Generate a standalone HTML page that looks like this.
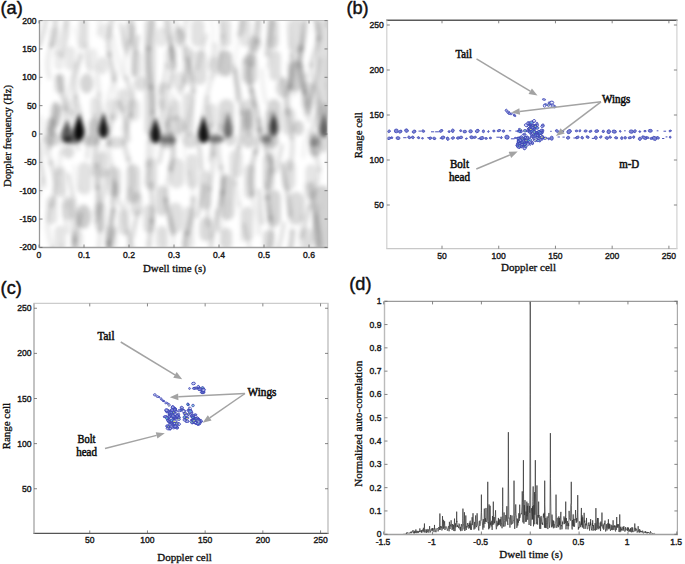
<!DOCTYPE html>
<html><head><meta charset="utf-8"><style>html,body{margin:0;padding:0;background:#fff;overflow:hidden}svg{display:block}</style></head>
<body>
<svg width="685" height="564" viewBox="0 0 685 564">
<defs><filter id="blurA" x="-20%" y="-20%" width="140%" height="140%"><feGaussianBlur stdDeviation="2.3"/></filter><filter id="soft" x="-5%" y="-5%" width="110%" height="110%"><feGaussianBlur stdDeviation="0.45"/></filter><filter id="blurB" x="-30%" y="-30%" width="160%" height="160%"><feGaussianBlur stdDeviation="2.2"/></filter><filter id="blurL" x="-10%" y="-10%" width="120%" height="120%"><feGaussianBlur stdDeviation="2.0"/></filter><clipPath id="clipA"><rect x="39.5" y="20.5" width="288" height="227"/></clipPath></defs>
<rect width="685" height="564" fill="#fff"/>
<rect x="39.5" y="20.5" width="288.0" height="227.0" fill="#ffffff"/>
<g clip-path="url(#clipA)"><g filter="url(#blurA)">
<rect x="78.8" y="18.5" width="9.35" height="30.52" rx="4.68" fill="#000" fill-opacity="0.127"/>
<ellipse cx="86.6" cy="83.5" rx="6.79" ry="9.97" fill="#000" fill-opacity="0.166"/>
<rect x="54.4" y="73.5" width="10.41" height="19.93" rx="5.20" fill="#000" fill-opacity="0.127"/>
<rect x="49.1" y="27.0" width="9.35" height="19.93" rx="4.68" fill="#000" fill-opacity="0.076"/>
<rect x="54.4" y="50.3" width="9.35" height="19.93" rx="4.68" fill="#000" fill-opacity="0.076"/>
<rect x="65.0" y="46.0" width="10.41" height="24.17" rx="5.20" fill="#000" fill-opacity="0.089"/>
<rect x="86.2" y="48.1" width="11.47" height="22.05" rx="5.73" fill="#000" fill-opacity="0.076"/>
<ellipse cx="102.5" cy="65.5" rx="5.73" ry="8.91" fill="#000" fill-opacity="0.102"/>
<ellipse cx="105.7" cy="31.6" rx="6.79" ry="8.91" fill="#000" fill-opacity="0.076"/>
<rect x="122.2" y="22.7" width="13.58" height="28.40" rx="6.79" fill="#000" fill-opacity="0.089"/>
<rect x="130.6" y="50.3" width="11.47" height="26.29" rx="5.73" fill="#000" fill-opacity="0.102"/>
<ellipse cx="140.6" cy="83.5" rx="5.73" ry="7.85" fill="#000" fill-opacity="0.127"/>
<rect x="144.4" y="18.5" width="11.47" height="117.10" rx="5.73" fill="#000" fill-opacity="0.127"/>
<rect x="156.0" y="27.0" width="11.47" height="19.93" rx="5.73" fill="#000" fill-opacity="0.089"/>
<rect x="164.5" y="48.1" width="11.47" height="22.05" rx="5.73" fill="#000" fill-opacity="0.089"/>
<ellipse cx="179.2" cy="35.9" rx="6.26" ry="8.91" fill="#000" fill-opacity="0.102"/>
<ellipse cx="179.2" cy="81.4" rx="6.26" ry="9.97" fill="#000" fill-opacity="0.102"/>
<rect x="117.9" y="88.4" width="11.47" height="24.17" rx="5.73" fill="#000" fill-opacity="0.115"/>
<rect x="128.5" y="98.9" width="11.47" height="22.05" rx="5.73" fill="#000" fill-opacity="0.102"/>
<rect x="50.2" y="103.2" width="11.47" height="24.17" rx="5.73" fill="#000" fill-opacity="0.102"/>
<rect x="67.1" y="98.9" width="10.41" height="17.82" rx="5.20" fill="#000" fill-opacity="0.089"/>
<rect x="90.4" y="96.8" width="9.35" height="22.05" rx="4.68" fill="#000" fill-opacity="0.102"/>
<rect x="107.4" y="98.9" width="11.47" height="22.05" rx="5.73" fill="#000" fill-opacity="0.089"/>
<rect x="158.2" y="82.0" width="11.47" height="28.40" rx="5.73" fill="#000" fill-opacity="0.102"/>
<rect x="168.7" y="98.9" width="11.47" height="22.05" rx="5.73" fill="#000" fill-opacity="0.102"/>
<rect x="46.0" y="118.0" width="9.35" height="17.61" rx="4.68" fill="#000" fill-opacity="0.140"/>
<rect x="88.3" y="118.0" width="10.41" height="17.61" rx="5.20" fill="#000" fill-opacity="0.166"/>
<ellipse cx="175.0" cy="125.7" rx="10.50" ry="9.86" fill="#000" fill-opacity="0.140"/>
<rect x="191.0" y="18.5" width="13.58" height="28.40" rx="6.79" fill="#000" fill-opacity="0.115"/>
<rect x="193.1" y="50.3" width="13.58" height="34.75" rx="6.79" fill="#000" fill-opacity="0.127"/>
<rect x="218.5" y="50.3" width="13.58" height="26.29" rx="6.79" fill="#000" fill-opacity="0.204"/>
<rect x="220.6" y="18.5" width="10.41" height="28.40" rx="5.20" fill="#000" fill-opacity="0.115"/>
<ellipse cx="213.6" cy="65.5" rx="5.73" ry="8.91" fill="#000" fill-opacity="0.089"/>
<rect x="239.7" y="18.5" width="11.47" height="28.40" rx="5.73" fill="#000" fill-opacity="0.102"/>
<rect x="241.8" y="54.5" width="15.70" height="30.52" rx="7.85" fill="#000" fill-opacity="0.140"/>
<rect x="267.2" y="18.5" width="11.47" height="30.52" rx="5.73" fill="#000" fill-opacity="0.140"/>
<rect x="269.3" y="50.3" width="11.47" height="30.52" rx="5.73" fill="#000" fill-opacity="0.127"/>
<rect x="288.3" y="18.5" width="15.70" height="34.75" rx="7.85" fill="#000" fill-opacity="0.127"/>
<rect x="288.3" y="60.8" width="15.70" height="30.52" rx="7.85" fill="#000" fill-opacity="0.166"/>
<ellipse cx="283.5" cy="87.7" rx="7.85" ry="9.97" fill="#000" fill-opacity="0.140"/>
<rect x="315.9" y="18.5" width="14.64" height="117.10" rx="7.32" fill="#000" fill-opacity="0.127"/>
<rect x="301.0" y="82.0" width="13.58" height="28.40" rx="6.79" fill="#000" fill-opacity="0.102"/>
<rect x="182.5" y="46.0" width="9.35" height="38.99" rx="4.68" fill="#000" fill-opacity="0.102"/>
<rect x="182.5" y="92.6" width="11.47" height="43.01" rx="5.73" fill="#000" fill-opacity="0.115"/>
<rect x="205.8" y="103.2" width="11.47" height="24.17" rx="5.73" fill="#000" fill-opacity="0.102"/>
<rect x="218.5" y="98.9" width="15.70" height="36.66" rx="7.85" fill="#000" fill-opacity="0.140"/>
<rect x="241.8" y="98.9" width="13.58" height="36.66" rx="6.79" fill="#000" fill-opacity="0.127"/>
<rect x="267.2" y="98.9" width="13.58" height="36.66" rx="6.79" fill="#000" fill-opacity="0.166"/>
<rect x="282.0" y="107.4" width="13.58" height="28.19" rx="6.79" fill="#000" fill-opacity="0.115"/>
<ellipse cx="298.3" cy="127.9" rx="5.73" ry="7.74" fill="#000" fill-opacity="0.166"/>
<rect x="318.0" y="103.2" width="12.53" height="32.42" rx="6.26" fill="#000" fill-opacity="0.166"/>
<ellipse cx="254.9" cy="43.3" rx="6.79" ry="7.85" fill="#000" fill-opacity="0.102"/>
<ellipse cx="167.1" cy="140.4" rx="8.91" ry="7.85" fill="#000" fill-opacity="0.217"/>
<ellipse cx="90.9" cy="140.4" rx="8.91" ry="5.73" fill="#000" fill-opacity="0.191"/>
<ellipse cx="52.8" cy="139.3" rx="8.91" ry="6.79" fill="#000" fill-opacity="0.166"/>
<ellipse cx="116.3" cy="142.5" rx="8.91" ry="5.73" fill="#000" fill-opacity="0.140"/>
<ellipse cx="68.6" cy="152.0" rx="5.73" ry="6.79" fill="#000" fill-opacity="0.140"/>
<rect x="77.7" y="162.1" width="13.58" height="32.64" rx="6.79" fill="#000" fill-opacity="0.115"/>
<rect x="54.4" y="166.4" width="11.47" height="30.52" rx="5.73" fill="#000" fill-opacity="0.115"/>
<rect x="96.8" y="151.6" width="11.47" height="26.29" rx="5.73" fill="#000" fill-opacity="0.115"/>
<rect x="107.4" y="166.4" width="13.58" height="30.52" rx="6.79" fill="#000" fill-opacity="0.127"/>
<rect x="126.4" y="164.3" width="13.58" height="38.99" rx="6.79" fill="#000" fill-opacity="0.140"/>
<rect x="145.5" y="157.9" width="11.47" height="32.64" rx="5.73" fill="#000" fill-opacity="0.127"/>
<rect x="156.0" y="185.4" width="11.47" height="30.52" rx="5.73" fill="#000" fill-opacity="0.140"/>
<rect x="168.7" y="157.9" width="15.70" height="30.52" rx="7.85" fill="#000" fill-opacity="0.115"/>
<ellipse cx="83.5" cy="216.6" rx="7.85" ry="12.08" fill="#000" fill-opacity="0.191"/>
<rect x="62.9" y="196.0" width="11.47" height="24.17" rx="5.73" fill="#000" fill-opacity="0.115"/>
<rect x="94.7" y="202.4" width="11.47" height="28.40" rx="5.73" fill="#000" fill-opacity="0.115"/>
<rect x="117.9" y="208.7" width="11.47" height="26.29" rx="5.73" fill="#000" fill-opacity="0.115"/>
<rect x="130.6" y="191.8" width="11.47" height="24.17" rx="5.73" fill="#000" fill-opacity="0.127"/>
<rect x="143.3" y="204.5" width="11.47" height="28.40" rx="5.73" fill="#000" fill-opacity="0.127"/>
<rect x="168.7" y="202.4" width="13.58" height="30.52" rx="6.79" fill="#000" fill-opacity="0.127"/>
<rect x="46.0" y="196.0" width="11.47" height="28.40" rx="5.73" fill="#000" fill-opacity="0.102"/>
<rect x="54.4" y="225.6" width="11.47" height="23.96" rx="5.73" fill="#000" fill-opacity="0.102"/>
<rect x="71.4" y="229.9" width="11.47" height="19.72" rx="5.73" fill="#000" fill-opacity="0.102"/>
<rect x="105.2" y="225.6" width="11.47" height="23.96" rx="5.73" fill="#000" fill-opacity="0.115"/>
<rect x="156.0" y="225.6" width="11.47" height="23.96" rx="5.73" fill="#000" fill-opacity="0.115"/>
<ellipse cx="190.4" cy="140.4" rx="7.85" ry="7.85" fill="#000" fill-opacity="0.140"/>
<ellipse cx="230.6" cy="139.3" rx="5.73" ry="6.79" fill="#000" fill-opacity="0.140"/>
<ellipse cx="248.6" cy="140.4" rx="6.79" ry="7.85" fill="#000" fill-opacity="0.166"/>
<ellipse cx="270.8" cy="140.4" rx="7.85" ry="7.85" fill="#000" fill-opacity="0.217"/>
<rect x="309.5" y="132.5" width="11.47" height="24.17" rx="5.73" fill="#000" fill-opacity="0.217"/>
<ellipse cx="324.2" cy="142.5" rx="6.26" ry="9.97" fill="#000" fill-opacity="0.140"/>
<rect x="186.7" y="153.7" width="11.47" height="34.75" rx="5.73" fill="#000" fill-opacity="0.115"/>
<rect x="199.4" y="170.6" width="11.47" height="38.99" rx="5.73" fill="#000" fill-opacity="0.127"/>
<rect x="220.6" y="174.8" width="13.58" height="45.34" rx="6.79" fill="#000" fill-opacity="0.166"/>
<rect x="229.1" y="149.4" width="13.58" height="28.40" rx="6.79" fill="#000" fill-opacity="0.102"/>
<rect x="243.9" y="164.3" width="11.47" height="34.75" rx="5.73" fill="#000" fill-opacity="0.115"/>
<rect x="241.8" y="206.6" width="11.47" height="34.75" rx="5.73" fill="#000" fill-opacity="0.127"/>
<rect x="262.9" y="153.7" width="11.47" height="36.87" rx="5.73" fill="#000" fill-opacity="0.140"/>
<rect x="267.2" y="189.7" width="13.58" height="36.87" rx="6.79" fill="#000" fill-opacity="0.166"/>
<rect x="282.0" y="160.0" width="13.58" height="30.52" rx="6.79" fill="#000" fill-opacity="0.115"/>
<rect x="288.3" y="191.8" width="15.70" height="32.64" rx="7.85" fill="#000" fill-opacity="0.140"/>
<rect x="305.3" y="164.3" width="11.47" height="34.75" rx="5.73" fill="#000" fill-opacity="0.102"/>
<rect x="313.7" y="185.4" width="16.76" height="64.18" rx="8.38" fill="#000" fill-opacity="0.178"/>
<rect x="199.4" y="217.2" width="13.58" height="24.17" rx="6.79" fill="#000" fill-opacity="0.140"/>
<rect x="220.6" y="227.8" width="11.47" height="21.84" rx="5.73" fill="#000" fill-opacity="0.140"/>
<rect x="262.9" y="229.9" width="11.47" height="19.72" rx="5.73" fill="#000" fill-opacity="0.140"/>
<rect x="301.0" y="227.8" width="11.47" height="21.84" rx="5.73" fill="#000" fill-opacity="0.115"/>
<rect x="182.5" y="206.6" width="11.47" height="43.01" rx="5.73" fill="#000" fill-opacity="0.102"/>
</g>
<g filter="url(#blurL)">
<path d="M35.7,12.5 L34.4,19.1 L32.9,25.6 L31.6,32.2 L30.8,38.7" stroke="#000" stroke-opacity="0.15" stroke-width="5" fill="none" stroke-linecap="round"/>
<path d="M30.8,38.7 L31.0,45.3 L31.9,51.9 L33.3,58.4 L34.8,65.0" stroke="#000" stroke-opacity="0.07" stroke-width="5" fill="none" stroke-linecap="round"/>
<path d="M34.8,65.0 L36.1,74.3 L35.8,83.5 L34.0,92.8 L32.0,102.1" stroke="#000" stroke-opacity="0.10" stroke-width="5" fill="none" stroke-linecap="round"/>
<path d="M32.0,102.1 L30.8,113.0 L31.9,123.8 L34.3,134.7 L36.1,145.6" stroke="#000" stroke-opacity="0.09" stroke-width="5" fill="none" stroke-linecap="round"/>
<path d="M36.1,145.6 L36.0,153.2 L34.9,160.8 L33.2,168.5 L31.6,176.1" stroke="#000" stroke-opacity="0.12" stroke-width="5" fill="none" stroke-linecap="round"/>
<path d="M31.6,176.1 L30.9,182.5 L30.9,188.8 L31.8,195.2 L33.1,201.5" stroke="#000" stroke-opacity="0.17" stroke-width="5" fill="none" stroke-linecap="round"/>
<path d="M33.1,201.5 L34.8,208.9 L36.0,216.2 L36.2,223.5 L35.3,230.9" stroke="#000" stroke-opacity="0.07" stroke-width="5" fill="none" stroke-linecap="round"/>
<path d="M54.0,12.5 L55.4,20.8 L55.3,29.1 L53.7,37.4 L51.2,45.7" stroke="#000" stroke-opacity="0.15" stroke-width="5" fill="none" stroke-linecap="round"/>
<path d="M51.2,45.7 L48.9,53.6 L47.6,61.6 L47.8,69.5 L49.4,77.4" stroke="#000" stroke-opacity="0.08" stroke-width="5" fill="none" stroke-linecap="round"/>
<path d="M55.6,104.2 L55.2,110.5 L53.9,116.7 L52.1,123.0 L50.2,129.3" stroke="#000" stroke-opacity="0.19" stroke-width="5" fill="none" stroke-linecap="round"/>
<path d="M50.2,129.3 L48.1,137.6 L47.5,146.0 L48.6,154.3 L50.8,162.6" stroke="#000" stroke-opacity="0.09" stroke-width="5" fill="none" stroke-linecap="round"/>
<path d="M50.8,162.6 L54.0,173.3 L55.6,183.9 L54.5,194.5 L51.6,205.1" stroke="#000" stroke-opacity="0.12" stroke-width="5" fill="none" stroke-linecap="round"/>
<path d="M51.6,205.1 L48.5,216.2 L47.6,227.3 L49.5,238.5 L52.9,249.6" stroke="#000" stroke-opacity="0.07" stroke-width="5" fill="none" stroke-linecap="round"/>
<path d="M52.9,249.6 L54.5,255.9 L55.5,262.3 L55.5,268.6 L54.5,275.0" stroke="#000" stroke-opacity="0.18" stroke-width="5" fill="none" stroke-linecap="round"/>
<path d="M65.7,12.5 L67.0,23.4 L66.5,34.3 L64.3,45.2 L61.6,56.1" stroke="#000" stroke-opacity="0.13" stroke-width="5" fill="none" stroke-linecap="round"/>
<path d="M59.4,77.0 L60.4,85.0 L62.1,92.9 L64.1,100.9 L65.9,108.9" stroke="#000" stroke-opacity="0.16" stroke-width="5" fill="none" stroke-linecap="round"/>
<path d="M65.9,108.9 L66.7,114.4 L67.1,119.9 L67.0,125.4 L66.4,130.9" stroke="#000" stroke-opacity="0.08" stroke-width="5" fill="none" stroke-linecap="round"/>
<path d="M66.4,130.9 L65.3,136.4 L64.0,142.0 L62.6,147.5 L61.3,153.0" stroke="#000" stroke-opacity="0.06" stroke-width="5" fill="none" stroke-linecap="round"/>
<path d="M61.3,153.0 L60.3,158.1 L59.6,163.1 L59.3,168.2 L59.5,173.2" stroke="#000" stroke-opacity="0.06" stroke-width="5" fill="none" stroke-linecap="round"/>
<path d="M59.5,173.2 L60.5,181.5 L62.4,189.7 L64.4,198.0 L66.2,206.3" stroke="#000" stroke-opacity="0.04" stroke-width="5" fill="none" stroke-linecap="round"/>
<path d="M62.0,246.0 L60.6,252.3 L59.7,258.6 L59.3,264.9 L59.7,271.2" stroke="#000" stroke-opacity="0.05" stroke-width="5" fill="none" stroke-linecap="round"/>
<path d="M80.6,55.6 L77.8,66.0 L75.1,76.4 L74.2,86.8 L75.6,97.2" stroke="#000" stroke-opacity="0.12" stroke-width="5" fill="none" stroke-linecap="round"/>
<path d="M75.6,97.2 L78.2,106.8 L80.7,116.5 L81.8,126.2 L80.8,135.8" stroke="#000" stroke-opacity="0.12" stroke-width="5" fill="none" stroke-linecap="round"/>
<path d="M74.2,166.0 L74.5,171.9 L75.5,177.8 L77.0,183.7 L78.7,189.6" stroke="#000" stroke-opacity="0.03" stroke-width="5" fill="none" stroke-linecap="round"/>
<path d="M81.3,214.1 L80.1,220.4 L78.3,226.7 L76.5,233.0 L75.1,239.3" stroke="#000" stroke-opacity="0.11" stroke-width="5" fill="none" stroke-linecap="round"/>
<path d="M75.1,239.3 L74.2,249.1 L75.4,258.9 L78.1,268.7 L80.6,278.5" stroke="#000" stroke-opacity="0.15" stroke-width="5" fill="none" stroke-linecap="round"/>
<path d="M100.2,12.5 L99.9,18.0 L99.5,23.4 L99.0,28.9 L98.4,34.3" stroke="#000" stroke-opacity="0.06" stroke-width="5" fill="none" stroke-linecap="round"/>
<path d="M96.7,69.0 L97.1,75.3 L97.7,81.7 L98.3,88.0 L99.0,94.4" stroke="#000" stroke-opacity="0.08" stroke-width="5" fill="none" stroke-linecap="round"/>
<path d="M99.0,94.4 L99.9,104.5 L100.3,114.6 L100.1,124.8 L99.3,134.9" stroke="#000" stroke-opacity="0.08" stroke-width="5" fill="none" stroke-linecap="round"/>
<path d="M99.3,134.9 L98.5,142.5 L97.7,150.1 L97.1,157.7 L96.7,165.3" stroke="#000" stroke-opacity="0.07" stroke-width="5" fill="none" stroke-linecap="round"/>
<path d="M96.7,165.3 L96.6,170.9 L96.7,176.4 L96.9,182.0 L97.3,187.6" stroke="#000" stroke-opacity="0.17" stroke-width="5" fill="none" stroke-linecap="round"/>
<path d="M97.3,187.6 L98.4,198.4 L99.5,209.1 L100.2,219.9 L100.2,230.7" stroke="#000" stroke-opacity="0.14" stroke-width="5" fill="none" stroke-linecap="round"/>
<path d="M100.2,230.7 L99.8,238.2 L99.2,245.6 L98.4,253.1 L97.6,260.6" stroke="#000" stroke-opacity="0.09" stroke-width="5" fill="none" stroke-linecap="round"/>
<path d="M113.3,12.5 L111.1,23.0 L109.2,33.4 L108.5,43.9 L109.3,54.4" stroke="#000" stroke-opacity="0.14" stroke-width="5" fill="none" stroke-linecap="round"/>
<path d="M109.3,54.4 L110.4,60.7 L111.7,67.1 L113.1,73.5 L114.3,79.8" stroke="#000" stroke-opacity="0.16" stroke-width="5" fill="none" stroke-linecap="round"/>
<path d="M114.3,79.8 L115.3,89.0 L115.3,98.2 L114.1,107.5 L112.3,116.7" stroke="#000" stroke-opacity="0.05" stroke-width="5" fill="none" stroke-linecap="round"/>
<path d="M112.3,116.7 L110.8,123.5 L109.6,130.4 L108.8,137.2 L108.6,144.1" stroke="#000" stroke-opacity="0.14" stroke-width="5" fill="none" stroke-linecap="round"/>
<path d="M108.6,144.1 L108.9,149.6 L109.5,155.1 L110.5,160.6 L111.7,166.1" stroke="#000" stroke-opacity="0.08" stroke-width="5" fill="none" stroke-linecap="round"/>
<path d="M111.7,166.1 L114.0,177.1 L115.3,188.1 L115.2,199.2 L113.5,210.2" stroke="#000" stroke-opacity="0.05" stroke-width="5" fill="none" stroke-linecap="round"/>
<path d="M113.5,210.2 L111.8,218.3 L110.1,226.5 L108.9,234.6 L108.5,242.8" stroke="#000" stroke-opacity="0.17" stroke-width="5" fill="none" stroke-linecap="round"/>
<path d="M108.5,242.8 L109.4,253.2 L111.3,263.7 L113.6,274.2 L115.1,284.6" stroke="#000" stroke-opacity="0.15" stroke-width="5" fill="none" stroke-linecap="round"/>
<path d="M129.7,12.5 L131.9,20.1 L132.7,27.6 L131.9,35.2 L129.8,42.7" stroke="#000" stroke-opacity="0.13" stroke-width="5" fill="none" stroke-linecap="round"/>
<path d="M129.8,42.7 L126.7,51.6 L124.5,60.4 L124.3,69.2 L126.3,78.0" stroke="#000" stroke-opacity="0.05" stroke-width="5" fill="none" stroke-linecap="round"/>
<path d="M126.3,78.0 L129.4,87.2 L132.1,96.5 L132.6,105.7 L130.8,115.0" stroke="#000" stroke-opacity="0.12" stroke-width="5" fill="none" stroke-linecap="round"/>
<path d="M130.8,115.0 L127.0,126.1 L124.3,137.3 L125.0,148.5 L128.4,159.6" stroke="#000" stroke-opacity="0.13" stroke-width="5" fill="none" stroke-linecap="round"/>
<path d="M128.4,159.6 L131.0,167.4 L132.5,175.1 L132.4,182.9 L130.7,190.6" stroke="#000" stroke-opacity="0.07" stroke-width="5" fill="none" stroke-linecap="round"/>
<path d="M130.7,190.6 L127.1,201.2 L124.4,211.7 L124.7,222.3 L127.6,232.8" stroke="#000" stroke-opacity="0.07" stroke-width="5" fill="none" stroke-linecap="round"/>
<path d="M127.6,232.8 L130.7,242.0 L132.6,251.2 L132.1,260.3 L129.6,269.5" stroke="#000" stroke-opacity="0.13" stroke-width="5" fill="none" stroke-linecap="round"/>
<path d="M152.4,12.5 L151.7,21.5 L150.7,30.5 L149.5,39.5 L148.6,48.5" stroke="#000" stroke-opacity="0.13" stroke-width="5" fill="none" stroke-linecap="round"/>
<path d="M148.6,48.5 L148.3,58.1 L148.7,67.8 L149.7,77.4 L150.9,87.1" stroke="#000" stroke-opacity="0.17" stroke-width="5" fill="none" stroke-linecap="round"/>
<path d="M150.9,87.1 L151.7,93.5 L152.2,100.0 L152.4,106.4 L152.3,112.9" stroke="#000" stroke-opacity="0.17" stroke-width="5" fill="none" stroke-linecap="round"/>
<path d="M152.3,112.9 L151.9,120.0 L151.1,127.2 L150.2,134.3 L149.3,141.5" stroke="#000" stroke-opacity="0.08" stroke-width="5" fill="none" stroke-linecap="round"/>
<path d="M149.3,141.5 L148.7,147.2 L148.4,152.9 L148.3,158.6 L148.5,164.3" stroke="#000" stroke-opacity="0.10" stroke-width="5" fill="none" stroke-linecap="round"/>
<path d="M148.5,164.3 L148.8,169.3 L149.3,174.3 L149.9,179.3 L150.6,184.3" stroke="#000" stroke-opacity="0.06" stroke-width="5" fill="none" stroke-linecap="round"/>
<path d="M150.6,184.3 L151.7,193.5 L152.4,202.7 L152.4,211.9 L151.7,221.1" stroke="#000" stroke-opacity="0.14" stroke-width="5" fill="none" stroke-linecap="round"/>
<path d="M151.7,221.1 L151.1,227.2 L150.3,233.2 L149.5,239.3 L148.9,245.3" stroke="#000" stroke-opacity="0.15" stroke-width="5" fill="none" stroke-linecap="round"/>
<path d="M148.9,245.3 L148.4,253.1 L148.3,260.9 L148.8,268.7 L149.6,276.4" stroke="#000" stroke-opacity="0.04" stroke-width="5" fill="none" stroke-linecap="round"/>
<path d="M166.3,12.5 L165.9,21.4 L166.9,30.2 L169.0,39.1 L171.3,48.0" stroke="#000" stroke-opacity="0.12" stroke-width="5" fill="none" stroke-linecap="round"/>
<path d="M171.3,48.0 L173.0,57.8 L173.1,67.6 L171.6,77.3 L169.1,87.1" stroke="#000" stroke-opacity="0.15" stroke-width="5" fill="none" stroke-linecap="round"/>
<path d="M166.1,112.1 L166.8,117.8 L168.0,123.4 L169.5,129.1 L170.9,134.8" stroke="#000" stroke-opacity="0.06" stroke-width="5" fill="none" stroke-linecap="round"/>
<path d="M170.9,134.8 L172.7,143.4 L173.3,152.0 L172.5,160.6 L170.6,169.3" stroke="#000" stroke-opacity="0.18" stroke-width="5" fill="none" stroke-linecap="round"/>
<path d="M170.6,169.3 L168.7,176.9 L166.9,184.5 L165.9,192.1 L166.0,199.7" stroke="#000" stroke-opacity="0.07" stroke-width="5" fill="none" stroke-linecap="round"/>
<path d="M166.0,199.7 L167.3,208.2 L169.3,216.7 L171.5,225.1 L173.0,233.6" stroke="#000" stroke-opacity="0.18" stroke-width="5" fill="none" stroke-linecap="round"/>
<path d="M173.0,233.6 L173.2,242.3 L172.1,251.0 L170.1,259.6 L167.8,268.3" stroke="#000" stroke-opacity="0.06" stroke-width="5" fill="none" stroke-linecap="round"/>
<path d="M188.4,12.5 L186.9,18.6 L185.6,24.7 L184.7,30.7 L184.4,36.8" stroke="#000" stroke-opacity="0.09" stroke-width="5" fill="none" stroke-linecap="round"/>
<path d="M187.6,60.0 L189.6,67.8 L191.5,75.6 L192.8,83.4 L193.3,91.2" stroke="#000" stroke-opacity="0.16" stroke-width="5" fill="none" stroke-linecap="round"/>
<path d="M193.3,91.2 L192.7,100.6 L191.0,110.0 L188.6,119.3 L186.3,128.7" stroke="#000" stroke-opacity="0.08" stroke-width="5" fill="none" stroke-linecap="round"/>
<path d="M186.3,128.7 L184.6,139.7 L184.6,150.7 L186.2,161.6 L188.9,172.6" stroke="#000" stroke-opacity="0.03" stroke-width="5" fill="none" stroke-linecap="round"/>
<path d="M188.9,172.6 L190.6,179.1 L192.0,185.7 L192.9,192.3 L193.3,198.8" stroke="#000" stroke-opacity="0.05" stroke-width="5" fill="none" stroke-linecap="round"/>
<path d="M193.3,198.8 L192.8,207.4 L191.3,216.0 L189.3,224.6 L187.1,233.2" stroke="#000" stroke-opacity="0.17" stroke-width="5" fill="none" stroke-linecap="round"/>
<path d="M187.1,233.2 L185.5,240.5 L184.6,247.9 L184.4,255.3 L185.1,262.7" stroke="#000" stroke-opacity="0.16" stroke-width="5" fill="none" stroke-linecap="round"/>
<path d="M210.4,12.5 L211.7,20.5 L212.7,28.5 L213.3,36.4 L213.3,44.4" stroke="#000" stroke-opacity="0.03" stroke-width="5" fill="none" stroke-linecap="round"/>
<path d="M213.3,44.4 L213.0,49.9 L212.5,55.3 L211.8,60.8 L210.9,66.3" stroke="#000" stroke-opacity="0.05" stroke-width="5" fill="none" stroke-linecap="round"/>
<path d="M207.5,97.8 L207.7,104.8 L208.3,111.9 L209.3,119.0 L210.4,126.0" stroke="#000" stroke-opacity="0.09" stroke-width="5" fill="none" stroke-linecap="round"/>
<path d="M210.4,126.0 L211.5,133.1 L212.5,140.2 L213.1,147.3 L213.4,154.4" stroke="#000" stroke-opacity="0.14" stroke-width="5" fill="none" stroke-linecap="round"/>
<path d="M213.4,154.4 L213.1,163.0 L212.2,171.5 L210.9,180.1 L209.5,188.7" stroke="#000" stroke-opacity="0.10" stroke-width="5" fill="none" stroke-linecap="round"/>
<path d="M209.5,188.7 L208.3,197.6 L207.6,206.6 L207.6,215.5 L208.2,224.5" stroke="#000" stroke-opacity="0.11" stroke-width="5" fill="none" stroke-linecap="round"/>
<path d="M208.2,224.5 L209.2,232.1 L210.4,239.7 L211.6,247.3 L212.6,254.8" stroke="#000" stroke-opacity="0.03" stroke-width="5" fill="none" stroke-linecap="round"/>
<path d="M219.3,12.5 L220.6,18.5 L221.8,24.5 L222.7,30.5 L223.0,36.5" stroke="#000" stroke-opacity="0.08" stroke-width="5" fill="none" stroke-linecap="round"/>
<path d="M223.0,36.5 L222.3,45.8 L220.5,55.2 L218.7,64.5 L218.0,73.9" stroke="#000" stroke-opacity="0.08" stroke-width="5" fill="none" stroke-linecap="round"/>
<path d="M222.9,114.0 L222.2,120.1 L221.1,126.1 L219.8,132.2 L218.7,138.3" stroke="#000" stroke-opacity="0.05" stroke-width="5" fill="none" stroke-linecap="round"/>
<path d="M218.7,138.3 L218.0,145.6 L218.3,152.8 L219.4,160.1 L220.9,167.4" stroke="#000" stroke-opacity="0.11" stroke-width="5" fill="none" stroke-linecap="round"/>
<path d="M220.9,167.4 L222.1,173.6 L222.9,179.9 L223.0,186.1 L222.4,192.4" stroke="#000" stroke-opacity="0.11" stroke-width="5" fill="none" stroke-linecap="round"/>
<path d="M222.4,192.4 L220.7,201.8 L218.8,211.1 L218.0,220.5 L218.7,229.9" stroke="#000" stroke-opacity="0.13" stroke-width="5" fill="none" stroke-linecap="round"/>
<path d="M242.4,12.5 L242.1,18.0 L241.5,23.6 L240.6,29.1 L239.5,34.7" stroke="#000" stroke-opacity="0.15" stroke-width="5" fill="none" stroke-linecap="round"/>
<path d="M239.5,34.7 L237.7,43.7 L236.1,52.7 L235.2,61.8 L235.3,70.8" stroke="#000" stroke-opacity="0.03" stroke-width="5" fill="none" stroke-linecap="round"/>
<path d="M235.3,70.8 L236.5,81.3 L238.5,91.7 L240.6,102.2 L242.1,112.6" stroke="#000" stroke-opacity="0.14" stroke-width="5" fill="none" stroke-linecap="round"/>
<path d="M242.1,112.6 L242.4,121.4 L241.9,130.3 L240.5,139.1 L238.7,148.0" stroke="#000" stroke-opacity="0.15" stroke-width="5" fill="none" stroke-linecap="round"/>
<path d="M238.7,148.0 L237.0,156.8 L235.6,165.6 L235.1,174.4 L235.5,183.3" stroke="#000" stroke-opacity="0.07" stroke-width="5" fill="none" stroke-linecap="round"/>
<path d="M235.5,183.3 L236.1,188.6 L237.0,193.9 L238.1,199.2 L239.2,204.6" stroke="#000" stroke-opacity="0.07" stroke-width="5" fill="none" stroke-linecap="round"/>
<path d="M239.2,204.6 L240.9,213.5 L242.1,222.4 L242.4,231.3 L241.8,240.2" stroke="#000" stroke-opacity="0.04" stroke-width="5" fill="none" stroke-linecap="round"/>
<path d="M258.0,12.5 L258.9,19.9 L259.1,27.2 L258.4,34.6 L256.9,41.9" stroke="#000" stroke-opacity="0.13" stroke-width="5" fill="none" stroke-linecap="round"/>
<path d="M256.9,41.9 L255.5,47.5 L254.1,53.1 L252.7,58.7 L251.5,64.3" stroke="#000" stroke-opacity="0.15" stroke-width="5" fill="none" stroke-linecap="round"/>
<path d="M251.5,64.3 L250.6,70.8 L250.3,77.3 L250.7,83.8 L251.7,90.2" stroke="#000" stroke-opacity="0.09" stroke-width="5" fill="none" stroke-linecap="round"/>
<path d="M251.7,90.2 L254.1,100.2 L256.7,110.1 L258.6,120.1 L259.1,130.1" stroke="#000" stroke-opacity="0.17" stroke-width="5" fill="none" stroke-linecap="round"/>
<path d="M259.1,130.1 L258.7,135.6 L257.9,141.1 L256.8,146.6 L255.4,152.1" stroke="#000" stroke-opacity="0.16" stroke-width="5" fill="none" stroke-linecap="round"/>
<path d="M255.4,152.1 L252.7,162.5 L250.8,173.0 L250.4,183.5 L251.7,193.9" stroke="#000" stroke-opacity="0.16" stroke-width="5" fill="none" stroke-linecap="round"/>
<path d="M251.7,193.9 L254.0,203.8 L256.6,213.6 L258.5,223.5 L259.1,233.3" stroke="#000" stroke-opacity="0.07" stroke-width="5" fill="none" stroke-linecap="round"/>
<path d="M271.1,12.5 L271.8,23.0 L270.5,33.5 L268.3,44.0 L267.0,54.5" stroke="#000" stroke-opacity="0.16" stroke-width="5" fill="none" stroke-linecap="round"/>
<path d="M268.5,112.6 L267.3,119.8 L267.0,127.0 L267.7,134.2 L269.1,141.4" stroke="#000" stroke-opacity="0.12" stroke-width="5" fill="none" stroke-linecap="round"/>
<path d="M269.1,141.4 L270.5,148.4 L271.6,155.4 L271.8,162.4 L271.1,169.4" stroke="#000" stroke-opacity="0.06" stroke-width="5" fill="none" stroke-linecap="round"/>
<path d="M271.1,169.4 L269.7,176.4 L268.2,183.5 L267.2,190.5 L267.1,197.6" stroke="#000" stroke-opacity="0.16" stroke-width="5" fill="none" stroke-linecap="round"/>
<path d="M267.1,197.6 L267.6,202.8 L268.4,208.0 L269.5,213.2 L270.6,218.4" stroke="#000" stroke-opacity="0.16" stroke-width="5" fill="none" stroke-linecap="round"/>
<path d="M270.6,218.4 L271.7,227.2 L271.4,236.0 L269.9,244.9 L268.1,253.7" stroke="#000" stroke-opacity="0.11" stroke-width="5" fill="none" stroke-linecap="round"/>
<path d="M288.0,12.5 L287.8,23.1 L288.8,33.8 L290.7,44.4 L292.1,55.0" stroke="#000" stroke-opacity="0.04" stroke-width="5" fill="none" stroke-linecap="round"/>
<path d="M292.1,55.0 L292.4,63.3 L291.8,71.6 L290.6,79.9 L289.2,88.1" stroke="#000" stroke-opacity="0.19" stroke-width="5" fill="none" stroke-linecap="round"/>
<path d="M289.2,88.1 L288.3,94.5 L287.8,100.8 L287.8,107.1 L288.3,113.4" stroke="#000" stroke-opacity="0.12" stroke-width="5" fill="none" stroke-linecap="round"/>
<path d="M288.3,113.4 L289.1,119.5 L290.1,125.5 L291.2,131.5 L292.0,137.5" stroke="#000" stroke-opacity="0.11" stroke-width="5" fill="none" stroke-linecap="round"/>
<path d="M292.0,137.5 L292.4,145.3 L292.1,153.0 L291.1,160.7 L289.8,168.4" stroke="#000" stroke-opacity="0.11" stroke-width="5" fill="none" stroke-linecap="round"/>
<path d="M289.8,168.4 L288.9,173.6 L288.2,178.8 L287.8,183.9 L287.7,189.1" stroke="#000" stroke-opacity="0.04" stroke-width="5" fill="none" stroke-linecap="round"/>
<path d="M287.7,189.1 L288.6,199.7 L290.3,210.4 L291.9,221.0 L292.4,231.6" stroke="#000" stroke-opacity="0.03" stroke-width="5" fill="none" stroke-linecap="round"/>
<path d="M292.4,231.6 L291.9,238.5 L291.0,245.4 L289.8,252.3 L288.7,259.1" stroke="#000" stroke-opacity="0.19" stroke-width="5" fill="none" stroke-linecap="round"/>
<path d="M305.5,12.5 L306.2,21.5 L305.4,30.5 L303.6,39.6 L301.5,48.6" stroke="#000" stroke-opacity="0.10" stroke-width="5" fill="none" stroke-linecap="round"/>
<path d="M301.5,48.6 L299.9,59.4 L300.0,70.3 L301.9,81.2 L304.4,92.0" stroke="#000" stroke-opacity="0.19" stroke-width="5" fill="none" stroke-linecap="round"/>
<path d="M304.4,92.0 L305.4,97.5 L306.0,102.9 L306.1,108.4 L305.8,113.9" stroke="#000" stroke-opacity="0.11" stroke-width="5" fill="none" stroke-linecap="round"/>
<path d="M305.7,185.3 L306.1,193.5 L305.5,201.6 L304.0,209.7 L302.1,217.9" stroke="#000" stroke-opacity="0.04" stroke-width="5" fill="none" stroke-linecap="round"/>
<path d="M302.1,217.9 L300.4,226.4 L299.7,235.0 L300.2,243.6 L301.7,252.2" stroke="#000" stroke-opacity="0.04" stroke-width="5" fill="none" stroke-linecap="round"/>
<path d="M301.7,252.2 L304.1,262.5 L305.9,272.9 L306.0,283.2 L304.4,293.6" stroke="#000" stroke-opacity="0.08" stroke-width="5" fill="none" stroke-linecap="round"/>
<path d="M313.2,12.5 L315.5,19.1 L317.7,25.6 L318.9,32.2 L318.8,38.7" stroke="#000" stroke-opacity="0.16" stroke-width="5" fill="none" stroke-linecap="round"/>
<path d="M318.8,38.7 L317.3,45.3 L315.1,51.9 L312.9,58.5 L311.4,65.1" stroke="#000" stroke-opacity="0.13" stroke-width="5" fill="none" stroke-linecap="round"/>
<path d="M311.4,65.1 L311.7,74.3 L314.2,83.5 L317.4,92.7 L319.0,101.9" stroke="#000" stroke-opacity="0.10" stroke-width="5" fill="none" stroke-linecap="round"/>
<path d="M319.0,101.9 L317.6,112.4 L314.1,122.8 L311.4,133.3 L311.9,143.7" stroke="#000" stroke-opacity="0.10" stroke-width="5" fill="none" stroke-linecap="round"/>
<path d="M311.9,143.7 L313.7,150.2 L316.0,156.6 L318.0,163.1 L319.0,169.6" stroke="#000" stroke-opacity="0.10" stroke-width="5" fill="none" stroke-linecap="round"/>
<path d="M319.0,169.6 L318.0,178.9 L315.1,188.2 L312.1,197.4 L311.2,206.7" stroke="#000" stroke-opacity="0.08" stroke-width="5" fill="none" stroke-linecap="round"/>
<path d="M319.0,239.9 L318.1,246.4 L316.2,253.0 L313.9,259.5 L312.0,266.1" stroke="#000" stroke-opacity="0.15" stroke-width="5" fill="none" stroke-linecap="round"/>
<path d="M328.1,58.2 L327.4,65.0 L327.0,71.9 L326.9,78.7 L327.1,85.5" stroke="#000" stroke-opacity="0.05" stroke-width="5" fill="none" stroke-linecap="round"/>
<path d="M327.1,85.5 L328.0,96.3 L329.3,107.1 L330.4,117.8 L331.0,128.6" stroke="#000" stroke-opacity="0.05" stroke-width="5" fill="none" stroke-linecap="round"/>
<path d="M331.0,128.6 L330.9,137.2 L330.3,145.8 L329.4,154.4 L328.4,163.0" stroke="#000" stroke-opacity="0.06" stroke-width="5" fill="none" stroke-linecap="round"/>
<path d="M330.8,229.8 L331.0,236.7 L331.0,243.6 L330.6,250.5 L329.9,257.4" stroke="#000" stroke-opacity="0.05" stroke-width="5" fill="none" stroke-linecap="round"/>
<path d="M317.0,3.6 Q317.8,17.2 314.3,30.8" stroke="#000" stroke-opacity="0.03" stroke-width="4.2" fill="none" stroke-linecap="round"/>
<path d="M319.4,206.5 Q312.2,230.3 310.6,254.1" stroke="#000" stroke-opacity="0.05" stroke-width="4.2" fill="none" stroke-linecap="round"/>
<path d="M104.6,145.2 Q101.6,163.8 96.8,182.4" stroke="#000" stroke-opacity="0.04" stroke-width="4.2" fill="none" stroke-linecap="round"/>
<path d="M282.0,164.7 Q287.6,190.1 290.1,215.4" stroke="#000" stroke-opacity="0.14" stroke-width="4.2" fill="none" stroke-linecap="round"/>
<path d="M114.9,170.4 Q115.4,186.4 110.8,202.4" stroke="#000" stroke-opacity="0.06" stroke-width="4.2" fill="none" stroke-linecap="round"/>
<path d="M128.5,20.0 Q131.3,35.8 134.9,51.6" stroke="#000" stroke-opacity="0.08" stroke-width="4.2" fill="none" stroke-linecap="round"/>
<path d="M42.8,180.3 Q36.6,194.2 36.2,208.1" stroke="#000" stroke-opacity="0.09" stroke-width="4.2" fill="none" stroke-linecap="round"/>
<path d="M311.0,183.7 Q314.1,209.8 319.4,235.9" stroke="#000" stroke-opacity="0.15" stroke-width="4.2" fill="none" stroke-linecap="round"/>
<path d="M219.6,124.7 Q213.0,142.5 210.0,160.4" stroke="#000" stroke-opacity="0.10" stroke-width="4.2" fill="none" stroke-linecap="round"/>
<path d="M114.1,180.7 Q115.0,193.9 121.7,207.2" stroke="#000" stroke-opacity="0.10" stroke-width="4.2" fill="none" stroke-linecap="round"/>
<path d="M227.0,201.4 Q224.0,223.5 220.0,245.7" stroke="#000" stroke-opacity="0.03" stroke-width="4.2" fill="none" stroke-linecap="round"/>
<path d="M76.4,62.8 Q67.7,89.6 65.0,116.4" stroke="#000" stroke-opacity="0.08" stroke-width="4.2" fill="none" stroke-linecap="round"/>
<path d="M319.7,59.2 Q317.2,81.4 308.7,103.6" stroke="#000" stroke-opacity="0.11" stroke-width="4.2" fill="none" stroke-linecap="round"/>
<path d="M63.6,204.7 Q64.3,218.5 67.8,232.2" stroke="#000" stroke-opacity="0.09" stroke-width="4.2" fill="none" stroke-linecap="round"/>
<path d="M114.3,231.4 Q106.3,254.2 103.8,277.0" stroke="#000" stroke-opacity="0.10" stroke-width="4.2" fill="none" stroke-linecap="round"/>
<path d="M60.7,106.7 Q53.6,127.4 49.9,148.2" stroke="#000" stroke-opacity="0.15" stroke-width="4.2" fill="none" stroke-linecap="round"/>
<path d="M261.9,70.1 Q262.0,86.2 265.8,102.4" stroke="#000" stroke-opacity="0.06" stroke-width="4.2" fill="none" stroke-linecap="round"/>
<path d="M95.5,115.5 Q88.6,136.6 87.0,157.7" stroke="#000" stroke-opacity="0.10" stroke-width="4.2" fill="none" stroke-linecap="round"/>
<path d="M262.2,129.1 Q267.8,152.0 272.5,174.9" stroke="#000" stroke-opacity="0.04" stroke-width="4.2" fill="none" stroke-linecap="round"/>
<path d="M161.6,100.3 Q162.9,115.7 158.9,131.0" stroke="#000" stroke-opacity="0.12" stroke-width="4.2" fill="none" stroke-linecap="round"/>
<path d="M120.3,24.0 Q123.8,38.8 126.8,53.5" stroke="#000" stroke-opacity="0.11" stroke-width="4.2" fill="none" stroke-linecap="round"/>
<path d="M65.3,22.9 Q60.4,38.1 56.8,53.2" stroke="#000" stroke-opacity="0.09" stroke-width="4.2" fill="none" stroke-linecap="round"/>
<path d="M163.3,231.7 Q165.6,249.2 169.8,266.6" stroke="#000" stroke-opacity="0.04" stroke-width="4.2" fill="none" stroke-linecap="round"/>
<path d="M137.4,212.0 Q132.1,235.9 125.3,259.8" stroke="#000" stroke-opacity="0.10" stroke-width="4.2" fill="none" stroke-linecap="round"/>
<path d="M244.2,224.7 Q250.6,247.8 252.9,270.8" stroke="#000" stroke-opacity="0.09" stroke-width="4.2" fill="none" stroke-linecap="round"/>
<path d="M38.7,141.2 Q38.0,160.2 42.6,179.1" stroke="#000" stroke-opacity="0.07" stroke-width="4.2" fill="none" stroke-linecap="round"/>
<path d="M233.4,65.5 Q238.0,82.8 237.1,100.2" stroke="#000" stroke-opacity="0.11" stroke-width="4.2" fill="none" stroke-linecap="round"/>
<path d="M247.6,61.8 Q248.3,83.5 254.5,105.3" stroke="#000" stroke-opacity="0.11" stroke-width="4.2" fill="none" stroke-linecap="round"/>
<path d="M172.7,94.5 Q178.5,116.4 179.3,138.3" stroke="#000" stroke-opacity="0.06" stroke-width="4.2" fill="none" stroke-linecap="round"/>
<path d="M306.6,236.7 Q305.8,253.0 309.8,269.3" stroke="#000" stroke-opacity="0.03" stroke-width="4.2" fill="none" stroke-linecap="round"/>
<path d="M156.1,130.4 Q153.8,157.1 145.6,183.7" stroke="#000" stroke-opacity="0.06" stroke-width="4.2" fill="none" stroke-linecap="round"/>
<path d="M304.2,21.0 Q303.0,43.8 298.3,66.6" stroke="#000" stroke-opacity="0.13" stroke-width="4.2" fill="none" stroke-linecap="round"/>
<path d="M40.7,117.4 Q42.9,135.9 44.4,154.5" stroke="#000" stroke-opacity="0.06" stroke-width="4.2" fill="none" stroke-linecap="round"/>
<path d="M162.4,85.5 Q163.8,105.3 165.4,125.1" stroke="#000" stroke-opacity="0.04" stroke-width="4.2" fill="none" stroke-linecap="round"/>
<path d="M299.0,45.6 Q294.1,70.2 294.3,94.7" stroke="#000" stroke-opacity="0.07" stroke-width="4.2" fill="none" stroke-linecap="round"/>
<path d="M314.9,228.9 Q316.9,248.9 324.4,268.9" stroke="#000" stroke-opacity="0.03" stroke-width="4.2" fill="none" stroke-linecap="round"/>
<path d="M102.5,170.2 Q100.5,192.0 95.3,213.9" stroke="#000" stroke-opacity="0.09" stroke-width="4.2" fill="none" stroke-linecap="round"/>
<path d="M251.4,49.5 Q249.4,64.0 245.6,78.6" stroke="#000" stroke-opacity="0.05" stroke-width="4.2" fill="none" stroke-linecap="round"/>
<path d="M69.1,201.7 Q73.5,223.2 74.7,244.6" stroke="#000" stroke-opacity="0.12" stroke-width="4.2" fill="none" stroke-linecap="round"/>
<path d="M48.7,3.9 Q46.3,24.5 39.8,45.0" stroke="#000" stroke-opacity="0.14" stroke-width="4.2" fill="none" stroke-linecap="round"/>
<path d="M179.8,29.7 Q185.5,44.1 186.1,58.5" stroke="#000" stroke-opacity="0.12" stroke-width="4.2" fill="none" stroke-linecap="round"/>
<path d="M211.7,76.3 Q204.7,102.6 200.6,128.9" stroke="#000" stroke-opacity="0.09" stroke-width="4.2" fill="none" stroke-linecap="round"/>
<path d="M173.5,14.1 Q177.8,30.1 180.7,46.1" stroke="#000" stroke-opacity="0.09" stroke-width="4.2" fill="none" stroke-linecap="round"/>
<path d="M203.9,185.2 Q202.8,200.8 197.0,216.4" stroke="#000" stroke-opacity="0.14" stroke-width="4.2" fill="none" stroke-linecap="round"/>
<path d="M249.0,-2.3 Q245.9,14.9 244.4,32.1" stroke="#000" stroke-opacity="0.05" stroke-width="4.2" fill="none" stroke-linecap="round"/>
<path d="M115.5,184.4 Q112.2,203.8 111.5,223.2" stroke="#000" stroke-opacity="0.13" stroke-width="4.2" fill="none" stroke-linecap="round"/>
<path d="M224.2,176.7 Q222.9,191.2 220.2,205.7" stroke="#000" stroke-opacity="0.09" stroke-width="4.2" fill="none" stroke-linecap="round"/>
<path d="M198.2,141.4 Q200.9,155.6 201.4,169.8" stroke="#000" stroke-opacity="0.15" stroke-width="4.2" fill="none" stroke-linecap="round"/>
<path d="M258.6,119.7 Q262.4,141.9 271.1,164.1" stroke="#000" stroke-opacity="0.15" stroke-width="4.2" fill="none" stroke-linecap="round"/>
<path d="M259.0,190.7 Q260.1,206.8 262.3,222.9" stroke="#000" stroke-opacity="0.14" stroke-width="4.2" fill="none" stroke-linecap="round"/>
<path d="M137.9,36.6 Q134.4,56.1 134.4,75.6" stroke="#000" stroke-opacity="0.15" stroke-width="4.2" fill="none" stroke-linecap="round"/>
<path d="M170.6,108.6 Q164.5,135.4 159.3,162.2" stroke="#000" stroke-opacity="0.13" stroke-width="4.2" fill="none" stroke-linecap="round"/>
<path d="M166.9,64.6 Q164.4,78.9 161.1,93.3" stroke="#000" stroke-opacity="0.11" stroke-width="4.2" fill="none" stroke-linecap="round"/>
<path d="M71.8,110.9 Q75.1,129.9 78.2,149.0" stroke="#000" stroke-opacity="0.10" stroke-width="4.2" fill="none" stroke-linecap="round"/>
<path d="M119.3,101.6 Q126.7,120.8 128.4,140.1" stroke="#000" stroke-opacity="0.14" stroke-width="4.2" fill="none" stroke-linecap="round"/>
<path d="M168.6,21.5 Q172.6,40.5 171.3,59.5" stroke="#000" stroke-opacity="0.13" stroke-width="4.2" fill="none" stroke-linecap="round"/>
<path d="M257.2,21.7 Q254.5,41.7 246.3,61.7" stroke="#000" stroke-opacity="0.14" stroke-width="4.2" fill="none" stroke-linecap="round"/>
<path d="M332.8,-4.5 Q332.6,10.6 326.9,25.6" stroke="#000" stroke-opacity="0.12" stroke-width="4.2" fill="none" stroke-linecap="round"/>
<path d="M116.6,72.8 Q107.4,95.9 103.7,119.1" stroke="#000" stroke-opacity="0.06" stroke-width="4.2" fill="none" stroke-linecap="round"/>
<path d="M216.1,45.2 Q213.4,61.5 212.5,77.9" stroke="#000" stroke-opacity="0.07" stroke-width="4.2" fill="none" stroke-linecap="round"/>
<path d="M305.6,74.7 Q305.0,93.9 308.4,113.1" stroke="#000" stroke-opacity="0.14" stroke-width="4.2" fill="none" stroke-linecap="round"/>
<path d="M283.8,223.7 Q281.2,241.7 275.1,259.7" stroke="#000" stroke-opacity="0.12" stroke-width="4.2" fill="none" stroke-linecap="round"/>
<path d="M281.8,77.7 Q285.0,94.5 286.5,111.4" stroke="#000" stroke-opacity="0.11" stroke-width="4.2" fill="none" stroke-linecap="round"/>
<path d="M42.6,-9.4 Q36.0,17.6 35.1,44.5" stroke="#000" stroke-opacity="0.08" stroke-width="4.2" fill="none" stroke-linecap="round"/>
<path d="M312.3,84.9 Q311.0,102.7 308.5,120.4" stroke="#000" stroke-opacity="0.11" stroke-width="4.2" fill="none" stroke-linecap="round"/>
<path d="M317.2,215.9 Q318.8,237.2 323.7,258.5" stroke="#000" stroke-opacity="0.07" stroke-width="4.2" fill="none" stroke-linecap="round"/>
<path d="M309.0,130.2 Q303.6,143.5 303.3,156.8" stroke="#000" stroke-opacity="0.05" stroke-width="4.2" fill="none" stroke-linecap="round"/>
<path d="M140.3,210.5 Q134.8,223.4 133.7,236.3" stroke="#000" stroke-opacity="0.06" stroke-width="4.2" fill="none" stroke-linecap="round"/>
<path d="M206.3,35.3 Q201.3,52.0 197.7,68.6" stroke="#000" stroke-opacity="0.09" stroke-width="4.2" fill="none" stroke-linecap="round"/>
<path d="M274.0,37.8 Q269.7,52.4 267.9,66.9" stroke="#000" stroke-opacity="0.07" stroke-width="4.2" fill="none" stroke-linecap="round"/>
<path d="M74.6,28.4 Q80.3,44.3 80.8,60.2" stroke="#000" stroke-opacity="0.04" stroke-width="4.2" fill="none" stroke-linecap="round"/>
<path d="M113.6,226.2 Q110.8,240.9 106.4,255.6" stroke="#000" stroke-opacity="0.11" stroke-width="4.2" fill="none" stroke-linecap="round"/>
<path d="M135.8,81.4 Q131.1,105.5 122.0,129.6" stroke="#000" stroke-opacity="0.06" stroke-width="4.2" fill="none" stroke-linecap="round"/>
<path d="M308.1,185.1 Q313.8,211.8 315.0,238.6" stroke="#000" stroke-opacity="0.08" stroke-width="4.2" fill="none" stroke-linecap="round"/>
<path d="M107.6,171.4 Q104.9,196.4 96.5,221.4" stroke="#000" stroke-opacity="0.12" stroke-width="4.2" fill="none" stroke-linecap="round"/>
<path d="M98.6,120.1 Q94.3,147.3 92.8,174.4" stroke="#000" stroke-opacity="0.13" stroke-width="4.2" fill="none" stroke-linecap="round"/>
<path d="M40.6,17.8 Q36.3,32.0 37.2,46.3" stroke="#000" stroke-opacity="0.03" stroke-width="4.2" fill="none" stroke-linecap="round"/>
<path d="M287.4,62.3 Q290.2,77.0 294.4,91.7" stroke="#000" stroke-opacity="0.04" stroke-width="4.2" fill="none" stroke-linecap="round"/>
<path d="M86.2,45.4 Q86.1,58.9 89.9,72.4" stroke="#000" stroke-opacity="0.07" stroke-width="4.2" fill="none" stroke-linecap="round"/>
<path d="M281.8,145.5 Q279.4,158.4 276.3,171.3" stroke="#000" stroke-opacity="0.12" stroke-width="4.2" fill="none" stroke-linecap="round"/>
<path d="M100.0,107.7 Q102.9,125.9 109.3,144.1" stroke="#000" stroke-opacity="0.03" stroke-width="4.2" fill="none" stroke-linecap="round"/>
<path d="M179.4,25.0 Q177.2,39.9 176.0,54.9" stroke="#000" stroke-opacity="0.04" stroke-width="4.2" fill="none" stroke-linecap="round"/>
<path d="M309.2,206.7 Q305.7,221.9 302.0,237.1" stroke="#000" stroke-opacity="0.14" stroke-width="4.2" fill="none" stroke-linecap="round"/>
<path d="M35.2,139.7 Q42.7,162.9 44.6,186.1" stroke="#000" stroke-opacity="0.09" stroke-width="4.2" fill="none" stroke-linecap="round"/>
<path d="M68.4,174.8 Q74.7,200.8 78.0,226.9" stroke="#000" stroke-opacity="0.12" stroke-width="4.2" fill="none" stroke-linecap="round"/>
<path d="M274.2,147.6 Q273.2,160.6 267.4,173.7" stroke="#000" stroke-opacity="0.04" stroke-width="4.2" fill="none" stroke-linecap="round"/>
<path d="M217.3,210.3 Q214.9,228.8 210.6,247.2" stroke="#000" stroke-opacity="0.13" stroke-width="4.2" fill="none" stroke-linecap="round"/>
<path d="M113.2,35.6 Q116.0,56.4 123.9,77.2" stroke="#000" stroke-opacity="0.05" stroke-width="4.2" fill="none" stroke-linecap="round"/>
<path d="M192.0,51.6 Q186.1,72.8 180.4,93.9" stroke="#000" stroke-opacity="0.10" stroke-width="4.2" fill="none" stroke-linecap="round"/>
<path d="M169.2,36.8 Q171.2,52.1 175.8,67.4" stroke="#000" stroke-opacity="0.06" stroke-width="4.2" fill="none" stroke-linecap="round"/>
</g>
<g filter="url(#blurB)">
<path d="M79.0,113.0 C81.8,122.0 84.5,128.6 84.5,131.6 C84.5,143.0 73.5,143.0 73.5,131.6 C73.5,128.6 76.2,122.0 79.0,113.0Z" fill="#000" fill-opacity="0.961"/>
<path d="M67.0,119.0 C70.0,126.8 73.0,132.1 73.0,135.1 C73.0,145.0 61.0,145.0 61.0,135.1 C61.0,132.1 64.0,126.8 67.0,119.0Z" fill="#000" fill-opacity="0.627"/>
<path d="M103.5,112.0 C105.9,120.7 108.3,127.0 108.3,130.0 C108.3,141.0 98.7,141.0 98.7,130.0 C98.7,127.0 101.1,120.7 103.5,112.0Z" fill="#000" fill-opacity="0.902"/>
<path d="M155.5,117.0 C158.1,125.7 160.7,132.0 160.7,135.0 C160.7,146.0 150.3,146.0 150.3,135.0 C150.3,132.0 152.9,125.7 155.5,117.0Z" fill="#000" fill-opacity="0.902"/>
<path d="M203.5,115.0 C206.2,124.3 209.0,131.2 209.0,134.2 C209.0,146.0 198.0,146.0 198.0,134.2 C198.0,131.2 200.8,124.3 203.5,115.0Z" fill="#000" fill-opacity="0.922"/>
<path d="M228.0,111.0 C230.2,120.0 232.5,126.6 232.5,129.6 C232.5,141.0 223.5,141.0 223.5,129.6 C223.5,126.6 225.8,120.0 228.0,111.0Z" fill="#000" fill-opacity="0.490"/>
<path d="M273.5,110.0 C275.8,118.7 278.0,125.0 278.0,128.0 C278.0,139.0 269.0,139.0 269.0,128.0 C269.0,125.0 271.2,118.7 273.5,110.0Z" fill="#000" fill-opacity="0.529"/>
<path d="M324.0,112.0 C326.0,120.4 328.0,126.4 328.0,129.4 C328.0,140.0 320.0,140.0 320.0,129.4 C320.0,126.4 322.0,120.4 324.0,112.0Z" fill="#000" fill-opacity="0.490"/>
<ellipse cx="72" cy="140" rx="10" ry="4" fill="#000" fill-opacity="0.569"/>
<ellipse cx="168" cy="140" rx="8" ry="3.5" fill="#000" fill-opacity="0.412"/>
<ellipse cx="216" cy="139" rx="9" ry="4" fill="#000" fill-opacity="0.451"/>
<ellipse cx="266" cy="139" rx="6" ry="3.5" fill="#000" fill-opacity="0.314"/>
<ellipse cx="315" cy="142" rx="4" ry="5" fill="#000" fill-opacity="0.294"/>
<ellipse cx="248" cy="120" rx="4" ry="12" fill="#000" fill-opacity="0.216"/>
<ellipse cx="274" cy="125" rx="3" ry="8" fill="#000" fill-opacity="0.451"/>
</g></g>
<line x1="38.9" y1="20.5" x2="328.1" y2="20.5" stroke="#bbb" stroke-width="1.2"/>
<line x1="38.9" y1="247.5" x2="328.1" y2="247.5" stroke="#a0a0a0" stroke-width="1.3"/>
<line x1="39.5" y1="20.5" x2="39.5" y2="247.5" stroke="#999" stroke-width="1.3"/>
<line x1="327.5" y1="20.5" x2="327.5" y2="247.5" stroke="#c8c8c8" stroke-width="1.3"/>
<line x1="39.00" y1="247.5" x2="39.00" y2="244.5" stroke="#666" stroke-width="0.8"/>
<line x1="39.00" y1="20.5" x2="39.00" y2="23.5" stroke="#666" stroke-width="0.8"/>
<text x="39.00" y="258.00" font-family="Liberation Sans, sans-serif" font-size="9.3" fill="#1a1a1a" stroke="#1a1a1a" stroke-width="0.42" text-anchor="middle" textLength="4.76" lengthAdjust="spacingAndGlyphs">0</text>
<line x1="84.00" y1="247.5" x2="84.00" y2="244.5" stroke="#666" stroke-width="0.8"/>
<line x1="84.00" y1="20.5" x2="84.00" y2="23.5" stroke="#666" stroke-width="0.8"/>
<text x="84.00" y="258.00" font-family="Liberation Sans, sans-serif" font-size="9.3" fill="#1a1a1a" stroke="#1a1a1a" stroke-width="0.42" text-anchor="middle" textLength="11.89" lengthAdjust="spacingAndGlyphs">0.1</text>
<line x1="129.00" y1="247.5" x2="129.00" y2="244.5" stroke="#666" stroke-width="0.8"/>
<line x1="129.00" y1="20.5" x2="129.00" y2="23.5" stroke="#666" stroke-width="0.8"/>
<text x="129.00" y="258.00" font-family="Liberation Sans, sans-serif" font-size="9.3" fill="#1a1a1a" stroke="#1a1a1a" stroke-width="0.42" text-anchor="middle" textLength="11.89" lengthAdjust="spacingAndGlyphs">0.2</text>
<line x1="174.00" y1="247.5" x2="174.00" y2="244.5" stroke="#666" stroke-width="0.8"/>
<line x1="174.00" y1="20.5" x2="174.00" y2="23.5" stroke="#666" stroke-width="0.8"/>
<text x="174.00" y="258.00" font-family="Liberation Sans, sans-serif" font-size="9.3" fill="#1a1a1a" stroke="#1a1a1a" stroke-width="0.42" text-anchor="middle" textLength="11.89" lengthAdjust="spacingAndGlyphs">0.3</text>
<line x1="219.00" y1="247.5" x2="219.00" y2="244.5" stroke="#666" stroke-width="0.8"/>
<line x1="219.00" y1="20.5" x2="219.00" y2="23.5" stroke="#666" stroke-width="0.8"/>
<text x="219.00" y="258.00" font-family="Liberation Sans, sans-serif" font-size="9.3" fill="#1a1a1a" stroke="#1a1a1a" stroke-width="0.42" text-anchor="middle" textLength="11.89" lengthAdjust="spacingAndGlyphs">0.4</text>
<line x1="264.00" y1="247.5" x2="264.00" y2="244.5" stroke="#666" stroke-width="0.8"/>
<line x1="264.00" y1="20.5" x2="264.00" y2="23.5" stroke="#666" stroke-width="0.8"/>
<text x="264.00" y="258.00" font-family="Liberation Sans, sans-serif" font-size="9.3" fill="#1a1a1a" stroke="#1a1a1a" stroke-width="0.42" text-anchor="middle" textLength="11.89" lengthAdjust="spacingAndGlyphs">0.5</text>
<line x1="309.00" y1="247.5" x2="309.00" y2="244.5" stroke="#666" stroke-width="0.8"/>
<line x1="309.00" y1="20.5" x2="309.00" y2="23.5" stroke="#666" stroke-width="0.8"/>
<text x="309.00" y="258.00" font-family="Liberation Sans, sans-serif" font-size="9.3" fill="#1a1a1a" stroke="#1a1a1a" stroke-width="0.42" text-anchor="middle" textLength="11.89" lengthAdjust="spacingAndGlyphs">0.6</text>
<line x1="39.5" y1="20.60" x2="42.5" y2="20.60" stroke="#666" stroke-width="0.8"/>
<line x1="327.5" y1="20.60" x2="324.5" y2="20.60" stroke="#666" stroke-width="0.8"/>
<text x="36.60" y="23.60" font-family="Liberation Sans, sans-serif" font-size="9.3" fill="#1a1a1a" stroke="#1a1a1a" stroke-width="0.42" text-anchor="end" textLength="14.27" lengthAdjust="spacingAndGlyphs">200</text>
<line x1="39.5" y1="48.95" x2="42.5" y2="48.95" stroke="#666" stroke-width="0.8"/>
<line x1="327.5" y1="48.95" x2="324.5" y2="48.95" stroke="#666" stroke-width="0.8"/>
<text x="36.60" y="51.95" font-family="Liberation Sans, sans-serif" font-size="9.3" fill="#1a1a1a" stroke="#1a1a1a" stroke-width="0.42" text-anchor="end" textLength="14.27" lengthAdjust="spacingAndGlyphs">150</text>
<line x1="39.5" y1="77.30" x2="42.5" y2="77.30" stroke="#666" stroke-width="0.8"/>
<line x1="327.5" y1="77.30" x2="324.5" y2="77.30" stroke="#666" stroke-width="0.8"/>
<text x="36.60" y="80.30" font-family="Liberation Sans, sans-serif" font-size="9.3" fill="#1a1a1a" stroke="#1a1a1a" stroke-width="0.42" text-anchor="end" textLength="14.27" lengthAdjust="spacingAndGlyphs">100</text>
<line x1="39.5" y1="105.65" x2="42.5" y2="105.65" stroke="#666" stroke-width="0.8"/>
<line x1="327.5" y1="105.65" x2="324.5" y2="105.65" stroke="#666" stroke-width="0.8"/>
<text x="36.60" y="108.65" font-family="Liberation Sans, sans-serif" font-size="9.3" fill="#1a1a1a" stroke="#1a1a1a" stroke-width="0.42" text-anchor="end" textLength="9.51" lengthAdjust="spacingAndGlyphs">50</text>
<line x1="39.5" y1="134.00" x2="42.5" y2="134.00" stroke="#666" stroke-width="0.8"/>
<line x1="327.5" y1="134.00" x2="324.5" y2="134.00" stroke="#666" stroke-width="0.8"/>
<text x="36.60" y="137.00" font-family="Liberation Sans, sans-serif" font-size="9.3" fill="#1a1a1a" stroke="#1a1a1a" stroke-width="0.42" text-anchor="end" textLength="4.76" lengthAdjust="spacingAndGlyphs">0</text>
<line x1="39.5" y1="162.35" x2="42.5" y2="162.35" stroke="#666" stroke-width="0.8"/>
<line x1="327.5" y1="162.35" x2="324.5" y2="162.35" stroke="#666" stroke-width="0.8"/>
<text x="36.60" y="165.35" font-family="Liberation Sans, sans-serif" font-size="9.3" fill="#1a1a1a" stroke="#1a1a1a" stroke-width="0.42" text-anchor="end" textLength="12.36" lengthAdjust="spacingAndGlyphs">-50</text>
<line x1="39.5" y1="190.70" x2="42.5" y2="190.70" stroke="#666" stroke-width="0.8"/>
<line x1="327.5" y1="190.70" x2="324.5" y2="190.70" stroke="#666" stroke-width="0.8"/>
<text x="36.60" y="193.70" font-family="Liberation Sans, sans-serif" font-size="9.3" fill="#1a1a1a" stroke="#1a1a1a" stroke-width="0.42" text-anchor="end" textLength="17.12" lengthAdjust="spacingAndGlyphs">-100</text>
<line x1="39.5" y1="219.05" x2="42.5" y2="219.05" stroke="#666" stroke-width="0.8"/>
<line x1="327.5" y1="219.05" x2="324.5" y2="219.05" stroke="#666" stroke-width="0.8"/>
<text x="36.60" y="222.05" font-family="Liberation Sans, sans-serif" font-size="9.3" fill="#1a1a1a" stroke="#1a1a1a" stroke-width="0.42" text-anchor="end" textLength="17.12" lengthAdjust="spacingAndGlyphs">-150</text>
<line x1="39.5" y1="247.40" x2="42.5" y2="247.40" stroke="#666" stroke-width="0.8"/>
<line x1="327.5" y1="247.40" x2="324.5" y2="247.40" stroke="#666" stroke-width="0.8"/>
<text x="36.60" y="250.40" font-family="Liberation Sans, sans-serif" font-size="9.3" fill="#1a1a1a" stroke="#1a1a1a" stroke-width="0.42" text-anchor="end" textLength="17.12" lengthAdjust="spacingAndGlyphs">-200</text>
<text x="174.4" y="272" font-family="Liberation Serif, serif" font-size="10.8" font-weight="normal" fill="#111" text-anchor="middle" textLength="63" lengthAdjust="spacingAndGlyphs" stroke="#111" stroke-width="0.32">Dwell time (s)</text>
<text transform="translate(11.2,136) rotate(-90)" font-family="Liberation Serif, serif" font-size="10.8" font-weight="normal" fill="#111" text-anchor="middle" textLength="102" lengthAdjust="spacingAndGlyphs" stroke="#111" stroke-width="0.32">Doppler frequency (Hz)</text>
<text x="0.5" y="13.8" font-family="Liberation Sans, sans-serif" font-size="18.2" fill="#111" stroke="#111" stroke-width="0.45">(a)</text>
<g filter="url(#soft)">
<ellipse cx="389.0" cy="131.3" rx="1.51" ry="1.14" transform="rotate(-26 389.0 131.3)" fill="#5d66c8" fill-opacity="0.8" stroke="#3d46b5" stroke-width="0.8"/>
<ellipse cx="396.3" cy="130.9" rx="1.99" ry="1.90" transform="rotate(-1 396.3 130.9)" fill="#5d66c8" fill-opacity="0.8" stroke="#3d46b5" stroke-width="0.8"/>
<ellipse cx="400.3" cy="131.6" rx="1.84" ry="1.30" transform="rotate(-26 400.3 131.6)" fill="#5d66c8" fill-opacity="0.8" stroke="#3d46b5" stroke-width="0.8"/>
<ellipse cx="406.5" cy="130.6" rx="1.86" ry="1.65" transform="rotate(23 406.5 130.6)" fill="#5d66c8" fill-opacity="0.8" stroke="#3d46b5" stroke-width="0.8"/>
<ellipse cx="414.1" cy="131.6" rx="1.97" ry="1.41" transform="rotate(-24 414.1 131.6)" fill="#5d66c8" fill-opacity="0.8" stroke="#3d46b5" stroke-width="0.8"/>
<rect x="418.5" y="130.6" width="3.1" height="1" fill="#4a52b8"/>
<ellipse cx="423.3" cy="131.1" rx="1.47" ry="1.09" transform="rotate(24 423.3 131.1)" fill="#5d66c8" fill-opacity="0.8" stroke="#3d46b5" stroke-width="0.8"/>
<rect x="431.0" y="131.3" width="3.2" height="1" fill="#4a52b8"/>
<rect x="435.1" y="131.3" width="3.8" height="1" fill="#4a52b8"/>
<ellipse cx="441.1" cy="130.9" rx="1.97" ry="1.16" transform="rotate(-26 441.1 130.9)" fill="#5d66c8" fill-opacity="0.8" stroke="#3d46b5" stroke-width="0.8"/>
<ellipse cx="449.1" cy="131.6" rx="1.05" ry="0.90" transform="rotate(16 449.1 131.6)" fill="#5d66c8" fill-opacity="0.8" stroke="#3d46b5" stroke-width="0.8"/>
<ellipse cx="452.7" cy="130.7" rx="1.52" ry="1.68" transform="rotate(29 452.7 130.7)" fill="#5d66c8" fill-opacity="0.8" stroke="#3d46b5" stroke-width="0.8"/>
<ellipse cx="460.7" cy="130.7" rx="1.04" ry="0.93" transform="rotate(-6 460.7 130.7)" fill="#5d66c8" fill-opacity="0.8" stroke="#3d46b5" stroke-width="0.8"/>
<ellipse cx="464.8" cy="131.6" rx="1.81" ry="1.29" transform="rotate(-7 464.8 131.6)" fill="#5d66c8" fill-opacity="0.8" stroke="#3d46b5" stroke-width="0.8"/>
<ellipse cx="470.6" cy="131.3" rx="1.74" ry="1.58" transform="rotate(0 470.6 131.3)" fill="#5d66c8" fill-opacity="0.8" stroke="#3d46b5" stroke-width="0.8"/>
<ellipse cx="477.3" cy="131.0" rx="2.05" ry="1.55" transform="rotate(-29 477.3 131.0)" fill="#5d66c8" fill-opacity="0.8" stroke="#3d46b5" stroke-width="0.8"/>
<ellipse cx="483.4" cy="131.3" rx="1.10" ry="1.36" transform="rotate(-2 483.4 131.3)" fill="#5d66c8" fill-opacity="0.8" stroke="#3d46b5" stroke-width="0.8"/>
<ellipse cx="488.4" cy="131.5" rx="0.69" ry="0.88" transform="rotate(28 488.4 131.5)" fill="#5d66c8" fill-opacity="0.8" stroke="#3d46b5" stroke-width="0.8"/>
<ellipse cx="493.9" cy="131.0" rx="1.19" ry="0.93" transform="rotate(6 493.9 131.0)" fill="#5d66c8" fill-opacity="0.8" stroke="#3d46b5" stroke-width="0.8"/>
<ellipse cx="499.0" cy="130.6" rx="1.89" ry="1.02" transform="rotate(-17 499.0 130.6)" fill="#5d66c8" fill-opacity="0.8" stroke="#3d46b5" stroke-width="0.8"/>
<ellipse cx="503.5" cy="131.1" rx="1.20" ry="1.11" transform="rotate(-10 503.5 131.1)" fill="#5d66c8" fill-opacity="0.8" stroke="#3d46b5" stroke-width="0.8"/>
<rect x="508.9" y="130.3" width="2.3" height="1" fill="#4a52b8"/>
<rect x="515.3" y="130.6" width="2.1" height="1" fill="#4a52b8"/>
<ellipse cx="519.3" cy="130.8" rx="2.32" ry="1.04" transform="rotate(-13 519.3 130.8)" fill="#5d66c8" fill-opacity="0.8" stroke="#3d46b5" stroke-width="0.8"/>
<rect x="525.6" y="130.5" width="1.8" height="1" fill="#4a52b8"/>
<ellipse cx="530.4" cy="130.9" rx="1.28" ry="0.96" transform="rotate(-5 530.4 130.9)" fill="#5d66c8" fill-opacity="0.8" stroke="#3d46b5" stroke-width="0.8"/>
<ellipse cx="534.5" cy="131.7" rx="2.63" ry="1.35" transform="rotate(27 534.5 131.7)" fill="#5d66c8" fill-opacity="0.8" stroke="#3d46b5" stroke-width="0.8"/>
<ellipse cx="538.9" cy="131.6" rx="1.72" ry="1.06" transform="rotate(-10 538.9 131.6)" fill="#5d66c8" fill-opacity="0.8" stroke="#3d46b5" stroke-width="0.8"/>
<ellipse cx="542.6" cy="130.9" rx="1.20" ry="1.79" transform="rotate(12 542.6 130.9)" fill="#5d66c8" fill-opacity="0.8" stroke="#3d46b5" stroke-width="0.8"/>
<rect x="550.2" y="130.8" width="1.5" height="1" fill="#4a52b8"/>
<ellipse cx="557.0" cy="131.0" rx="1.73" ry="1.18" transform="rotate(26 557.0 131.0)" fill="#5d66c8" fill-opacity="0.8" stroke="#3d46b5" stroke-width="0.8"/>
<ellipse cx="562.0" cy="131.6" rx="1.83" ry="0.99" transform="rotate(-18 562.0 131.6)" fill="#5d66c8" fill-opacity="0.8" stroke="#3d46b5" stroke-width="0.8"/>
<ellipse cx="569.1" cy="131.6" rx="2.42" ry="1.81" transform="rotate(-30 569.1 131.6)" fill="#5d66c8" fill-opacity="0.8" stroke="#3d46b5" stroke-width="0.8"/>
<ellipse cx="576.5" cy="130.9" rx="1.32" ry="0.90" transform="rotate(-2 576.5 130.9)" fill="#5d66c8" fill-opacity="0.8" stroke="#3d46b5" stroke-width="0.8"/>
<ellipse cx="579.9" cy="130.8" rx="0.77" ry="1.16" transform="rotate(21 579.9 130.8)" fill="#5d66c8" fill-opacity="0.8" stroke="#3d46b5" stroke-width="0.8"/>
<ellipse cx="585.6" cy="131.0" rx="1.53" ry="1.09" transform="rotate(-8 585.6 131.0)" fill="#5d66c8" fill-opacity="0.8" stroke="#3d46b5" stroke-width="0.8"/>
<ellipse cx="590.5" cy="131.3" rx="1.59" ry="0.89" transform="rotate(-19 590.5 131.3)" fill="#5d66c8" fill-opacity="0.8" stroke="#3d46b5" stroke-width="0.8"/>
<ellipse cx="596.7" cy="131.1" rx="2.01" ry="1.29" transform="rotate(-8 596.7 131.1)" fill="#5d66c8" fill-opacity="0.8" stroke="#3d46b5" stroke-width="0.8"/>
<ellipse cx="603.3" cy="131.4" rx="1.20" ry="1.14" transform="rotate(12 603.3 131.4)" fill="#5d66c8" fill-opacity="0.8" stroke="#3d46b5" stroke-width="0.8"/>
<ellipse cx="608.7" cy="131.7" rx="1.78" ry="1.91" transform="rotate(17 608.7 131.7)" fill="#5d66c8" fill-opacity="0.8" stroke="#3d46b5" stroke-width="0.8"/>
<ellipse cx="614.2" cy="131.6" rx="2.20" ry="1.54" transform="rotate(10 614.2 131.6)" fill="#5d66c8" fill-opacity="0.8" stroke="#3d46b5" stroke-width="0.8"/>
<ellipse cx="620.2" cy="131.3" rx="0.74" ry="0.92" transform="rotate(-27 620.2 131.3)" fill="#5d66c8" fill-opacity="0.8" stroke="#3d46b5" stroke-width="0.8"/>
<rect x="624.1" y="130.3" width="1.6" height="1" fill="#4a52b8"/>
<ellipse cx="631.3" cy="131.6" rx="2.15" ry="1.70" transform="rotate(5 631.3 131.6)" fill="#5d66c8" fill-opacity="0.8" stroke="#3d46b5" stroke-width="0.8"/>
<ellipse cx="634.9" cy="131.2" rx="1.22" ry="1.54" transform="rotate(26 634.9 131.2)" fill="#5d66c8" fill-opacity="0.8" stroke="#3d46b5" stroke-width="0.8"/>
<ellipse cx="639.8" cy="131.6" rx="0.95" ry="0.76" transform="rotate(7 639.8 131.6)" fill="#5d66c8" fill-opacity="0.8" stroke="#3d46b5" stroke-width="0.8"/>
<ellipse cx="645.0" cy="131.1" rx="1.29" ry="0.70" transform="rotate(0 645.0 131.1)" fill="#5d66c8" fill-opacity="0.8" stroke="#3d46b5" stroke-width="0.8"/>
<ellipse cx="650.3" cy="130.8" rx="2.06" ry="1.45" transform="rotate(1 650.3 130.8)" fill="#5d66c8" fill-opacity="0.8" stroke="#3d46b5" stroke-width="0.8"/>
<rect x="656.7" y="130.3" width="1.7" height="1" fill="#4a52b8"/>
<rect x="663.5" y="130.7" width="2.6" height="1" fill="#4a52b8"/>
<ellipse cx="670.2" cy="130.9" rx="1.30" ry="0.78" transform="rotate(-16 670.2 130.9)" fill="#5d66c8" fill-opacity="0.8" stroke="#3d46b5" stroke-width="0.8"/>
<ellipse cx="389.0" cy="138.3" rx="1.93" ry="1.20" transform="rotate(-14 389.0 138.3)" fill="#5d66c8" fill-opacity="0.8" stroke="#3d46b5" stroke-width="0.8"/>
<ellipse cx="391.8" cy="137.7" rx="1.12" ry="0.81" transform="rotate(16 391.8 137.7)" fill="#5d66c8" fill-opacity="0.8" stroke="#3d46b5" stroke-width="0.8"/>
<ellipse cx="398.0" cy="138.1" rx="1.98" ry="1.46" transform="rotate(3 398.0 138.1)" fill="#5d66c8" fill-opacity="0.8" stroke="#3d46b5" stroke-width="0.8"/>
<rect x="403.2" y="137.2" width="3.3" height="1" fill="#4a52b8"/>
<ellipse cx="409.2" cy="137.4" rx="1.55" ry="1.12" transform="rotate(28 409.2 137.4)" fill="#5d66c8" fill-opacity="0.8" stroke="#3d46b5" stroke-width="0.8"/>
<ellipse cx="412.8" cy="137.4" rx="1.47" ry="1.20" transform="rotate(24 412.8 137.4)" fill="#5d66c8" fill-opacity="0.8" stroke="#3d46b5" stroke-width="0.8"/>
<ellipse cx="418.5" cy="137.7" rx="1.26" ry="0.95" transform="rotate(20 418.5 137.7)" fill="#5d66c8" fill-opacity="0.8" stroke="#3d46b5" stroke-width="0.8"/>
<ellipse cx="422.5" cy="138.3" rx="0.94" ry="0.76" transform="rotate(-1 422.5 138.3)" fill="#5d66c8" fill-opacity="0.8" stroke="#3d46b5" stroke-width="0.8"/>
<rect x="427.2" y="137.2" width="2.9" height="1" fill="#4a52b8"/>
<ellipse cx="430.3" cy="138.2" rx="1.55" ry="1.16" transform="rotate(-24 430.3 138.2)" fill="#5d66c8" fill-opacity="0.8" stroke="#3d46b5" stroke-width="0.8"/>
<ellipse cx="434.3" cy="138.4" rx="1.58" ry="1.15" transform="rotate(18 434.3 138.4)" fill="#5d66c8" fill-opacity="0.8" stroke="#3d46b5" stroke-width="0.8"/>
<rect x="439.7" y="137.7" width="2.8" height="1" fill="#4a52b8"/>
<ellipse cx="442.8" cy="137.6" rx="2.10" ry="1.44" transform="rotate(-19 442.8 137.6)" fill="#5d66c8" fill-opacity="0.8" stroke="#3d46b5" stroke-width="0.8"/>
<ellipse cx="447.7" cy="138.7" rx="1.26" ry="1.75" transform="rotate(-22 447.7 138.7)" fill="#5d66c8" fill-opacity="0.8" stroke="#3d46b5" stroke-width="0.8"/>
<ellipse cx="452.9" cy="138.0" rx="1.71" ry="1.13" transform="rotate(-19 452.9 138.0)" fill="#5d66c8" fill-opacity="0.8" stroke="#3d46b5" stroke-width="0.8"/>
<ellipse cx="458.1" cy="138.0" rx="1.66" ry="1.14" transform="rotate(-7 458.1 138.0)" fill="#5d66c8" fill-opacity="0.8" stroke="#3d46b5" stroke-width="0.8"/>
<ellipse cx="461.0" cy="137.4" rx="1.68" ry="1.23" transform="rotate(-6 461.0 137.4)" fill="#5d66c8" fill-opacity="0.8" stroke="#3d46b5" stroke-width="0.8"/>
<ellipse cx="466.4" cy="138.6" rx="0.98" ry="0.62" transform="rotate(-23 466.4 138.6)" fill="#5d66c8" fill-opacity="0.8" stroke="#3d46b5" stroke-width="0.8"/>
<ellipse cx="471.6" cy="137.3" rx="1.80" ry="1.40" transform="rotate(15 471.6 137.3)" fill="#5d66c8" fill-opacity="0.8" stroke="#3d46b5" stroke-width="0.8"/>
<ellipse cx="474.8" cy="137.3" rx="1.72" ry="0.94" transform="rotate(-15 474.8 137.3)" fill="#5d66c8" fill-opacity="0.8" stroke="#3d46b5" stroke-width="0.8"/>
<rect x="477.6" y="138.2" width="3.9" height="1" fill="#4a52b8"/>
<ellipse cx="481.7" cy="138.1" rx="2.39" ry="1.49" transform="rotate(-12 481.7 138.1)" fill="#5d66c8" fill-opacity="0.8" stroke="#3d46b5" stroke-width="0.8"/>
<ellipse cx="486.1" cy="138.4" rx="1.30" ry="0.90" transform="rotate(-0 486.1 138.4)" fill="#5d66c8" fill-opacity="0.8" stroke="#3d46b5" stroke-width="0.8"/>
<ellipse cx="490.4" cy="138.0" rx="1.11" ry="0.92" transform="rotate(-3 490.4 138.0)" fill="#5d66c8" fill-opacity="0.8" stroke="#3d46b5" stroke-width="0.8"/>
<rect x="496.4" y="136.7" width="3.5" height="1" fill="#4a52b8"/>
<ellipse cx="501.3" cy="137.6" rx="0.89" ry="1.01" transform="rotate(26 501.3 137.6)" fill="#5d66c8" fill-opacity="0.8" stroke="#3d46b5" stroke-width="0.8"/>
<ellipse cx="507.0" cy="137.2" rx="2.15" ry="1.96" transform="rotate(13 507.0 137.2)" fill="#5d66c8" fill-opacity="0.8" stroke="#3d46b5" stroke-width="0.8"/>
<rect x="510.9" y="138.3" width="3.7" height="1" fill="#4a52b8"/>
<ellipse cx="515.2" cy="137.9" rx="0.77" ry="0.60" transform="rotate(-18 515.2 137.9)" fill="#5d66c8" fill-opacity="0.8" stroke="#3d46b5" stroke-width="0.8"/>
<ellipse cx="519.6" cy="138.0" rx="1.70" ry="0.97" transform="rotate(-2 519.6 138.0)" fill="#5d66c8" fill-opacity="0.8" stroke="#3d46b5" stroke-width="0.8"/>
<ellipse cx="523.7" cy="138.7" rx="1.66" ry="1.24" transform="rotate(2 523.7 138.7)" fill="#5d66c8" fill-opacity="0.8" stroke="#3d46b5" stroke-width="0.8"/>
<ellipse cx="527.2" cy="137.3" rx="1.39" ry="1.38" transform="rotate(-18 527.2 137.3)" fill="#5d66c8" fill-opacity="0.8" stroke="#3d46b5" stroke-width="0.8"/>
<ellipse cx="530.5" cy="137.2" rx="0.77" ry="0.61" transform="rotate(-1 530.5 137.2)" fill="#5d66c8" fill-opacity="0.8" stroke="#3d46b5" stroke-width="0.8"/>
<ellipse cx="533.3" cy="137.7" rx="1.20" ry="1.26" transform="rotate(-6 533.3 137.7)" fill="#5d66c8" fill-opacity="0.8" stroke="#3d46b5" stroke-width="0.8"/>
<ellipse cx="539.4" cy="137.1" rx="1.17" ry="1.29" transform="rotate(-9 539.4 137.1)" fill="#5d66c8" fill-opacity="0.8" stroke="#3d46b5" stroke-width="0.8"/>
<ellipse cx="542.2" cy="137.5" rx="1.87" ry="1.89" transform="rotate(-12 542.2 137.5)" fill="#5d66c8" fill-opacity="0.8" stroke="#3d46b5" stroke-width="0.8"/>
<rect x="545.9" y="137.7" width="2.4" height="1" fill="#4a52b8"/>
<ellipse cx="548.9" cy="138.8" rx="1.06" ry="0.82" transform="rotate(-25 548.9 138.8)" fill="#5d66c8" fill-opacity="0.8" stroke="#3d46b5" stroke-width="0.8"/>
<ellipse cx="551.7" cy="138.2" rx="1.57" ry="2.06" transform="rotate(-1 551.7 138.2)" fill="#5d66c8" fill-opacity="0.8" stroke="#3d46b5" stroke-width="0.8"/>
<rect x="557.6" y="136.5" width="2.3" height="1" fill="#4a52b8"/>
<rect x="562.5" y="136.6" width="2.2" height="1" fill="#4a52b8"/>
<ellipse cx="568.1" cy="137.7" rx="1.63" ry="1.41" transform="rotate(-20 568.1 137.7)" fill="#5d66c8" fill-opacity="0.8" stroke="#3d46b5" stroke-width="0.8"/>
<rect x="573.4" y="137.5" width="3.8" height="1" fill="#4a52b8"/>
<ellipse cx="577.4" cy="137.4" rx="1.88" ry="1.17" transform="rotate(-20 577.4 137.4)" fill="#5d66c8" fill-opacity="0.8" stroke="#3d46b5" stroke-width="0.8"/>
<ellipse cx="582.2" cy="137.7" rx="1.17" ry="1.38" transform="rotate(-29 582.2 137.7)" fill="#5d66c8" fill-opacity="0.8" stroke="#3d46b5" stroke-width="0.8"/>
<ellipse cx="587.6" cy="137.1" rx="1.68" ry="1.09" transform="rotate(23 587.6 137.1)" fill="#5d66c8" fill-opacity="0.8" stroke="#3d46b5" stroke-width="0.8"/>
<rect x="591.8" y="137.9" width="2.3" height="1" fill="#4a52b8"/>
<ellipse cx="595.8" cy="137.7" rx="1.46" ry="1.64" transform="rotate(-23 595.8 137.7)" fill="#5d66c8" fill-opacity="0.8" stroke="#3d46b5" stroke-width="0.8"/>
<ellipse cx="600.8" cy="137.0" rx="1.37" ry="0.98" transform="rotate(-29 600.8 137.0)" fill="#5d66c8" fill-opacity="0.8" stroke="#3d46b5" stroke-width="0.8"/>
<ellipse cx="606.9" cy="138.0" rx="1.85" ry="1.22" transform="rotate(17 606.9 138.0)" fill="#5d66c8" fill-opacity="0.8" stroke="#3d46b5" stroke-width="0.8"/>
<ellipse cx="610.2" cy="137.1" rx="1.37" ry="0.93" transform="rotate(28 610.2 137.1)" fill="#5d66c8" fill-opacity="0.8" stroke="#3d46b5" stroke-width="0.8"/>
<ellipse cx="616.1" cy="137.8" rx="1.64" ry="1.06" transform="rotate(9 616.1 137.8)" fill="#5d66c8" fill-opacity="0.8" stroke="#3d46b5" stroke-width="0.8"/>
<ellipse cx="621.8" cy="138.1" rx="1.09" ry="1.45" transform="rotate(6 621.8 138.1)" fill="#5d66c8" fill-opacity="0.8" stroke="#3d46b5" stroke-width="0.8"/>
<ellipse cx="625.2" cy="137.8" rx="1.25" ry="1.22" transform="rotate(-1 625.2 137.8)" fill="#5d66c8" fill-opacity="0.8" stroke="#3d46b5" stroke-width="0.8"/>
<ellipse cx="629.9" cy="137.7" rx="1.91" ry="1.03" transform="rotate(-9 629.9 137.7)" fill="#5d66c8" fill-opacity="0.8" stroke="#3d46b5" stroke-width="0.8"/>
<ellipse cx="633.7" cy="137.1" rx="0.97" ry="1.29" transform="rotate(14 633.7 137.1)" fill="#5d66c8" fill-opacity="0.8" stroke="#3d46b5" stroke-width="0.8"/>
<ellipse cx="639.9" cy="138.8" rx="1.54" ry="1.64" transform="rotate(24 639.9 138.8)" fill="#5d66c8" fill-opacity="0.8" stroke="#3d46b5" stroke-width="0.8"/>
<ellipse cx="644.3" cy="137.7" rx="2.83" ry="1.34" transform="rotate(26 644.3 137.7)" fill="#5d66c8" fill-opacity="0.8" stroke="#3d46b5" stroke-width="0.8"/>
<ellipse cx="647.3" cy="137.5" rx="1.80" ry="0.79" transform="rotate(15 647.3 137.5)" fill="#5d66c8" fill-opacity="0.8" stroke="#3d46b5" stroke-width="0.8"/>
<ellipse cx="651.5" cy="138.4" rx="1.57" ry="0.97" transform="rotate(-12 651.5 138.4)" fill="#5d66c8" fill-opacity="0.8" stroke="#3d46b5" stroke-width="0.8"/>
<ellipse cx="654.5" cy="138.4" rx="2.49" ry="1.85" transform="rotate(23 654.5 138.4)" fill="#5d66c8" fill-opacity="0.8" stroke="#3d46b5" stroke-width="0.8"/>
<ellipse cx="657.8" cy="137.8" rx="1.69" ry="1.09" transform="rotate(21 657.8 137.8)" fill="#5d66c8" fill-opacity="0.8" stroke="#3d46b5" stroke-width="0.8"/>
<rect x="662.1" y="138.0" width="2.2" height="1" fill="#4a52b8"/>
<rect x="665.6" y="136.4" width="1.8" height="1" fill="#4a52b8"/>
<ellipse cx="670.2" cy="137.2" rx="0.87" ry="1.01" transform="rotate(-2 670.2 137.2)" fill="#5d66c8" fill-opacity="0.8" stroke="#3d46b5" stroke-width="0.8"/>
<ellipse cx="532.8" cy="125.2" rx="1.49" ry="0.93" transform="rotate(12 532.8 125.2)" fill="#5d66c8" fill-opacity="0.8" stroke="#3d46b5" stroke-width="0.8"/>
<ellipse cx="532.5" cy="124.9" rx="0.74" ry="0.46" fill="#a8e070" fill-opacity="0.9"/>
<ellipse cx="525.2" cy="141.0" rx="2.12" ry="1.52" transform="rotate(8 525.2 141.0)" fill="#5d66c8" fill-opacity="0.8" stroke="#3d46b5" stroke-width="0.8"/>
<ellipse cx="521.8" cy="140.4" rx="1.27" ry="1.59" transform="rotate(2 521.8 140.4)" fill="#5d66c8" fill-opacity="0.8" stroke="#3d46b5" stroke-width="0.8"/>
<ellipse cx="529.9" cy="128.6" rx="2.15" ry="1.36" transform="rotate(-11 529.9 128.6)" fill="#5d66c8" fill-opacity="0.8" stroke="#3d46b5" stroke-width="0.8"/>
<ellipse cx="530.1" cy="128.6" rx="1.07" ry="0.68" fill="#ffffff" fill-opacity="0.9"/>
<ellipse cx="538.4" cy="132.4" rx="2.19" ry="0.78" transform="rotate(-8 538.4 132.4)" fill="#5d66c8" fill-opacity="0.8" stroke="#3d46b5" stroke-width="0.8"/>
<ellipse cx="538.0" cy="132.4" rx="1.10" ry="0.39" fill="#d8e860" fill-opacity="0.9"/>
<ellipse cx="537.8" cy="133.1" rx="1.32" ry="1.29" transform="rotate(27 537.8 133.1)" fill="#5d66c8" fill-opacity="0.8" stroke="#3d46b5" stroke-width="0.8"/>
<ellipse cx="537.5" cy="132.8" rx="0.66" ry="0.64" fill="#d8e860" fill-opacity="0.9"/>
<ellipse cx="518.9" cy="143.2" rx="1.73" ry="1.28" transform="rotate(-22 518.9 143.2)" fill="#5d66c8" fill-opacity="0.8" stroke="#3d46b5" stroke-width="0.8"/>
<ellipse cx="520.2" cy="140.0" rx="2.18" ry="1.31" transform="rotate(-14 520.2 140.0)" fill="#5d66c8" fill-opacity="0.8" stroke="#3d46b5" stroke-width="0.8"/>
<ellipse cx="519.8" cy="140.2" rx="1.09" ry="0.65" fill="#d8e860" fill-opacity="0.9"/>
<ellipse cx="523.3" cy="144.7" rx="1.41" ry="0.84" transform="rotate(29 523.3 144.7)" fill="#5d66c8" fill-opacity="0.8" stroke="#3d46b5" stroke-width="0.8"/>
<ellipse cx="531.4" cy="134.6" rx="1.20" ry="1.22" transform="rotate(27 531.4 134.6)" fill="#5d66c8" fill-opacity="0.8" stroke="#3d46b5" stroke-width="0.8"/>
<ellipse cx="532.5" cy="143.0" rx="1.08" ry="1.68" transform="rotate(-12 532.5 143.0)" fill="#5d66c8" fill-opacity="0.8" stroke="#3d46b5" stroke-width="0.8"/>
<ellipse cx="517.9" cy="145.3" rx="2.09" ry="1.38" transform="rotate(-6 517.9 145.3)" fill="#5d66c8" fill-opacity="0.8" stroke="#3d46b5" stroke-width="0.8"/>
<ellipse cx="518.0" cy="145.6" rx="1.04" ry="0.69" fill="#45d0c0" fill-opacity="0.9"/>
<ellipse cx="529.6" cy="128.8" rx="1.23" ry="1.04" transform="rotate(13 529.6 128.8)" fill="#5d66c8" fill-opacity="0.8" stroke="#3d46b5" stroke-width="0.8"/>
<ellipse cx="529.9" cy="128.6" rx="0.61" ry="0.52" fill="#ffffff" fill-opacity="0.9"/>
<ellipse cx="522.2" cy="141.3" rx="2.25" ry="1.47" transform="rotate(-16 522.2 141.3)" fill="#5d66c8" fill-opacity="0.8" stroke="#3d46b5" stroke-width="0.8"/>
<ellipse cx="522.5" cy="141.4" rx="1.13" ry="0.73" fill="#58b8e8" fill-opacity="0.9"/>
<ellipse cx="535.1" cy="128.3" rx="1.09" ry="1.54" transform="rotate(28 535.1 128.3)" fill="#5d66c8" fill-opacity="0.8" stroke="#3d46b5" stroke-width="0.8"/>
<ellipse cx="535.2" cy="128.2" rx="0.54" ry="0.77" fill="#58b8e8" fill-opacity="0.9"/>
<ellipse cx="525.1" cy="130.8" rx="1.77" ry="1.25" transform="rotate(1 525.1 130.8)" fill="#5d66c8" fill-opacity="0.8" stroke="#3d46b5" stroke-width="0.8"/>
<ellipse cx="525.0" cy="130.8" rx="0.89" ry="0.62" fill="#70d8a0" fill-opacity="0.9"/>
<ellipse cx="528.9" cy="128.7" rx="1.60" ry="1.04" transform="rotate(-19 528.9 128.7)" fill="#5d66c8" fill-opacity="0.8" stroke="#3d46b5" stroke-width="0.8"/>
<ellipse cx="528.8" cy="128.6" rx="0.80" ry="0.52" fill="#ffffff" fill-opacity="0.9"/>
<ellipse cx="524.3" cy="134.4" rx="1.91" ry="0.79" transform="rotate(-2 524.3 134.4)" fill="#5d66c8" fill-opacity="0.8" stroke="#3d46b5" stroke-width="0.8"/>
<ellipse cx="529.9" cy="131.9" rx="2.01" ry="1.53" transform="rotate(29 529.9 131.9)" fill="#5d66c8" fill-opacity="0.8" stroke="#3d46b5" stroke-width="0.8"/>
<ellipse cx="530.2" cy="131.5" rx="1.01" ry="0.77" fill="#58b8e8" fill-opacity="0.9"/>
<ellipse cx="524.9" cy="141.1" rx="1.09" ry="1.27" transform="rotate(-19 524.9 141.1)" fill="#5d66c8" fill-opacity="0.8" stroke="#3d46b5" stroke-width="0.8"/>
<ellipse cx="524.8" cy="141.5" rx="0.55" ry="0.63" fill="#a8e070" fill-opacity="0.9"/>
<ellipse cx="526.1" cy="142.3" rx="2.29" ry="0.84" transform="rotate(15 526.1 142.3)" fill="#5d66c8" fill-opacity="0.8" stroke="#3d46b5" stroke-width="0.8"/>
<ellipse cx="537.2" cy="125.0" rx="1.43" ry="1.08" transform="rotate(2 537.2 125.0)" fill="#5d66c8" fill-opacity="0.8" stroke="#3d46b5" stroke-width="0.8"/>
<ellipse cx="537.5" cy="124.9" rx="0.72" ry="0.54" fill="#ffffff" fill-opacity="0.9"/>
<ellipse cx="519.5" cy="144.2" rx="1.42" ry="0.95" transform="rotate(-8 519.5 144.2)" fill="#5d66c8" fill-opacity="0.8" stroke="#3d46b5" stroke-width="0.8"/>
<ellipse cx="519.7" cy="143.8" rx="0.71" ry="0.48" fill="#70d8a0" fill-opacity="0.9"/>
<ellipse cx="522.3" cy="140.7" rx="1.69" ry="1.48" transform="rotate(-21 522.3 140.7)" fill="#5d66c8" fill-opacity="0.8" stroke="#3d46b5" stroke-width="0.8"/>
<ellipse cx="522.3" cy="141.0" rx="0.84" ry="0.74" fill="#70d8a0" fill-opacity="0.9"/>
<ellipse cx="525.0" cy="146.6" rx="2.24" ry="1.15" transform="rotate(7 525.0 146.6)" fill="#5d66c8" fill-opacity="0.8" stroke="#3d46b5" stroke-width="0.8"/>
<ellipse cx="525.3" cy="146.5" rx="1.12" ry="0.57" fill="#70d8a0" fill-opacity="0.9"/>
<ellipse cx="522.4" cy="141.3" rx="1.66" ry="0.89" transform="rotate(26 522.4 141.3)" fill="#5d66c8" fill-opacity="0.8" stroke="#3d46b5" stroke-width="0.8"/>
<ellipse cx="522.3" cy="141.4" rx="0.83" ry="0.44" fill="#58b8e8" fill-opacity="0.9"/>
<ellipse cx="521.9" cy="141.2" rx="2.15" ry="1.12" transform="rotate(-20 521.9 141.2)" fill="#5d66c8" fill-opacity="0.8" stroke="#3d46b5" stroke-width="0.8"/>
<ellipse cx="524.8" cy="143.0" rx="1.61" ry="0.90" transform="rotate(-21 524.8 143.0)" fill="#5d66c8" fill-opacity="0.8" stroke="#3d46b5" stroke-width="0.8"/>
<ellipse cx="525.1" cy="143.3" rx="0.80" ry="0.45" fill="#ffffff" fill-opacity="0.9"/>
<ellipse cx="535.9" cy="127.1" rx="2.23" ry="1.47" transform="rotate(29 535.9 127.1)" fill="#5d66c8" fill-opacity="0.8" stroke="#3d46b5" stroke-width="0.8"/>
<ellipse cx="519.4" cy="138.6" rx="2.13" ry="1.55" transform="rotate(-4 519.4 138.6)" fill="#5d66c8" fill-opacity="0.8" stroke="#3d46b5" stroke-width="0.8"/>
<ellipse cx="519.2" cy="138.9" rx="1.06" ry="0.77" fill="#45d0c0" fill-opacity="0.9"/>
<ellipse cx="529.8" cy="125.4" rx="1.06" ry="1.30" transform="rotate(-26 529.8 125.4)" fill="#5d66c8" fill-opacity="0.8" stroke="#3d46b5" stroke-width="0.8"/>
<ellipse cx="521.0" cy="143.3" rx="1.90" ry="1.19" transform="rotate(16 521.0 143.3)" fill="#5d66c8" fill-opacity="0.8" stroke="#3d46b5" stroke-width="0.8"/>
<ellipse cx="520.8" cy="143.1" rx="0.95" ry="0.59" fill="#ffffff" fill-opacity="0.9"/>
<ellipse cx="524.4" cy="144.5" rx="1.27" ry="1.48" transform="rotate(21 524.4 144.5)" fill="#5d66c8" fill-opacity="0.8" stroke="#3d46b5" stroke-width="0.8"/>
<ellipse cx="524.3" cy="144.5" rx="0.63" ry="0.74" fill="#58b8e8" fill-opacity="0.9"/>
<ellipse cx="537.8" cy="133.7" rx="1.58" ry="1.37" transform="rotate(-22 537.8 133.7)" fill="#5d66c8" fill-opacity="0.8" stroke="#3d46b5" stroke-width="0.8"/>
<ellipse cx="519.3" cy="140.8" rx="1.64" ry="1.56" transform="rotate(12 519.3 140.8)" fill="#5d66c8" fill-opacity="0.8" stroke="#3d46b5" stroke-width="0.8"/>
<ellipse cx="519.6" cy="141.1" rx="0.82" ry="0.78" fill="#ffffff" fill-opacity="0.9"/>
<ellipse cx="533.7" cy="134.4" rx="1.25" ry="0.79" transform="rotate(-2 533.7 134.4)" fill="#5d66c8" fill-opacity="0.8" stroke="#3d46b5" stroke-width="0.8"/>
<ellipse cx="533.5" cy="134.7" rx="0.63" ry="0.40" fill="#a8e070" fill-opacity="0.9"/>
<ellipse cx="521.4" cy="137.1" rx="1.40" ry="1.34" transform="rotate(-14 521.4 137.1)" fill="#5d66c8" fill-opacity="0.8" stroke="#3d46b5" stroke-width="0.8"/>
<ellipse cx="521.4" cy="137.3" rx="0.70" ry="0.67" fill="#ffffff" fill-opacity="0.9"/>
<ellipse cx="531.0" cy="129.6" rx="1.11" ry="0.82" transform="rotate(-12 531.0 129.6)" fill="#5d66c8" fill-opacity="0.8" stroke="#3d46b5" stroke-width="0.8"/>
<ellipse cx="531.4" cy="129.8" rx="0.56" ry="0.41" fill="#ffffff" fill-opacity="0.9"/>
<ellipse cx="519.9" cy="131.2" rx="1.59" ry="1.52" transform="rotate(30 519.9 131.2)" fill="#5d66c8" fill-opacity="0.8" stroke="#3d46b5" stroke-width="0.8"/>
<ellipse cx="519.5" cy="131.4" rx="0.79" ry="0.76" fill="#58b8e8" fill-opacity="0.9"/>
<ellipse cx="526.0" cy="140.3" rx="2.11" ry="0.87" transform="rotate(3 526.0 140.3)" fill="#5d66c8" fill-opacity="0.8" stroke="#3d46b5" stroke-width="0.8"/>
<ellipse cx="526.3" cy="140.5" rx="1.05" ry="0.44" fill="#ffffff" fill-opacity="0.9"/>
<ellipse cx="518.4" cy="138.4" rx="2.05" ry="0.81" transform="rotate(23 518.4 138.4)" fill="#5d66c8" fill-opacity="0.8" stroke="#3d46b5" stroke-width="0.8"/>
<ellipse cx="518.7" cy="138.1" rx="1.03" ry="0.40" fill="#45d0c0" fill-opacity="0.9"/>
<ellipse cx="525.2" cy="137.2" rx="1.41" ry="1.07" transform="rotate(-29 525.2 137.2)" fill="#5d66c8" fill-opacity="0.8" stroke="#3d46b5" stroke-width="0.8"/>
<ellipse cx="525.3" cy="136.9" rx="0.70" ry="0.54" fill="#3cc8d8" fill-opacity="0.9"/>
<ellipse cx="522.4" cy="139.9" rx="1.61" ry="1.48" transform="rotate(22 522.4 139.9)" fill="#5d66c8" fill-opacity="0.8" stroke="#3d46b5" stroke-width="0.8"/>
<ellipse cx="522.2" cy="140.2" rx="0.80" ry="0.74" fill="#ffffff" fill-opacity="0.9"/>
<ellipse cx="539.1" cy="132.6" rx="1.22" ry="1.66" transform="rotate(11 539.1 132.6)" fill="#5d66c8" fill-opacity="0.8" stroke="#3d46b5" stroke-width="0.8"/>
<ellipse cx="529.8" cy="125.1" rx="1.55" ry="0.84" transform="rotate(19 529.8 125.1)" fill="#5d66c8" fill-opacity="0.8" stroke="#3d46b5" stroke-width="0.8"/>
<ellipse cx="529.8" cy="125.1" rx="0.78" ry="0.42" fill="#3cc8d8" fill-opacity="0.9"/>
<ellipse cx="530.7" cy="124.3" rx="1.66" ry="1.14" transform="rotate(-22 530.7 124.3)" fill="#5d66c8" fill-opacity="0.8" stroke="#3d46b5" stroke-width="0.8"/>
<ellipse cx="525.3" cy="143.9" rx="1.62" ry="1.50" transform="rotate(-17 525.3 143.9)" fill="#5d66c8" fill-opacity="0.8" stroke="#3d46b5" stroke-width="0.8"/>
<ellipse cx="525.5" cy="143.9" rx="0.81" ry="0.75" fill="#58b8e8" fill-opacity="0.9"/>
<ellipse cx="521.4" cy="145.8" rx="1.81" ry="0.95" transform="rotate(-23 521.4 145.8)" fill="#5d66c8" fill-opacity="0.8" stroke="#3d46b5" stroke-width="0.8"/>
<ellipse cx="521.7" cy="146.0" rx="0.90" ry="0.48" fill="#3cc8d8" fill-opacity="0.9"/>
<ellipse cx="525.3" cy="140.6" rx="1.08" ry="1.29" transform="rotate(27 525.3 140.6)" fill="#5d66c8" fill-opacity="0.8" stroke="#3d46b5" stroke-width="0.8"/>
<ellipse cx="525.5" cy="140.5" rx="0.54" ry="0.64" fill="#d8e860" fill-opacity="0.9"/>
<ellipse cx="522.9" cy="143.9" rx="1.78" ry="1.54" transform="rotate(4 522.9 143.9)" fill="#5d66c8" fill-opacity="0.8" stroke="#3d46b5" stroke-width="0.8"/>
<ellipse cx="522.1" cy="144.6" rx="2.19" ry="0.77" transform="rotate(-30 522.1 144.6)" fill="#5d66c8" fill-opacity="0.8" stroke="#3d46b5" stroke-width="0.8"/>
<ellipse cx="521.8" cy="144.4" rx="1.09" ry="0.39" fill="#ffffff" fill-opacity="0.9"/>
<ellipse cx="533.3" cy="136.3" rx="2.23" ry="1.07" transform="rotate(-1 533.3 136.3)" fill="#5d66c8" fill-opacity="0.8" stroke="#3d46b5" stroke-width="0.8"/>
<ellipse cx="532.1" cy="131.0" rx="2.16" ry="1.20" transform="rotate(-20 532.1 131.0)" fill="#5d66c8" fill-opacity="0.8" stroke="#3d46b5" stroke-width="0.8"/>
<ellipse cx="531.9" cy="130.8" rx="1.08" ry="0.60" fill="#58b8e8" fill-opacity="0.9"/>
<ellipse cx="535.1" cy="125.5" rx="1.35" ry="1.13" transform="rotate(-3 535.1 125.5)" fill="#5d66c8" fill-opacity="0.8" stroke="#3d46b5" stroke-width="0.8"/>
<ellipse cx="529.3" cy="128.2" rx="1.29" ry="0.80" transform="rotate(-23 529.3 128.2)" fill="#5d66c8" fill-opacity="0.8" stroke="#3d46b5" stroke-width="0.8"/>
<ellipse cx="529.5" cy="128.0" rx="0.65" ry="0.40" fill="#d8e860" fill-opacity="0.9"/>
<ellipse cx="529.7" cy="142.2" rx="1.81" ry="1.44" transform="rotate(-2 529.7 142.2)" fill="#9aa2e8" fill-opacity="0.45" stroke="#3d46b5" stroke-width="0.85"/>
<ellipse cx="529.8" cy="142.4" rx="0.91" ry="0.72" fill="#ffffff" fill-opacity="0.9"/>
<ellipse cx="519.8" cy="144.0" rx="1.42" ry="0.75" transform="rotate(19 519.8 144.0)" fill="#9aa2e8" fill-opacity="0.45" stroke="#3d46b5" stroke-width="0.85"/>
<ellipse cx="520.1" cy="143.7" rx="0.71" ry="0.38" fill="#d8e860" fill-opacity="0.9"/>
<ellipse cx="542.9" cy="125.1" rx="1.24" ry="1.12" transform="rotate(20 542.9 125.1)" fill="#9aa2e8" fill-opacity="0.45" stroke="#3d46b5" stroke-width="0.85"/>
<ellipse cx="537.6" cy="136.7" rx="1.47" ry="1.49" transform="rotate(-11 537.6 136.7)" fill="#9aa2e8" fill-opacity="0.45" stroke="#3d46b5" stroke-width="0.85"/>
<ellipse cx="534.9" cy="140.5" rx="1.86" ry="0.84" transform="rotate(28 534.9 140.5)" fill="#9aa2e8" fill-opacity="0.45" stroke="#3d46b5" stroke-width="0.85"/>
<ellipse cx="535.2" cy="140.1" rx="0.93" ry="0.42" fill="#a8e070" fill-opacity="0.9"/>
<ellipse cx="530.0" cy="143.9" rx="1.06" ry="1.38" transform="rotate(-21 530.0 143.9)" fill="#9aa2e8" fill-opacity="0.45" stroke="#3d46b5" stroke-width="0.85"/>
<ellipse cx="538.8" cy="132.3" rx="1.49" ry="1.46" transform="rotate(28 538.8 132.3)" fill="#9aa2e8" fill-opacity="0.45" stroke="#3d46b5" stroke-width="0.85"/>
<ellipse cx="524.7" cy="144.7" rx="1.46" ry="0.94" transform="rotate(-14 524.7 144.7)" fill="#9aa2e8" fill-opacity="0.45" stroke="#3d46b5" stroke-width="0.85"/>
<ellipse cx="524.6" cy="144.4" rx="0.73" ry="0.47" fill="#70d8a0" fill-opacity="0.9"/>
<ellipse cx="542.5" cy="126.2" rx="1.77" ry="1.18" transform="rotate(-20 542.5 126.2)" fill="#9aa2e8" fill-opacity="0.45" stroke="#3d46b5" stroke-width="0.85"/>
<ellipse cx="529.6" cy="123.2" rx="1.93" ry="1.28" transform="rotate(24 529.6 123.2)" fill="#9aa2e8" fill-opacity="0.45" stroke="#3d46b5" stroke-width="0.85"/>
<ellipse cx="529.9" cy="139.6" rx="1.95" ry="1.07" transform="rotate(27 529.9 139.6)" fill="#9aa2e8" fill-opacity="0.45" stroke="#3d46b5" stroke-width="0.85"/>
<ellipse cx="530.1" cy="139.9" rx="0.97" ry="0.53" fill="#58b8e8" fill-opacity="0.9"/>
<ellipse cx="532.4" cy="128.1" rx="1.64" ry="1.19" transform="rotate(-26 532.4 128.1)" fill="#9aa2e8" fill-opacity="0.45" stroke="#3d46b5" stroke-width="0.85"/>
<ellipse cx="532.0" cy="128.2" rx="0.82" ry="0.59" fill="#d8e860" fill-opacity="0.9"/>
<ellipse cx="522.5" cy="138.6" rx="1.50" ry="1.53" transform="rotate(-11 522.5 138.6)" fill="#9aa2e8" fill-opacity="0.45" stroke="#3d46b5" stroke-width="0.85"/>
<ellipse cx="522.2" cy="138.4" rx="0.75" ry="0.77" fill="#d8e860" fill-opacity="0.9"/>
<ellipse cx="537.0" cy="123.4" rx="0.97" ry="1.09" transform="rotate(-14 537.0 123.4)" fill="#9aa2e8" fill-opacity="0.45" stroke="#3d46b5" stroke-width="0.85"/>
<ellipse cx="541.5" cy="133.2" rx="1.15" ry="0.77" transform="rotate(11 541.5 133.2)" fill="#9aa2e8" fill-opacity="0.45" stroke="#3d46b5" stroke-width="0.85"/>
<ellipse cx="541.2" cy="132.9" rx="0.57" ry="0.38" fill="#a8e070" fill-opacity="0.9"/>
<ellipse cx="522.9" cy="140.7" rx="1.40" ry="1.52" transform="rotate(-0 522.9 140.7)" fill="#9aa2e8" fill-opacity="0.45" stroke="#3d46b5" stroke-width="0.85"/>
<ellipse cx="523.3" cy="140.6" rx="0.70" ry="0.76" fill="#ffffff" fill-opacity="0.9"/>
<ellipse cx="518.0" cy="146.1" rx="1.55" ry="1.33" transform="rotate(-30 518.0 146.1)" fill="#9aa2e8" fill-opacity="0.45" stroke="#3d46b5" stroke-width="0.85"/>
<ellipse cx="518.1" cy="146.3" rx="0.78" ry="0.67" fill="#58b8e8" fill-opacity="0.9"/>
<ellipse cx="518.8" cy="147.6" rx="1.65" ry="0.90" transform="rotate(13 518.8 147.6)" fill="#9aa2e8" fill-opacity="0.45" stroke="#3d46b5" stroke-width="0.85"/>
<ellipse cx="541.4" cy="130.6" rx="1.20" ry="1.56" transform="rotate(-8 541.4 130.6)" fill="#9aa2e8" fill-opacity="0.45" stroke="#3d46b5" stroke-width="0.85"/>
<ellipse cx="526.2" cy="140.7" rx="1.06" ry="1.27" transform="rotate(24 526.2 140.7)" fill="#9aa2e8" fill-opacity="0.45" stroke="#3d46b5" stroke-width="0.85"/>
<ellipse cx="537.4" cy="134.4" rx="1.80" ry="0.94" transform="rotate(-12 537.4 134.4)" fill="#9aa2e8" fill-opacity="0.45" stroke="#3d46b5" stroke-width="0.85"/>
<ellipse cx="530.7" cy="129.7" rx="1.72" ry="1.02" transform="rotate(-14 530.7 129.7)" fill="#9aa2e8" fill-opacity="0.45" stroke="#3d46b5" stroke-width="0.85"/>
<ellipse cx="530.7" cy="129.5" rx="0.86" ry="0.51" fill="#d8e860" fill-opacity="0.9"/>
<ellipse cx="535.4" cy="126.4" rx="1.45" ry="1.27" transform="rotate(-20 535.4 126.4)" fill="#9aa2e8" fill-opacity="0.45" stroke="#3d46b5" stroke-width="0.85"/>
<ellipse cx="535.5" cy="126.3" rx="0.72" ry="0.64" fill="#a8e070" fill-opacity="0.9"/>
<ellipse cx="518.6" cy="143.6" rx="2.11" ry="1.55" transform="rotate(-15 518.6 143.6)" fill="#9aa2e8" fill-opacity="0.45" stroke="#3d46b5" stroke-width="0.85"/>
<ellipse cx="518.9" cy="143.3" rx="1.06" ry="0.78" fill="#58b8e8" fill-opacity="0.9"/>
<ellipse cx="538.8" cy="140.6" rx="2.10" ry="0.94" transform="rotate(28 538.8 140.6)" fill="#9aa2e8" fill-opacity="0.45" stroke="#3d46b5" stroke-width="0.85"/>
<ellipse cx="538.4" cy="140.4" rx="1.05" ry="0.47" fill="#a8e070" fill-opacity="0.9"/>
<ellipse cx="541.9" cy="137.3" rx="2.06" ry="1.37" transform="rotate(-11 541.9 137.3)" fill="#9aa2e8" fill-opacity="0.45" stroke="#3d46b5" stroke-width="0.85"/>
<ellipse cx="541.8" cy="137.1" rx="1.03" ry="0.68" fill="#d8e860" fill-opacity="0.9"/>
<ellipse cx="524.0" cy="142.2" rx="1.03" ry="1.44" transform="rotate(10 524.0 142.2)" fill="#9aa2e8" fill-opacity="0.45" stroke="#3d46b5" stroke-width="0.85"/>
<ellipse cx="526.2" cy="140.7" rx="1.80" ry="1.23" transform="rotate(6 526.2 140.7)" fill="#9aa2e8" fill-opacity="0.45" stroke="#3d46b5" stroke-width="0.85"/>
<ellipse cx="526.6" cy="140.4" rx="0.90" ry="0.61" fill="#a8e070" fill-opacity="0.9"/>
<ellipse cx="541.1" cy="132.7" rx="2.08" ry="1.52" transform="rotate(-11 541.1 132.7)" fill="#9aa2e8" fill-opacity="0.45" stroke="#3d46b5" stroke-width="0.85"/>
<ellipse cx="540.9" cy="132.7" rx="1.04" ry="0.76" fill="#45d0c0" fill-opacity="0.9"/>
<ellipse cx="528.3" cy="140.4" rx="1.26" ry="1.01" transform="rotate(-16 528.3 140.4)" fill="#9aa2e8" fill-opacity="0.45" stroke="#3d46b5" stroke-width="0.85"/>
<ellipse cx="528.6" cy="140.5" rx="0.63" ry="0.50" fill="#3cc8d8" fill-opacity="0.9"/>
<ellipse cx="526.2" cy="125.3" rx="1.96" ry="1.37" transform="rotate(28 526.2 125.3)" fill="#9aa2e8" fill-opacity="0.45" stroke="#3d46b5" stroke-width="0.85"/>
<ellipse cx="518.7" cy="138.7" rx="1.89" ry="1.38" transform="rotate(1 518.7 138.7)" fill="#9aa2e8" fill-opacity="0.45" stroke="#3d46b5" stroke-width="0.85"/>
<ellipse cx="540.9" cy="133.2" rx="1.20" ry="1.49" transform="rotate(-1 540.9 133.2)" fill="#9aa2e8" fill-opacity="0.45" stroke="#3d46b5" stroke-width="0.85"/>
<ellipse cx="522.5" cy="139.6" rx="1.50" ry="0.84" transform="rotate(-3 522.5 139.6)" fill="#9aa2e8" fill-opacity="0.45" stroke="#3d46b5" stroke-width="0.85"/>
<ellipse cx="522.6" cy="139.8" rx="0.75" ry="0.42" fill="#45d0c0" fill-opacity="0.9"/>
<ellipse cx="537.1" cy="137.5" rx="1.78" ry="0.96" transform="rotate(-23 537.1 137.5)" fill="#9aa2e8" fill-opacity="0.45" stroke="#3d46b5" stroke-width="0.85"/>
<ellipse cx="537.4" cy="137.1" rx="0.89" ry="0.48" fill="#70d8a0" fill-opacity="0.9"/>
<ellipse cx="536.9" cy="132.8" rx="1.13" ry="1.42" transform="rotate(-8 536.9 132.8)" fill="#9aa2e8" fill-opacity="0.45" stroke="#3d46b5" stroke-width="0.85"/>
<ellipse cx="534.2" cy="131.9" rx="1.27" ry="1.58" transform="rotate(-14 534.2 131.9)" fill="#9aa2e8" fill-opacity="0.45" stroke="#3d46b5" stroke-width="0.85"/>
<ellipse cx="534.2" cy="132.1" rx="0.64" ry="0.79" fill="#70d8a0" fill-opacity="0.9"/>
<ellipse cx="537.4" cy="135.1" rx="2.11" ry="1.46" transform="rotate(23 537.4 135.1)" fill="#9aa2e8" fill-opacity="0.45" stroke="#3d46b5" stroke-width="0.85"/>
<ellipse cx="540.1" cy="132.8" rx="1.25" ry="1.16" transform="rotate(16 540.1 132.8)" fill="#9aa2e8" fill-opacity="0.45" stroke="#3d46b5" stroke-width="0.85"/>
<ellipse cx="539.7" cy="132.8" rx="0.63" ry="0.58" fill="#3cc8d8" fill-opacity="0.9"/>
<ellipse cx="545.3" cy="138.3" rx="1.59" ry="1.10" transform="rotate(-14 545.3 138.3)" fill="#9aa2e8" fill-opacity="0.45" stroke="#3d46b5" stroke-width="0.85"/>
<ellipse cx="545.6" cy="138.4" rx="0.79" ry="0.55" fill="#d8e860" fill-opacity="0.9"/>
<ellipse cx="537.4" cy="128.0" rx="1.47" ry="1.26" transform="rotate(-12 537.4 128.0)" fill="#9aa2e8" fill-opacity="0.45" stroke="#3d46b5" stroke-width="0.85"/>
<ellipse cx="537.2" cy="128.0" rx="0.74" ry="0.63" fill="#58b8e8" fill-opacity="0.9"/>
<ellipse cx="523.6" cy="141.1" rx="1.31" ry="1.25" transform="rotate(26 523.6 141.1)" fill="#9aa2e8" fill-opacity="0.45" stroke="#3d46b5" stroke-width="0.85"/>
<ellipse cx="520.8" cy="146.2" rx="1.08" ry="1.46" transform="rotate(-30 520.8 146.2)" fill="#9aa2e8" fill-opacity="0.45" stroke="#3d46b5" stroke-width="0.85"/>
<ellipse cx="521.1" cy="146.1" rx="0.54" ry="0.73" fill="#a8e070" fill-opacity="0.9"/>
<ellipse cx="536.8" cy="134.8" rx="1.53" ry="1.53" transform="rotate(25 536.8 134.8)" fill="#9aa2e8" fill-opacity="0.45" stroke="#3d46b5" stroke-width="0.85"/>
<ellipse cx="536.4" cy="134.7" rx="0.77" ry="0.77" fill="#3cc8d8" fill-opacity="0.9"/>
<ellipse cx="538.3" cy="140.4" rx="1.88" ry="1.07" transform="rotate(-16 538.3 140.4)" fill="#9aa2e8" fill-opacity="0.45" stroke="#3d46b5" stroke-width="0.85"/>
<ellipse cx="538.4" cy="140.7" rx="0.94" ry="0.53" fill="#58b8e8" fill-opacity="0.9"/>
<ellipse cx="518.6" cy="142.5" rx="1.20" ry="1.14" transform="rotate(-9 518.6 142.5)" fill="#9aa2e8" fill-opacity="0.45" stroke="#3d46b5" stroke-width="0.85"/>
<ellipse cx="518.7" cy="142.3" rx="0.60" ry="0.57" fill="#a8e070" fill-opacity="0.9"/>
<ellipse cx="531.5" cy="127.3" rx="1.76" ry="0.87" transform="rotate(-7 531.5 127.3)" fill="#9aa2e8" fill-opacity="0.45" stroke="#3d46b5" stroke-width="0.85"/>
<ellipse cx="519.2" cy="140.8" rx="1.99" ry="1.54" transform="rotate(-18 519.2 140.8)" fill="#9aa2e8" fill-opacity="0.45" stroke="#3d46b5" stroke-width="0.85"/>
<ellipse cx="519.5" cy="140.6" rx="0.99" ry="0.77" fill="#ffffff" fill-opacity="0.9"/>
<ellipse cx="528.0" cy="123.3" rx="1.23" ry="1.55" transform="rotate(-9 528.0 123.3)" fill="#9aa2e8" fill-opacity="0.45" stroke="#3d46b5" stroke-width="0.85"/>
<ellipse cx="537.4" cy="135.6" rx="1.65" ry="1.13" transform="rotate(20 537.4 135.6)" fill="#9aa2e8" fill-opacity="0.45" stroke="#3d46b5" stroke-width="0.85"/>
<ellipse cx="522.1" cy="142.2" rx="0.99" ry="0.98" transform="rotate(-11 522.1 142.2)" fill="#9aa2e8" fill-opacity="0.45" stroke="#3d46b5" stroke-width="0.85"/>
<ellipse cx="522.1" cy="142.0" rx="0.49" ry="0.49" fill="#70d8a0" fill-opacity="0.9"/>
<ellipse cx="532.6" cy="127.6" rx="1.54" ry="1.30" transform="rotate(-20 532.6 127.6)" fill="#9aa2e8" fill-opacity="0.45" stroke="#3d46b5" stroke-width="0.85"/>
<ellipse cx="520.2" cy="129.6" rx="1.89" ry="0.80" transform="rotate(29 520.2 129.6)" fill="#9aa2e8" fill-opacity="0.45" stroke="#3d46b5" stroke-width="0.85"/>
<ellipse cx="520.6" cy="129.7" rx="0.95" ry="0.40" fill="#a8e070" fill-opacity="0.9"/>
<ellipse cx="533.1" cy="121.6" rx="1.00" ry="1.27" transform="rotate(26 533.1 121.6)" fill="#9aa2e8" fill-opacity="0.45" stroke="#3d46b5" stroke-width="0.85"/>
<ellipse cx="521.3" cy="131.6" rx="0.98" ry="1.11" transform="rotate(10 521.3 131.6)" fill="#9aa2e8" fill-opacity="0.45" stroke="#3d46b5" stroke-width="0.85"/>
<ellipse cx="520.3" cy="140.1" rx="1.67" ry="1.42" transform="rotate(5 520.3 140.1)" fill="#9aa2e8" fill-opacity="0.45" stroke="#3d46b5" stroke-width="0.85"/>
<ellipse cx="521.7" cy="146.8" rx="1.35" ry="0.86" transform="rotate(-29 521.7 146.8)" fill="#9aa2e8" fill-opacity="0.45" stroke="#3d46b5" stroke-width="0.85"/>
<ellipse cx="527.9" cy="143.8" rx="1.67" ry="1.47" transform="rotate(19 527.9 143.8)" fill="#9aa2e8" fill-opacity="0.45" stroke="#3d46b5" stroke-width="0.85"/>
<ellipse cx="535.2" cy="135.1" rx="1.22" ry="0.94" transform="rotate(-11 535.2 135.1)" fill="#9aa2e8" fill-opacity="0.45" stroke="#3d46b5" stroke-width="0.85"/>
<ellipse cx="535.4" cy="135.1" rx="0.61" ry="0.47" fill="#58b8e8" fill-opacity="0.9"/>
<ellipse cx="519.6" cy="143.4" rx="1.67" ry="0.99" transform="rotate(24 519.6 143.4)" fill="#9aa2e8" fill-opacity="0.45" stroke="#3d46b5" stroke-width="0.85"/>
<ellipse cx="524.5" cy="148.2" rx="1.55" ry="1.58" transform="rotate(-29 524.5 148.2)" fill="#9aa2e8" fill-opacity="0.45" stroke="#3d46b5" stroke-width="0.85"/>
<ellipse cx="542.0" cy="139.2" rx="0.99" ry="1.28" transform="rotate(26 542.0 139.2)" fill="#9aa2e8" fill-opacity="0.45" stroke="#3d46b5" stroke-width="0.85"/>
<ellipse cx="527.9" cy="131.0" rx="1.83" ry="0.75" transform="rotate(4 527.9 131.0)" fill="#9aa2e8" fill-opacity="0.45" stroke="#3d46b5" stroke-width="0.85"/>
<ellipse cx="525.2" cy="137.2" rx="0.96" ry="0.84" transform="rotate(20 525.2 137.2)" fill="#9aa2e8" fill-opacity="0.45" stroke="#3d46b5" stroke-width="0.85"/>
<ellipse cx="525.5" cy="137.3" rx="0.48" ry="0.42" fill="#ffffff" fill-opacity="0.9"/>
<ellipse cx="538.5" cy="131.6" rx="1.71" ry="0.73" transform="rotate(-16 538.5 131.6)" fill="#9aa2e8" fill-opacity="0.45" stroke="#3d46b5" stroke-width="0.85"/>
<ellipse cx="538.7" cy="131.2" rx="0.85" ry="0.37" fill="#58b8e8" fill-opacity="0.9"/>
<ellipse cx="519.9" cy="145.8" rx="1.06" ry="1.23" transform="rotate(19 519.9 145.8)" fill="#9aa2e8" fill-opacity="0.45" stroke="#3d46b5" stroke-width="0.85"/>
<ellipse cx="519.5" cy="146.0" rx="0.53" ry="0.61" fill="#70d8a0" fill-opacity="0.9"/>
<ellipse cx="518.9" cy="141.6" rx="1.37" ry="0.73" transform="rotate(20 518.9 141.6)" fill="#9aa2e8" fill-opacity="0.45" stroke="#3d46b5" stroke-width="0.85"/>
<ellipse cx="519.0" cy="141.5" rx="0.68" ry="0.37" fill="#45d0c0" fill-opacity="0.9"/>
<ellipse cx="531.5" cy="122.6" rx="1.81" ry="1.56" transform="rotate(23 531.5 122.6)" fill="#9aa2e8" fill-opacity="0.45" stroke="#3d46b5" stroke-width="0.85"/>
<ellipse cx="531.4" cy="122.6" rx="0.91" ry="0.78" fill="#58b8e8" fill-opacity="0.9"/>
<ellipse cx="518.4" cy="141.3" rx="1.08" ry="1.27" transform="rotate(-13 518.4 141.3)" fill="#9aa2e8" fill-opacity="0.45" stroke="#3d46b5" stroke-width="0.85"/>
<ellipse cx="534.1" cy="121.0" rx="1.59" ry="1.45" transform="rotate(-21 534.1 121.0)" fill="#9aa2e8" fill-opacity="0.45" stroke="#3d46b5" stroke-width="0.85"/>
<ellipse cx="534.0" cy="120.7" rx="0.80" ry="0.72" fill="#ffffff" fill-opacity="0.9"/>
<ellipse cx="506.2" cy="110.3" rx="1.17" ry="0.95" transform="rotate(-24 506.2 110.3)" fill="#9aa2e8" fill-opacity="0.45" stroke="#3d46b5" stroke-width="0.85"/>
<ellipse cx="508.1" cy="112.2" rx="1.49" ry="1.13" transform="rotate(7 508.1 112.2)" fill="#9aa2e8" fill-opacity="0.45" stroke="#3d46b5" stroke-width="0.85"/>
<ellipse cx="509.1" cy="113.3" rx="1.16" ry="1.20" transform="rotate(16 509.1 113.3)" fill="#9aa2e8" fill-opacity="0.45" stroke="#3d46b5" stroke-width="0.85"/>
<ellipse cx="511.1" cy="113.9" rx="1.21" ry="0.78" transform="rotate(-16 511.1 113.9)" fill="#9aa2e8" fill-opacity="0.45" stroke="#3d46b5" stroke-width="0.85"/>
<ellipse cx="514.1" cy="114.7" rx="0.82" ry="0.79" transform="rotate(-24 514.1 114.7)" fill="#9aa2e8" fill-opacity="0.45" stroke="#3d46b5" stroke-width="0.85"/>
<ellipse cx="514.7" cy="115.8" rx="1.36" ry="0.66" transform="rotate(16 514.7 115.8)" fill="#9aa2e8" fill-opacity="0.45" stroke="#3d46b5" stroke-width="0.85"/>
<ellipse cx="554.5" cy="106.8" rx="1.58" ry="1.06" transform="rotate(1 554.5 106.8)" fill="#9aa2e8" fill-opacity="0.45" stroke="#3d46b5" stroke-width="0.85"/>
<ellipse cx="554.3" cy="106.8" rx="0.79" ry="0.53" fill="#70d8a0" fill-opacity="0.9"/>
<ellipse cx="549.9" cy="103.4" rx="2.04" ry="1.16" transform="rotate(21 549.9 103.4)" fill="#9aa2e8" fill-opacity="0.45" stroke="#3d46b5" stroke-width="0.85"/>
<ellipse cx="545.8" cy="104.6" rx="1.25" ry="0.89" transform="rotate(7 545.8 104.6)" fill="#9aa2e8" fill-opacity="0.45" stroke="#3d46b5" stroke-width="0.85"/>
<ellipse cx="545.8" cy="104.4" rx="0.63" ry="0.44" fill="#3cc8d8" fill-opacity="0.9"/>
<ellipse cx="553.1" cy="106.2" rx="1.87" ry="1.45" transform="rotate(-12 553.1 106.2)" fill="#9aa2e8" fill-opacity="0.45" stroke="#3d46b5" stroke-width="0.85"/>
<ellipse cx="551.6" cy="102.6" rx="2.18" ry="1.49" transform="rotate(-3 551.6 102.6)" fill="#9aa2e8" fill-opacity="0.45" stroke="#3d46b5" stroke-width="0.85"/>
<ellipse cx="551.7" cy="102.8" rx="1.09" ry="0.74" fill="#ffffff" fill-opacity="0.9"/>
<ellipse cx="544.5" cy="105.6" rx="1.17" ry="1.56" transform="rotate(2 544.5 105.6)" fill="#9aa2e8" fill-opacity="0.45" stroke="#3d46b5" stroke-width="0.85"/>
<ellipse cx="544.8" cy="105.9" rx="0.58" ry="0.78" fill="#ffffff" fill-opacity="0.9"/>
<ellipse cx="548.7" cy="105.1" rx="1.48" ry="1.04" transform="rotate(-26 548.7 105.1)" fill="#9aa2e8" fill-opacity="0.45" stroke="#3d46b5" stroke-width="0.85"/>
<ellipse cx="549.0" cy="105.0" rx="0.74" ry="0.52" fill="#a8e070" fill-opacity="0.9"/>
<ellipse cx="544.0" cy="99.5" rx="1.72" ry="0.73" transform="rotate(9 544.0 99.5)" fill="#9aa2e8" fill-opacity="0.45" stroke="#3d46b5" stroke-width="0.85"/>
</g>
<line x1="386.2" y1="20.3" x2="677.5" y2="20.3" stroke="#5a5a5a" stroke-width="1.4"/>
<line x1="386.2" y1="248.7" x2="677.5" y2="248.7" stroke="#c8c8c8" stroke-width="1.3"/>
<line x1="386.8" y1="20.3" x2="386.8" y2="248.7" stroke="#d0d0d0" stroke-width="1.2"/>
<line x1="676.9" y1="20.3" x2="676.9" y2="248.7" stroke="#d5d5d5" stroke-width="1.3"/>
<line x1="442.00" y1="248.7" x2="442.00" y2="245.7" stroke="#666" stroke-width="0.8"/>
<line x1="442.00" y1="20.3" x2="442.00" y2="23.3" stroke="#666" stroke-width="0.8"/>
<text x="442.00" y="258.60" font-family="Liberation Sans, sans-serif" font-size="9.3" fill="#1a1a1a" stroke="#1a1a1a" stroke-width="0.42" text-anchor="middle" textLength="9.51" lengthAdjust="spacingAndGlyphs">50</text>
<line x1="498.73" y1="248.7" x2="498.73" y2="245.7" stroke="#666" stroke-width="0.8"/>
<line x1="498.73" y1="20.3" x2="498.73" y2="23.3" stroke="#666" stroke-width="0.8"/>
<text x="498.73" y="258.60" font-family="Liberation Sans, sans-serif" font-size="9.3" fill="#1a1a1a" stroke="#1a1a1a" stroke-width="0.42" text-anchor="middle" textLength="14.27" lengthAdjust="spacingAndGlyphs">100</text>
<line x1="555.45" y1="248.7" x2="555.45" y2="245.7" stroke="#666" stroke-width="0.8"/>
<line x1="555.45" y1="20.3" x2="555.45" y2="23.3" stroke="#666" stroke-width="0.8"/>
<text x="555.45" y="258.60" font-family="Liberation Sans, sans-serif" font-size="9.3" fill="#1a1a1a" stroke="#1a1a1a" stroke-width="0.42" text-anchor="middle" textLength="14.27" lengthAdjust="spacingAndGlyphs">150</text>
<line x1="612.17" y1="248.7" x2="612.17" y2="245.7" stroke="#666" stroke-width="0.8"/>
<line x1="612.17" y1="20.3" x2="612.17" y2="23.3" stroke="#666" stroke-width="0.8"/>
<text x="612.17" y="258.60" font-family="Liberation Sans, sans-serif" font-size="9.3" fill="#1a1a1a" stroke="#1a1a1a" stroke-width="0.42" text-anchor="middle" textLength="14.27" lengthAdjust="spacingAndGlyphs">200</text>
<line x1="668.90" y1="248.7" x2="668.90" y2="245.7" stroke="#666" stroke-width="0.8"/>
<line x1="668.90" y1="20.3" x2="668.90" y2="23.3" stroke="#666" stroke-width="0.8"/>
<text x="668.90" y="258.60" font-family="Liberation Sans, sans-serif" font-size="9.3" fill="#1a1a1a" stroke="#1a1a1a" stroke-width="0.42" text-anchor="middle" textLength="14.27" lengthAdjust="spacingAndGlyphs">250</text>
<line x1="386.8" y1="25.00" x2="389.8" y2="25.00" stroke="#666" stroke-width="0.8"/>
<line x1="676.9" y1="25.00" x2="673.9" y2="25.00" stroke="#666" stroke-width="0.8"/>
<text x="383.80" y="28.00" font-family="Liberation Sans, sans-serif" font-size="9.3" fill="#1a1a1a" stroke="#1a1a1a" stroke-width="0.42" text-anchor="end" textLength="14.27" lengthAdjust="spacingAndGlyphs">250</text>
<line x1="386.8" y1="70.00" x2="389.8" y2="70.00" stroke="#666" stroke-width="0.8"/>
<line x1="676.9" y1="70.00" x2="673.9" y2="70.00" stroke="#666" stroke-width="0.8"/>
<text x="383.80" y="73.00" font-family="Liberation Sans, sans-serif" font-size="9.3" fill="#1a1a1a" stroke="#1a1a1a" stroke-width="0.42" text-anchor="end" textLength="14.27" lengthAdjust="spacingAndGlyphs">200</text>
<line x1="386.8" y1="115.00" x2="389.8" y2="115.00" stroke="#666" stroke-width="0.8"/>
<line x1="676.9" y1="115.00" x2="673.9" y2="115.00" stroke="#666" stroke-width="0.8"/>
<text x="383.80" y="118.00" font-family="Liberation Sans, sans-serif" font-size="9.3" fill="#1a1a1a" stroke="#1a1a1a" stroke-width="0.42" text-anchor="end" textLength="14.27" lengthAdjust="spacingAndGlyphs">150</text>
<line x1="386.8" y1="160.00" x2="389.8" y2="160.00" stroke="#666" stroke-width="0.8"/>
<line x1="676.9" y1="160.00" x2="673.9" y2="160.00" stroke="#666" stroke-width="0.8"/>
<text x="383.80" y="163.00" font-family="Liberation Sans, sans-serif" font-size="9.3" fill="#1a1a1a" stroke="#1a1a1a" stroke-width="0.42" text-anchor="end" textLength="14.27" lengthAdjust="spacingAndGlyphs">100</text>
<line x1="386.8" y1="205.00" x2="389.8" y2="205.00" stroke="#666" stroke-width="0.8"/>
<line x1="676.9" y1="205.00" x2="673.9" y2="205.00" stroke="#666" stroke-width="0.8"/>
<text x="383.80" y="208.00" font-family="Liberation Sans, sans-serif" font-size="9.3" fill="#1a1a1a" stroke="#1a1a1a" stroke-width="0.42" text-anchor="end" textLength="9.51" lengthAdjust="spacingAndGlyphs">50</text>
<text x="528.5" y="271" font-family="Liberation Serif, serif" font-size="10.8" font-weight="normal" fill="#111" text-anchor="middle" textLength="55" lengthAdjust="spacingAndGlyphs" stroke="#111" stroke-width="0.32">Doppler cell</text>
<text transform="translate(361.8,135.2) rotate(-90)" font-family="Liberation Serif, serif" font-size="10.8" font-weight="normal" fill="#111" text-anchor="middle" textLength="46" lengthAdjust="spacingAndGlyphs" stroke="#111" stroke-width="0.32">Range cell</text>
<text x="346.4" y="13.8" font-family="Liberation Sans, sans-serif" font-size="18.2" fill="#111" stroke="#111" stroke-width="0.45">(b)</text>
<line x1="476.5" y1="58.8" x2="530.22" y2="91.21" stroke="#a3a3a3" stroke-width="1.5"/>
<polygon points="537.5,95.6 528.52,94.03 531.93,88.38" fill="#a3a3a3"/>
<line x1="601" y1="101.8" x2="519.74" y2="111.58" stroke="#a3a3a3" stroke-width="1.5"/>
<polygon points="511.3,112.6 519.34,108.31 520.13,114.86" fill="#a3a3a3"/>
<line x1="601" y1="101.8" x2="562.67" y2="130.86" stroke="#a3a3a3" stroke-width="1.5"/>
<polygon points="555.9,136 560.68,128.23 564.67,133.49" fill="#a3a3a3"/>
<line x1="476.3" y1="169" x2="509.86" y2="154.89" stroke="#a3a3a3" stroke-width="1.5"/>
<polygon points="517.7,151.6 511.14,157.94 508.59,151.85" fill="#a3a3a3"/>
<text x="463.7" y="57.6" font-family="Liberation Serif, serif" font-size="12" font-weight="normal" fill="#111" text-anchor="middle" textLength="16.5" lengthAdjust="spacingAndGlyphs" stroke="#111" stroke-width="0.55">Tail</text>
<text x="616.2" y="102.6" font-family="Liberation Serif, serif" font-size="12" font-weight="normal" fill="#111" text-anchor="middle" textLength="28.4" lengthAdjust="spacingAndGlyphs" stroke="#111" stroke-width="0.55">Wings</text>
<text x="459.5" y="168.0" font-family="Liberation Serif, serif" font-size="12" font-weight="normal" fill="#111" text-anchor="middle" textLength="19" lengthAdjust="spacingAndGlyphs" stroke="#111" stroke-width="0.55">Bolt</text>
<text x="459.5" y="180.8" font-family="Liberation Serif, serif" font-size="12" font-weight="normal" fill="#111" text-anchor="middle" textLength="21" lengthAdjust="spacingAndGlyphs" stroke="#111" stroke-width="0.55">head</text>
<text x="629.2" y="168" font-family="Liberation Serif, serif" font-size="12" font-weight="normal" fill="#111" text-anchor="middle" textLength="20" lengthAdjust="spacingAndGlyphs" stroke="#111" stroke-width="0.55">m-D</text>
<g filter="url(#soft)">
<ellipse cx="175.4" cy="426.5" rx="2.22" ry="1.46" transform="rotate(25 175.4 426.5)" fill="#5d66c8" fill-opacity="0.8" stroke="#3d46b5" stroke-width="0.8"/>
<ellipse cx="175.6" cy="426.3" rx="1.11" ry="0.73" fill="#ffffff" fill-opacity="0.9"/>
<ellipse cx="177.2" cy="415.7" rx="1.15" ry="1.00" transform="rotate(14 177.2 415.7)" fill="#5d66c8" fill-opacity="0.8" stroke="#3d46b5" stroke-width="0.8"/>
<ellipse cx="177.5" cy="415.9" rx="0.58" ry="0.50" fill="#70d8a0" fill-opacity="0.9"/>
<ellipse cx="167.9" cy="411.4" rx="2.27" ry="1.58" transform="rotate(-13 167.9 411.4)" fill="#5d66c8" fill-opacity="0.8" stroke="#3d46b5" stroke-width="0.8"/>
<ellipse cx="165.3" cy="416.6" rx="2.21" ry="1.01" transform="rotate(-10 165.3 416.6)" fill="#5d66c8" fill-opacity="0.8" stroke="#3d46b5" stroke-width="0.8"/>
<ellipse cx="173.3" cy="424.2" rx="1.10" ry="1.10" transform="rotate(-12 173.3 424.2)" fill="#5d66c8" fill-opacity="0.8" stroke="#3d46b5" stroke-width="0.8"/>
<ellipse cx="171.7" cy="424.1" rx="1.09" ry="1.68" transform="rotate(-29 171.7 424.1)" fill="#5d66c8" fill-opacity="0.8" stroke="#3d46b5" stroke-width="0.8"/>
<ellipse cx="170.3" cy="427.7" rx="1.60" ry="1.43" transform="rotate(7 170.3 427.7)" fill="#5d66c8" fill-opacity="0.8" stroke="#3d46b5" stroke-width="0.8"/>
<ellipse cx="169.8" cy="415.0" rx="1.69" ry="1.49" transform="rotate(-24 169.8 415.0)" fill="#5d66c8" fill-opacity="0.8" stroke="#3d46b5" stroke-width="0.8"/>
<ellipse cx="167.9" cy="419.1" rx="1.48" ry="0.90" transform="rotate(-13 167.9 419.1)" fill="#5d66c8" fill-opacity="0.8" stroke="#3d46b5" stroke-width="0.8"/>
<ellipse cx="169.4" cy="414.0" rx="1.25" ry="0.84" transform="rotate(-21 169.4 414.0)" fill="#5d66c8" fill-opacity="0.8" stroke="#3d46b5" stroke-width="0.8"/>
<ellipse cx="176.6" cy="417.6" rx="1.56" ry="0.82" transform="rotate(25 176.6 417.6)" fill="#5d66c8" fill-opacity="0.8" stroke="#3d46b5" stroke-width="0.8"/>
<ellipse cx="176.4" cy="417.4" rx="0.78" ry="0.41" fill="#ffffff" fill-opacity="0.9"/>
<ellipse cx="173.8" cy="426.3" rx="1.16" ry="1.17" transform="rotate(-21 173.8 426.3)" fill="#5d66c8" fill-opacity="0.8" stroke="#3d46b5" stroke-width="0.8"/>
<ellipse cx="178.7" cy="417.6" rx="1.64" ry="1.45" transform="rotate(-1 178.7 417.6)" fill="#5d66c8" fill-opacity="0.8" stroke="#3d46b5" stroke-width="0.8"/>
<ellipse cx="179.0" cy="417.3" rx="0.82" ry="0.72" fill="#ffffff" fill-opacity="0.9"/>
<ellipse cx="173.8" cy="418.8" rx="1.45" ry="0.85" transform="rotate(-14 173.8 418.8)" fill="#5d66c8" fill-opacity="0.8" stroke="#3d46b5" stroke-width="0.8"/>
<ellipse cx="174.7" cy="423.1" rx="1.99" ry="1.10" transform="rotate(12 174.7 423.1)" fill="#5d66c8" fill-opacity="0.8" stroke="#3d46b5" stroke-width="0.8"/>
<ellipse cx="174.5" cy="423.4" rx="0.99" ry="0.55" fill="#ffffff" fill-opacity="0.9"/>
<ellipse cx="178.4" cy="414.6" rx="1.25" ry="1.56" transform="rotate(-2 178.4 414.6)" fill="#5d66c8" fill-opacity="0.8" stroke="#3d46b5" stroke-width="0.8"/>
<ellipse cx="174.4" cy="417.8" rx="2.06" ry="1.37" transform="rotate(18 174.4 417.8)" fill="#5d66c8" fill-opacity="0.8" stroke="#3d46b5" stroke-width="0.8"/>
<ellipse cx="174.6" cy="418.1" rx="1.03" ry="0.69" fill="#d8e860" fill-opacity="0.9"/>
<ellipse cx="172.4" cy="410.1" rx="2.09" ry="1.64" transform="rotate(-1 172.4 410.1)" fill="#5d66c8" fill-opacity="0.8" stroke="#3d46b5" stroke-width="0.8"/>
<ellipse cx="167.4" cy="426.1" rx="1.76" ry="1.39" transform="rotate(-5 167.4 426.1)" fill="#5d66c8" fill-opacity="0.8" stroke="#3d46b5" stroke-width="0.8"/>
<ellipse cx="173.2" cy="422.0" rx="1.25" ry="1.47" transform="rotate(-19 173.2 422.0)" fill="#5d66c8" fill-opacity="0.8" stroke="#3d46b5" stroke-width="0.8"/>
<ellipse cx="169.9" cy="423.0" rx="1.11" ry="0.96" transform="rotate(13 169.9 423.0)" fill="#5d66c8" fill-opacity="0.8" stroke="#3d46b5" stroke-width="0.8"/>
<ellipse cx="169.8" cy="422.8" rx="0.56" ry="0.48" fill="#d8e860" fill-opacity="0.9"/>
<ellipse cx="177.1" cy="423.7" rx="1.72" ry="1.67" transform="rotate(3 177.1 423.7)" fill="#5d66c8" fill-opacity="0.8" stroke="#3d46b5" stroke-width="0.8"/>
<ellipse cx="177.2" cy="423.6" rx="0.86" ry="0.83" fill="#a8e070" fill-opacity="0.9"/>
<ellipse cx="170.7" cy="420.5" rx="1.71" ry="1.20" transform="rotate(-21 170.7 420.5)" fill="#5d66c8" fill-opacity="0.8" stroke="#3d46b5" stroke-width="0.8"/>
<ellipse cx="171.1" cy="420.8" rx="0.85" ry="0.60" fill="#ffffff" fill-opacity="0.9"/>
<ellipse cx="169.9" cy="429.0" rx="1.02" ry="0.87" transform="rotate(4 169.9 429.0)" fill="#5d66c8" fill-opacity="0.8" stroke="#3d46b5" stroke-width="0.8"/>
<ellipse cx="169.6" cy="428.6" rx="1.74" ry="1.17" transform="rotate(29 169.6 428.6)" fill="#5d66c8" fill-opacity="0.8" stroke="#3d46b5" stroke-width="0.8"/>
<ellipse cx="169.9" cy="428.5" rx="0.87" ry="0.58" fill="#ffffff" fill-opacity="0.9"/>
<ellipse cx="173.3" cy="412.6" rx="2.27" ry="1.23" transform="rotate(-5 173.3 412.6)" fill="#5d66c8" fill-opacity="0.8" stroke="#3d46b5" stroke-width="0.8"/>
<ellipse cx="173.3" cy="412.4" rx="1.14" ry="0.61" fill="#a8e070" fill-opacity="0.9"/>
<ellipse cx="168.4" cy="418.1" rx="1.07" ry="1.22" transform="rotate(21 168.4 418.1)" fill="#5d66c8" fill-opacity="0.8" stroke="#3d46b5" stroke-width="0.8"/>
<ellipse cx="169.1" cy="421.6" rx="1.63" ry="1.37" transform="rotate(6 169.1 421.6)" fill="#5d66c8" fill-opacity="0.8" stroke="#3d46b5" stroke-width="0.8"/>
<ellipse cx="172.5" cy="414.5" rx="1.40" ry="1.26" transform="rotate(-2 172.5 414.5)" fill="#5d66c8" fill-opacity="0.8" stroke="#3d46b5" stroke-width="0.8"/>
<ellipse cx="172.1" cy="414.3" rx="0.70" ry="0.63" fill="#70d8a0" fill-opacity="0.9"/>
<ellipse cx="174.6" cy="408.6" rx="1.90" ry="0.94" transform="rotate(-4 174.6 408.6)" fill="#5d66c8" fill-opacity="0.8" stroke="#3d46b5" stroke-width="0.8"/>
<ellipse cx="177.0" cy="427.7" rx="1.63" ry="1.40" transform="rotate(13 177.0 427.7)" fill="#5d66c8" fill-opacity="0.8" stroke="#3d46b5" stroke-width="0.8"/>
<ellipse cx="174.7" cy="417.1" rx="1.39" ry="1.49" transform="rotate(25 174.7 417.1)" fill="#5d66c8" fill-opacity="0.8" stroke="#3d46b5" stroke-width="0.8"/>
<ellipse cx="174.9" cy="417.4" rx="0.69" ry="0.75" fill="#ffffff" fill-opacity="0.9"/>
<ellipse cx="172.5" cy="416.9" rx="1.71" ry="0.81" transform="rotate(14 172.5 416.9)" fill="#5d66c8" fill-opacity="0.8" stroke="#3d46b5" stroke-width="0.8"/>
<ellipse cx="172.8" cy="417.0" rx="0.86" ry="0.41" fill="#45d0c0" fill-opacity="0.9"/>
<ellipse cx="169.7" cy="417.0" rx="1.11" ry="1.14" transform="rotate(-1 169.7 417.0)" fill="#5d66c8" fill-opacity="0.8" stroke="#3d46b5" stroke-width="0.8"/>
<ellipse cx="169.4" cy="417.1" rx="0.55" ry="0.57" fill="#45d0c0" fill-opacity="0.9"/>
<ellipse cx="175.0" cy="409.3" rx="1.39" ry="1.62" transform="rotate(-21 175.0 409.3)" fill="#5d66c8" fill-opacity="0.8" stroke="#3d46b5" stroke-width="0.8"/>
<ellipse cx="175.9" cy="411.4" rx="1.75" ry="0.88" transform="rotate(-6 175.9 411.4)" fill="#9aa2e8" fill-opacity="0.45" stroke="#3d46b5" stroke-width="0.85"/>
<ellipse cx="170.9" cy="412.4" rx="1.79" ry="1.22" transform="rotate(26 170.9 412.4)" fill="#9aa2e8" fill-opacity="0.45" stroke="#3d46b5" stroke-width="0.85"/>
<ellipse cx="170.6" cy="412.3" rx="0.89" ry="0.61" fill="#3cc8d8" fill-opacity="0.9"/>
<ellipse cx="178.6" cy="419.4" rx="1.81" ry="1.01" transform="rotate(3 178.6 419.4)" fill="#9aa2e8" fill-opacity="0.45" stroke="#3d46b5" stroke-width="0.85"/>
<ellipse cx="178.6" cy="419.1" rx="0.91" ry="0.51" fill="#a8e070" fill-opacity="0.9"/>
<ellipse cx="177.8" cy="416.4" rx="1.52" ry="0.89" transform="rotate(-29 177.8 416.4)" fill="#9aa2e8" fill-opacity="0.45" stroke="#3d46b5" stroke-width="0.85"/>
<ellipse cx="177.5" cy="416.1" rx="0.76" ry="0.44" fill="#3cc8d8" fill-opacity="0.9"/>
<ellipse cx="167.8" cy="428.7" rx="1.63" ry="1.07" transform="rotate(18 167.8 428.7)" fill="#9aa2e8" fill-opacity="0.45" stroke="#3d46b5" stroke-width="0.85"/>
<ellipse cx="167.5" cy="428.5" rx="0.82" ry="0.53" fill="#ffffff" fill-opacity="0.9"/>
<ellipse cx="174.9" cy="409.8" rx="1.17" ry="1.67" transform="rotate(10 174.9 409.8)" fill="#9aa2e8" fill-opacity="0.45" stroke="#3d46b5" stroke-width="0.85"/>
<ellipse cx="175.2" cy="414.2" rx="2.09" ry="1.04" transform="rotate(26 175.2 414.2)" fill="#9aa2e8" fill-opacity="0.45" stroke="#3d46b5" stroke-width="0.85"/>
<ellipse cx="170.1" cy="424.3" rx="1.48" ry="1.04" transform="rotate(8 170.1 424.3)" fill="#9aa2e8" fill-opacity="0.45" stroke="#3d46b5" stroke-width="0.85"/>
<ellipse cx="172.3" cy="420.5" rx="1.75" ry="1.46" transform="rotate(-6 172.3 420.5)" fill="#9aa2e8" fill-opacity="0.45" stroke="#3d46b5" stroke-width="0.85"/>
<ellipse cx="172.0" cy="420.2" rx="0.88" ry="0.73" fill="#3cc8d8" fill-opacity="0.9"/>
<ellipse cx="178.2" cy="417.2" rx="1.99" ry="0.77" transform="rotate(-2 178.2 417.2)" fill="#9aa2e8" fill-opacity="0.45" stroke="#3d46b5" stroke-width="0.85"/>
<ellipse cx="169.2" cy="416.7" rx="1.26" ry="1.38" transform="rotate(-26 169.2 416.7)" fill="#9aa2e8" fill-opacity="0.45" stroke="#3d46b5" stroke-width="0.85"/>
<ellipse cx="166.4" cy="410.7" rx="1.37" ry="0.92" transform="rotate(-13 166.4 410.7)" fill="#9aa2e8" fill-opacity="0.45" stroke="#3d46b5" stroke-width="0.85"/>
<ellipse cx="166.8" cy="410.5" rx="0.69" ry="0.46" fill="#ffffff" fill-opacity="0.9"/>
<ellipse cx="169.1" cy="405.0" rx="1.05" ry="1.19" transform="rotate(21 169.1 405.0)" fill="#9aa2e8" fill-opacity="0.45" stroke="#3d46b5" stroke-width="0.85"/>
<ellipse cx="168.9" cy="405.1" rx="0.52" ry="0.60" fill="#d8e860" fill-opacity="0.9"/>
<ellipse cx="174.5" cy="421.2" rx="2.18" ry="1.43" transform="rotate(11 174.5 421.2)" fill="#9aa2e8" fill-opacity="0.45" stroke="#3d46b5" stroke-width="0.85"/>
<ellipse cx="174.3" cy="421.4" rx="1.09" ry="0.71" fill="#d8e860" fill-opacity="0.9"/>
<ellipse cx="166.6" cy="410.3" rx="1.88" ry="1.64" transform="rotate(9 166.6 410.3)" fill="#9aa2e8" fill-opacity="0.45" stroke="#3d46b5" stroke-width="0.85"/>
<ellipse cx="179.0" cy="424.1" rx="1.32" ry="1.52" transform="rotate(-24 179.0 424.1)" fill="#9aa2e8" fill-opacity="0.45" stroke="#3d46b5" stroke-width="0.85"/>
<ellipse cx="174.3" cy="417.7" rx="2.02" ry="0.81" transform="rotate(20 174.3 417.7)" fill="#9aa2e8" fill-opacity="0.45" stroke="#3d46b5" stroke-width="0.85"/>
<ellipse cx="166.9" cy="418.1" rx="1.53" ry="1.26" transform="rotate(-25 166.9 418.1)" fill="#9aa2e8" fill-opacity="0.45" stroke="#3d46b5" stroke-width="0.85"/>
<ellipse cx="166.5" cy="418.4" rx="0.77" ry="0.63" fill="#45d0c0" fill-opacity="0.9"/>
<ellipse cx="173.6" cy="428.1" rx="1.29" ry="0.78" transform="rotate(2 173.6 428.1)" fill="#9aa2e8" fill-opacity="0.45" stroke="#3d46b5" stroke-width="0.85"/>
<ellipse cx="172.4" cy="407.1" rx="1.04" ry="1.47" transform="rotate(11 172.4 407.1)" fill="#9aa2e8" fill-opacity="0.45" stroke="#3d46b5" stroke-width="0.85"/>
<ellipse cx="172.9" cy="407.3" rx="1.64" ry="1.49" transform="rotate(-14 172.9 407.3)" fill="#9aa2e8" fill-opacity="0.45" stroke="#3d46b5" stroke-width="0.85"/>
<ellipse cx="175.2" cy="426.5" rx="2.25" ry="1.39" transform="rotate(-13 175.2 426.5)" fill="#9aa2e8" fill-opacity="0.45" stroke="#3d46b5" stroke-width="0.85"/>
<ellipse cx="170.7" cy="412.4" rx="1.98" ry="1.28" transform="rotate(24 170.7 412.4)" fill="#9aa2e8" fill-opacity="0.45" stroke="#3d46b5" stroke-width="0.85"/>
<ellipse cx="173.2" cy="416.1" rx="2.06" ry="1.38" transform="rotate(27 173.2 416.1)" fill="#9aa2e8" fill-opacity="0.45" stroke="#3d46b5" stroke-width="0.85"/>
<ellipse cx="168.3" cy="426.9" rx="1.51" ry="0.89" transform="rotate(-26 168.3 426.9)" fill="#9aa2e8" fill-opacity="0.45" stroke="#3d46b5" stroke-width="0.85"/>
<ellipse cx="168.3" cy="426.7" rx="0.75" ry="0.44" fill="#a8e070" fill-opacity="0.9"/>
<ellipse cx="177.2" cy="415.9" rx="1.35" ry="1.65" transform="rotate(-29 177.2 415.9)" fill="#9aa2e8" fill-opacity="0.45" stroke="#3d46b5" stroke-width="0.85"/>
<ellipse cx="169.8" cy="412.9" rx="1.04" ry="1.31" transform="rotate(20 169.8 412.9)" fill="#9aa2e8" fill-opacity="0.45" stroke="#3d46b5" stroke-width="0.85"/>
<ellipse cx="168.3" cy="420.9" rx="1.82" ry="0.90" transform="rotate(16 168.3 420.9)" fill="#9aa2e8" fill-opacity="0.45" stroke="#3d46b5" stroke-width="0.85"/>
<ellipse cx="192.7" cy="419.9" rx="2.19" ry="1.20" transform="rotate(-4 192.7 419.9)" fill="#5d66c8" fill-opacity="0.8" stroke="#3d46b5" stroke-width="0.8"/>
<ellipse cx="192.7" cy="420.3" rx="1.09" ry="0.60" fill="#70d8a0" fill-opacity="0.9"/>
<ellipse cx="198.4" cy="419.2" rx="1.02" ry="1.61" transform="rotate(-16 198.4 419.2)" fill="#5d66c8" fill-opacity="0.8" stroke="#3d46b5" stroke-width="0.8"/>
<ellipse cx="195.4" cy="419.3" rx="1.37" ry="0.95" transform="rotate(4 195.4 419.3)" fill="#5d66c8" fill-opacity="0.8" stroke="#3d46b5" stroke-width="0.8"/>
<ellipse cx="195.3" cy="419.5" rx="0.69" ry="0.48" fill="#58b8e8" fill-opacity="0.9"/>
<ellipse cx="190.5" cy="410.6" rx="1.20" ry="1.54" transform="rotate(-1 190.5 410.6)" fill="#5d66c8" fill-opacity="0.8" stroke="#3d46b5" stroke-width="0.8"/>
<ellipse cx="190.4" cy="410.8" rx="0.60" ry="0.77" fill="#70d8a0" fill-opacity="0.9"/>
<ellipse cx="196.3" cy="420.8" rx="1.70" ry="0.85" transform="rotate(-18 196.3 420.8)" fill="#5d66c8" fill-opacity="0.8" stroke="#3d46b5" stroke-width="0.8"/>
<ellipse cx="188.7" cy="414.1" rx="1.26" ry="1.13" transform="rotate(-11 188.7 414.1)" fill="#5d66c8" fill-opacity="0.8" stroke="#3d46b5" stroke-width="0.8"/>
<ellipse cx="188.7" cy="414.1" rx="0.63" ry="0.56" fill="#a8e070" fill-opacity="0.9"/>
<ellipse cx="196.0" cy="422.7" rx="1.76" ry="1.64" transform="rotate(3 196.0 422.7)" fill="#5d66c8" fill-opacity="0.8" stroke="#3d46b5" stroke-width="0.8"/>
<ellipse cx="196.2" cy="422.6" rx="0.88" ry="0.82" fill="#70d8a0" fill-opacity="0.9"/>
<ellipse cx="191.6" cy="412.9" rx="1.38" ry="0.84" transform="rotate(-25 191.6 412.9)" fill="#5d66c8" fill-opacity="0.8" stroke="#3d46b5" stroke-width="0.8"/>
<ellipse cx="191.4" cy="413.3" rx="0.69" ry="0.42" fill="#ffffff" fill-opacity="0.9"/>
<ellipse cx="192.8" cy="415.7" rx="2.24" ry="1.60" transform="rotate(11 192.8 415.7)" fill="#5d66c8" fill-opacity="0.8" stroke="#3d46b5" stroke-width="0.8"/>
<ellipse cx="188.2" cy="404.7" rx="1.17" ry="1.08" transform="rotate(17 188.2 404.7)" fill="#5d66c8" fill-opacity="0.8" stroke="#3d46b5" stroke-width="0.8"/>
<ellipse cx="188.3" cy="404.6" rx="0.59" ry="0.54" fill="#3cc8d8" fill-opacity="0.9"/>
<ellipse cx="195.5" cy="414.7" rx="1.51" ry="0.87" transform="rotate(11 195.5 414.7)" fill="#5d66c8" fill-opacity="0.8" stroke="#3d46b5" stroke-width="0.8"/>
<ellipse cx="194.0" cy="418.6" rx="1.39" ry="1.51" transform="rotate(18 194.0 418.6)" fill="#5d66c8" fill-opacity="0.8" stroke="#3d46b5" stroke-width="0.8"/>
<ellipse cx="193.7" cy="418.5" rx="0.70" ry="0.76" fill="#70d8a0" fill-opacity="0.9"/>
<ellipse cx="195.7" cy="420.6" rx="1.69" ry="1.61" transform="rotate(-12 195.7 420.6)" fill="#5d66c8" fill-opacity="0.8" stroke="#3d46b5" stroke-width="0.8"/>
<ellipse cx="195.4" cy="420.2" rx="0.85" ry="0.81" fill="#d8e860" fill-opacity="0.9"/>
<ellipse cx="185.0" cy="413.5" rx="1.74" ry="1.17" transform="rotate(-10 185.0 413.5)" fill="#5d66c8" fill-opacity="0.8" stroke="#3d46b5" stroke-width="0.8"/>
<ellipse cx="185.2" cy="413.2" rx="0.87" ry="0.59" fill="#d8e860" fill-opacity="0.9"/>
<ellipse cx="192.9" cy="421.1" rx="1.11" ry="0.94" transform="rotate(-2 192.9 421.1)" fill="#5d66c8" fill-opacity="0.8" stroke="#3d46b5" stroke-width="0.8"/>
<ellipse cx="193.2" cy="421.2" rx="0.56" ry="0.47" fill="#58b8e8" fill-opacity="0.9"/>
<ellipse cx="181.9" cy="409.4" rx="1.49" ry="1.48" transform="rotate(4 181.9 409.4)" fill="#5d66c8" fill-opacity="0.8" stroke="#3d46b5" stroke-width="0.8"/>
<ellipse cx="182.2" cy="409.6" rx="0.74" ry="0.74" fill="#d8e860" fill-opacity="0.9"/>
<ellipse cx="186.2" cy="418.5" rx="1.27" ry="1.07" transform="rotate(-20 186.2 418.5)" fill="#5d66c8" fill-opacity="0.8" stroke="#3d46b5" stroke-width="0.8"/>
<ellipse cx="195.3" cy="418.7" rx="1.78" ry="1.12" transform="rotate(11 195.3 418.7)" fill="#5d66c8" fill-opacity="0.8" stroke="#3d46b5" stroke-width="0.8"/>
<ellipse cx="195.6" cy="418.4" rx="0.89" ry="0.56" fill="#d8e860" fill-opacity="0.9"/>
<ellipse cx="199.0" cy="419.2" rx="1.46" ry="0.90" transform="rotate(24 199.0 419.2)" fill="#5d66c8" fill-opacity="0.8" stroke="#3d46b5" stroke-width="0.8"/>
<ellipse cx="189.8" cy="408.6" rx="1.45" ry="1.56" transform="rotate(1 189.8 408.6)" fill="#5d66c8" fill-opacity="0.8" stroke="#3d46b5" stroke-width="0.8"/>
<ellipse cx="190.2" cy="408.4" rx="0.72" ry="0.78" fill="#ffffff" fill-opacity="0.9"/>
<ellipse cx="195.8" cy="419.1" rx="2.10" ry="1.56" transform="rotate(-15 195.8 419.1)" fill="#5d66c8" fill-opacity="0.8" stroke="#3d46b5" stroke-width="0.8"/>
<ellipse cx="196.1" cy="418.7" rx="1.05" ry="0.78" fill="#70d8a0" fill-opacity="0.9"/>
<ellipse cx="197.1" cy="423.7" rx="2.13" ry="0.84" transform="rotate(28 197.1 423.7)" fill="#5d66c8" fill-opacity="0.8" stroke="#3d46b5" stroke-width="0.8"/>
<ellipse cx="196.7" cy="423.8" rx="1.06" ry="0.42" fill="#ffffff" fill-opacity="0.9"/>
<ellipse cx="197.5" cy="423.0" rx="1.62" ry="0.79" transform="rotate(-20 197.5 423.0)" fill="#5d66c8" fill-opacity="0.8" stroke="#3d46b5" stroke-width="0.8"/>
<ellipse cx="183.7" cy="411.0" rx="1.94" ry="1.52" transform="rotate(19 183.7 411.0)" fill="#5d66c8" fill-opacity="0.8" stroke="#3d46b5" stroke-width="0.8"/>
<ellipse cx="183.3" cy="411.3" rx="0.97" ry="0.76" fill="#ffffff" fill-opacity="0.9"/>
<ellipse cx="187.2" cy="421.5" rx="2.29" ry="0.97" transform="rotate(-5 187.2 421.5)" fill="#5d66c8" fill-opacity="0.8" stroke="#3d46b5" stroke-width="0.8"/>
<ellipse cx="187.1" cy="421.1" rx="1.14" ry="0.48" fill="#ffffff" fill-opacity="0.9"/>
<ellipse cx="193.1" cy="417.4" rx="1.12" ry="1.41" transform="rotate(-28 193.1 417.4)" fill="#5d66c8" fill-opacity="0.8" stroke="#3d46b5" stroke-width="0.8"/>
<ellipse cx="192.8" cy="417.0" rx="0.56" ry="0.70" fill="#70d8a0" fill-opacity="0.9"/>
<ellipse cx="201.1" cy="421.6" rx="1.19" ry="0.99" transform="rotate(25 201.1 421.6)" fill="#5d66c8" fill-opacity="0.8" stroke="#3d46b5" stroke-width="0.8"/>
<ellipse cx="184.5" cy="417.3" rx="1.50" ry="1.49" transform="rotate(-21 184.5 417.3)" fill="#5d66c8" fill-opacity="0.8" stroke="#3d46b5" stroke-width="0.8"/>
<ellipse cx="184.4" cy="417.0" rx="0.75" ry="0.74" fill="#45d0c0" fill-opacity="0.9"/>
<ellipse cx="195.2" cy="420.2" rx="1.63" ry="1.31" transform="rotate(28 195.2 420.2)" fill="#5d66c8" fill-opacity="0.8" stroke="#3d46b5" stroke-width="0.8"/>
<ellipse cx="195.1" cy="420.2" rx="0.81" ry="0.65" fill="#70d8a0" fill-opacity="0.9"/>
<ellipse cx="192.8" cy="420.9" rx="1.92" ry="0.77" transform="rotate(16 192.8 420.9)" fill="#5d66c8" fill-opacity="0.8" stroke="#3d46b5" stroke-width="0.8"/>
<ellipse cx="193.1" cy="420.5" rx="0.96" ry="0.39" fill="#58b8e8" fill-opacity="0.9"/>
<ellipse cx="180.7" cy="410.3" rx="1.46" ry="0.79" transform="rotate(-12 180.7 410.3)" fill="#5d66c8" fill-opacity="0.8" stroke="#3d46b5" stroke-width="0.8"/>
<ellipse cx="181.0" cy="410.2" rx="0.73" ry="0.39" fill="#45d0c0" fill-opacity="0.9"/>
<ellipse cx="198.6" cy="423.6" rx="2.23" ry="1.69" transform="rotate(-12 198.6 423.6)" fill="#5d66c8" fill-opacity="0.8" stroke="#3d46b5" stroke-width="0.8"/>
<ellipse cx="198.7" cy="423.3" rx="1.12" ry="0.84" fill="#45d0c0" fill-opacity="0.9"/>
<ellipse cx="189.0" cy="410.4" rx="2.20" ry="1.04" transform="rotate(3 189.0 410.4)" fill="#5d66c8" fill-opacity="0.8" stroke="#3d46b5" stroke-width="0.8"/>
<ellipse cx="187.8" cy="404.2" rx="1.02" ry="1.29" transform="rotate(4 187.8 404.2)" fill="#5d66c8" fill-opacity="0.8" stroke="#3d46b5" stroke-width="0.8"/>
<ellipse cx="187.4" cy="404.5" rx="0.51" ry="0.65" fill="#45d0c0" fill-opacity="0.9"/>
<ellipse cx="196.3" cy="418.9" rx="1.18" ry="1.00" transform="rotate(-29 196.3 418.9)" fill="#5d66c8" fill-opacity="0.8" stroke="#3d46b5" stroke-width="0.8"/>
<ellipse cx="196.4" cy="418.7" rx="0.59" ry="0.50" fill="#70d8a0" fill-opacity="0.9"/>
<ellipse cx="197.4" cy="423.3" rx="2.19" ry="1.55" transform="rotate(6 197.4 423.3)" fill="#9aa2e8" fill-opacity="0.45" stroke="#3d46b5" stroke-width="0.85"/>
<ellipse cx="197.1" cy="418.1" rx="1.08" ry="1.54" transform="rotate(-0 197.1 418.1)" fill="#9aa2e8" fill-opacity="0.45" stroke="#3d46b5" stroke-width="0.85"/>
<ellipse cx="179.5" cy="410.6" rx="1.55" ry="1.26" transform="rotate(-3 179.5 410.6)" fill="#9aa2e8" fill-opacity="0.45" stroke="#3d46b5" stroke-width="0.85"/>
<ellipse cx="192.4" cy="417.1" rx="1.77" ry="0.80" transform="rotate(13 192.4 417.1)" fill="#9aa2e8" fill-opacity="0.45" stroke="#3d46b5" stroke-width="0.85"/>
<ellipse cx="192.8" cy="417.2" rx="0.89" ry="0.40" fill="#45d0c0" fill-opacity="0.9"/>
<ellipse cx="192.7" cy="422.5" rx="1.35" ry="1.04" transform="rotate(-30 192.7 422.5)" fill="#9aa2e8" fill-opacity="0.45" stroke="#3d46b5" stroke-width="0.85"/>
<ellipse cx="196.2" cy="418.9" rx="1.30" ry="1.01" transform="rotate(27 196.2 418.9)" fill="#9aa2e8" fill-opacity="0.45" stroke="#3d46b5" stroke-width="0.85"/>
<ellipse cx="195.9" cy="419.3" rx="0.65" ry="0.51" fill="#45d0c0" fill-opacity="0.9"/>
<ellipse cx="195.9" cy="421.1" rx="1.52" ry="0.95" transform="rotate(25 195.9 421.1)" fill="#9aa2e8" fill-opacity="0.45" stroke="#3d46b5" stroke-width="0.85"/>
<ellipse cx="196.2" cy="421.0" rx="0.76" ry="0.47" fill="#ffffff" fill-opacity="0.9"/>
<ellipse cx="181.8" cy="407.6" rx="1.65" ry="1.27" transform="rotate(24 181.8 407.6)" fill="#9aa2e8" fill-opacity="0.45" stroke="#3d46b5" stroke-width="0.85"/>
<ellipse cx="187.0" cy="418.5" rx="2.09" ry="1.04" transform="rotate(-24 187.0 418.5)" fill="#9aa2e8" fill-opacity="0.45" stroke="#3d46b5" stroke-width="0.85"/>
<ellipse cx="187.2" cy="418.5" rx="1.04" ry="0.52" fill="#d8e860" fill-opacity="0.9"/>
<ellipse cx="197.8" cy="421.8" rx="2.24" ry="0.87" transform="rotate(16 197.8 421.8)" fill="#9aa2e8" fill-opacity="0.45" stroke="#3d46b5" stroke-width="0.85"/>
<ellipse cx="198.1" cy="421.7" rx="1.12" ry="0.44" fill="#45d0c0" fill-opacity="0.9"/>
<ellipse cx="193.2" cy="420.0" rx="2.00" ry="0.86" transform="rotate(21 193.2 420.0)" fill="#9aa2e8" fill-opacity="0.45" stroke="#3d46b5" stroke-width="0.85"/>
<ellipse cx="192.1" cy="422.3" rx="1.54" ry="1.58" transform="rotate(-26 192.1 422.3)" fill="#9aa2e8" fill-opacity="0.45" stroke="#3d46b5" stroke-width="0.85"/>
<ellipse cx="191.8" cy="422.0" rx="0.77" ry="0.79" fill="#70d8a0" fill-opacity="0.9"/>
<ellipse cx="192.5" cy="420.5" rx="1.31" ry="0.79" transform="rotate(4 192.5 420.5)" fill="#9aa2e8" fill-opacity="0.45" stroke="#3d46b5" stroke-width="0.85"/>
<ellipse cx="192.7" cy="420.4" rx="0.65" ry="0.40" fill="#45d0c0" fill-opacity="0.9"/>
<ellipse cx="201.0" cy="420.8" rx="1.15" ry="1.48" transform="rotate(-23 201.0 420.8)" fill="#9aa2e8" fill-opacity="0.45" stroke="#3d46b5" stroke-width="0.85"/>
<ellipse cx="191.4" cy="415.9" rx="1.51" ry="0.87" transform="rotate(-12 191.4 415.9)" fill="#9aa2e8" fill-opacity="0.45" stroke="#3d46b5" stroke-width="0.85"/>
<ellipse cx="186.3" cy="415.3" rx="2.19" ry="1.07" transform="rotate(19 186.3 415.3)" fill="#9aa2e8" fill-opacity="0.45" stroke="#3d46b5" stroke-width="0.85"/>
<ellipse cx="184.8" cy="420.0" rx="1.84" ry="1.05" transform="rotate(3 184.8 420.0)" fill="#9aa2e8" fill-opacity="0.45" stroke="#3d46b5" stroke-width="0.85"/>
<ellipse cx="194.3" cy="422.5" rx="1.35" ry="1.20" transform="rotate(16 194.3 422.5)" fill="#9aa2e8" fill-opacity="0.45" stroke="#3d46b5" stroke-width="0.85"/>
<ellipse cx="190.3" cy="411.6" rx="2.23" ry="1.48" transform="rotate(-3 190.3 411.6)" fill="#9aa2e8" fill-opacity="0.45" stroke="#3d46b5" stroke-width="0.85"/>
<ellipse cx="190.1" cy="411.3" rx="1.12" ry="0.74" fill="#58b8e8" fill-opacity="0.9"/>
<ellipse cx="194.1" cy="420.8" rx="1.88" ry="1.51" transform="rotate(-1 194.1 420.8)" fill="#9aa2e8" fill-opacity="0.45" stroke="#3d46b5" stroke-width="0.85"/>
<ellipse cx="194.2" cy="420.9" rx="0.94" ry="0.76" fill="#a8e070" fill-opacity="0.9"/>
<ellipse cx="197.9" cy="420.9" rx="2.13" ry="1.62" transform="rotate(-13 197.9 420.9)" fill="#9aa2e8" fill-opacity="0.45" stroke="#3d46b5" stroke-width="0.85"/>
<ellipse cx="197.6" cy="420.9" rx="1.07" ry="0.81" fill="#a8e070" fill-opacity="0.9"/>
<ellipse cx="195.2" cy="422.6" rx="1.39" ry="0.95" transform="rotate(27 195.2 422.6)" fill="#9aa2e8" fill-opacity="0.45" stroke="#3d46b5" stroke-width="0.85"/>
<ellipse cx="195.6" cy="422.5" rx="0.69" ry="0.47" fill="#ffffff" fill-opacity="0.9"/>
<ellipse cx="198.1" cy="420.5" rx="2.09" ry="1.40" transform="rotate(-10 198.1 420.5)" fill="#9aa2e8" fill-opacity="0.45" stroke="#3d46b5" stroke-width="0.85"/>
<ellipse cx="198.6" cy="421.7" rx="2.03" ry="0.91" transform="rotate(-0 198.6 421.7)" fill="#9aa2e8" fill-opacity="0.45" stroke="#3d46b5" stroke-width="0.85"/>
<ellipse cx="198.8" cy="422.0" rx="1.02" ry="0.46" fill="#ffffff" fill-opacity="0.9"/>
<ellipse cx="193.0" cy="405.5" rx="1.24" ry="1.24" transform="rotate(10 193.0 405.5)" fill="#9aa2e8" fill-opacity="0.45" stroke="#3d46b5" stroke-width="0.85"/>
<ellipse cx="192.9" cy="405.7" rx="0.62" ry="0.62" fill="#45d0c0" fill-opacity="0.9"/>
<ellipse cx="154.8" cy="394.8" rx="1.34" ry="1.11" transform="rotate(0 154.8 394.8)" fill="#9aa2e8" fill-opacity="0.45" stroke="#3d46b5" stroke-width="0.85"/>
<ellipse cx="157.5" cy="396.6" rx="1.47" ry="0.87" transform="rotate(11 157.5 396.6)" fill="#9aa2e8" fill-opacity="0.45" stroke="#3d46b5" stroke-width="0.85"/>
<ellipse cx="159.4" cy="397.3" rx="0.57" ry="0.81" transform="rotate(-24 159.4 397.3)" fill="#9aa2e8" fill-opacity="0.45" stroke="#3d46b5" stroke-width="0.85"/>
<ellipse cx="161.3" cy="399.1" rx="0.75" ry="1.08" transform="rotate(16 161.3 399.1)" fill="#9aa2e8" fill-opacity="0.45" stroke="#3d46b5" stroke-width="0.85"/>
<ellipse cx="163.2" cy="400.8" rx="1.50" ry="0.65" transform="rotate(23 163.2 400.8)" fill="#9aa2e8" fill-opacity="0.45" stroke="#3d46b5" stroke-width="0.85"/>
<ellipse cx="163.6" cy="401.0" rx="0.84" ry="0.48" transform="rotate(-17 163.6 401.0)" fill="#9aa2e8" fill-opacity="0.45" stroke="#3d46b5" stroke-width="0.85"/>
<ellipse cx="165.9" cy="402.9" rx="0.82" ry="1.10" transform="rotate(24 165.9 402.9)" fill="#9aa2e8" fill-opacity="0.45" stroke="#3d46b5" stroke-width="0.85"/>
<ellipse cx="167.7" cy="403.4" rx="0.71" ry="0.80" transform="rotate(16 167.7 403.4)" fill="#9aa2e8" fill-opacity="0.45" stroke="#3d46b5" stroke-width="0.85"/>
<ellipse cx="202.9" cy="392.2" rx="2.19" ry="1.51" transform="rotate(-5 202.9 392.2)" fill="#5d66c8" fill-opacity="0.8" stroke="#3d46b5" stroke-width="0.8"/>
<ellipse cx="202.6" cy="388.2" rx="1.76" ry="1.43" transform="rotate(22 202.6 388.2)" fill="#5d66c8" fill-opacity="0.8" stroke="#3d46b5" stroke-width="0.8"/>
<ellipse cx="202.5" cy="387.9" rx="0.88" ry="0.72" fill="#70d8a0" fill-opacity="0.9"/>
<ellipse cx="198.5" cy="387.9" rx="1.39" ry="0.77" transform="rotate(-21 198.5 387.9)" fill="#5d66c8" fill-opacity="0.8" stroke="#3d46b5" stroke-width="0.8"/>
<ellipse cx="202.7" cy="391.2" rx="1.61" ry="1.54" transform="rotate(24 202.7 391.2)" fill="#5d66c8" fill-opacity="0.8" stroke="#3d46b5" stroke-width="0.8"/>
<ellipse cx="199.9" cy="389.2" rx="2.28" ry="1.44" transform="rotate(-8 199.9 389.2)" fill="#5d66c8" fill-opacity="0.8" stroke="#3d46b5" stroke-width="0.8"/>
<ellipse cx="203.3" cy="389.7" rx="2.19" ry="1.33" transform="rotate(2 203.3 389.7)" fill="#5d66c8" fill-opacity="0.8" stroke="#3d46b5" stroke-width="0.8"/>
<ellipse cx="203.4" cy="390.1" rx="1.10" ry="0.67" fill="#ffffff" fill-opacity="0.9"/>
<ellipse cx="195.8" cy="387.9" rx="2.06" ry="0.83" transform="rotate(2 195.8 387.9)" fill="#9aa2e8" fill-opacity="0.45" stroke="#3d46b5" stroke-width="0.85"/>
<ellipse cx="195.4" cy="388.0" rx="1.03" ry="0.42" fill="#d8e860" fill-opacity="0.9"/>
<ellipse cx="195.1" cy="388.3" rx="2.00" ry="0.80" transform="rotate(8 195.1 388.3)" fill="#9aa2e8" fill-opacity="0.45" stroke="#3d46b5" stroke-width="0.85"/>
<ellipse cx="202.2" cy="392.5" rx="1.89" ry="0.84" transform="rotate(-1 202.2 392.5)" fill="#9aa2e8" fill-opacity="0.45" stroke="#3d46b5" stroke-width="0.85"/>
<ellipse cx="198.3" cy="386.7" rx="1.37" ry="1.19" transform="rotate(-26 198.3 386.7)" fill="#9aa2e8" fill-opacity="0.45" stroke="#3d46b5" stroke-width="0.85"/>
<ellipse cx="193.9" cy="388.5" rx="1.55" ry="0.91" transform="rotate(8 193.9 388.5)" fill="#9aa2e8" fill-opacity="0.45" stroke="#3d46b5" stroke-width="0.85"/>
<ellipse cx="193.5" cy="383.5" rx="1.88" ry="1.30" transform="rotate(-9 193.5 383.5)" fill="#9aa2e8" fill-opacity="0.45" stroke="#3d46b5" stroke-width="0.85"/>
<ellipse cx="189.5" cy="388.5" rx="0.84" ry="0.91" transform="rotate(-0 189.5 388.5)" fill="#9aa2e8" fill-opacity="0.45" stroke="#3d46b5" stroke-width="0.85"/>
</g>
<line x1="33.4" y1="303.4" x2="328.6" y2="303.4" stroke="#ccc" stroke-width="1.2"/>
<line x1="33.4" y1="533.4" x2="328.6" y2="533.4" stroke="#555" stroke-width="1.2"/>
<line x1="34.0" y1="303.4" x2="34.0" y2="533.4" stroke="#aaa" stroke-width="1.4"/>
<line x1="328" y1="303.4" x2="328" y2="533.4" stroke="#bbb" stroke-width="1.3"/>
<line x1="89.75" y1="533.4" x2="89.75" y2="530.4" stroke="#666" stroke-width="0.8"/>
<line x1="89.75" y1="303.4" x2="89.75" y2="306.4" stroke="#666" stroke-width="0.8"/>
<text x="89.75" y="543.20" font-family="Liberation Sans, sans-serif" font-size="9.3" fill="#1a1a1a" stroke="#1a1a1a" stroke-width="0.42" text-anchor="middle" textLength="9.51" lengthAdjust="spacingAndGlyphs">50</text>
<line x1="147.45" y1="533.4" x2="147.45" y2="530.4" stroke="#666" stroke-width="0.8"/>
<line x1="147.45" y1="303.4" x2="147.45" y2="306.4" stroke="#666" stroke-width="0.8"/>
<text x="147.45" y="543.20" font-family="Liberation Sans, sans-serif" font-size="9.3" fill="#1a1a1a" stroke="#1a1a1a" stroke-width="0.42" text-anchor="middle" textLength="14.27" lengthAdjust="spacingAndGlyphs">100</text>
<line x1="205.15" y1="533.4" x2="205.15" y2="530.4" stroke="#666" stroke-width="0.8"/>
<line x1="205.15" y1="303.4" x2="205.15" y2="306.4" stroke="#666" stroke-width="0.8"/>
<text x="205.15" y="543.20" font-family="Liberation Sans, sans-serif" font-size="9.3" fill="#1a1a1a" stroke="#1a1a1a" stroke-width="0.42" text-anchor="middle" textLength="14.27" lengthAdjust="spacingAndGlyphs">150</text>
<line x1="262.85" y1="533.4" x2="262.85" y2="530.4" stroke="#666" stroke-width="0.8"/>
<line x1="262.85" y1="303.4" x2="262.85" y2="306.4" stroke="#666" stroke-width="0.8"/>
<text x="262.85" y="543.20" font-family="Liberation Sans, sans-serif" font-size="9.3" fill="#1a1a1a" stroke="#1a1a1a" stroke-width="0.42" text-anchor="middle" textLength="14.27" lengthAdjust="spacingAndGlyphs">200</text>
<line x1="320.55" y1="533.4" x2="320.55" y2="530.4" stroke="#666" stroke-width="0.8"/>
<line x1="320.55" y1="303.4" x2="320.55" y2="306.4" stroke="#666" stroke-width="0.8"/>
<text x="320.55" y="543.20" font-family="Liberation Sans, sans-serif" font-size="9.3" fill="#1a1a1a" stroke="#1a1a1a" stroke-width="0.42" text-anchor="middle" textLength="14.27" lengthAdjust="spacingAndGlyphs">250</text>
<line x1="34.0" y1="308.25" x2="37.0" y2="308.25" stroke="#666" stroke-width="0.8"/>
<line x1="328" y1="308.25" x2="325" y2="308.25" stroke="#666" stroke-width="0.8"/>
<text x="31.50" y="311.25" font-family="Liberation Sans, sans-serif" font-size="9.3" fill="#1a1a1a" stroke="#1a1a1a" stroke-width="0.42" text-anchor="end" textLength="14.27" lengthAdjust="spacingAndGlyphs">250</text>
<line x1="34.0" y1="353.38" x2="37.0" y2="353.38" stroke="#666" stroke-width="0.8"/>
<line x1="328" y1="353.38" x2="325" y2="353.38" stroke="#666" stroke-width="0.8"/>
<text x="31.50" y="356.38" font-family="Liberation Sans, sans-serif" font-size="9.3" fill="#1a1a1a" stroke="#1a1a1a" stroke-width="0.42" text-anchor="end" textLength="14.27" lengthAdjust="spacingAndGlyphs">200</text>
<line x1="34.0" y1="398.50" x2="37.0" y2="398.50" stroke="#666" stroke-width="0.8"/>
<line x1="328" y1="398.50" x2="325" y2="398.50" stroke="#666" stroke-width="0.8"/>
<text x="31.50" y="401.50" font-family="Liberation Sans, sans-serif" font-size="9.3" fill="#1a1a1a" stroke="#1a1a1a" stroke-width="0.42" text-anchor="end" textLength="14.27" lengthAdjust="spacingAndGlyphs">150</text>
<line x1="34.0" y1="443.62" x2="37.0" y2="443.62" stroke="#666" stroke-width="0.8"/>
<line x1="328" y1="443.62" x2="325" y2="443.62" stroke="#666" stroke-width="0.8"/>
<text x="31.50" y="446.62" font-family="Liberation Sans, sans-serif" font-size="9.3" fill="#1a1a1a" stroke="#1a1a1a" stroke-width="0.42" text-anchor="end" textLength="14.27" lengthAdjust="spacingAndGlyphs">100</text>
<line x1="34.0" y1="488.75" x2="37.0" y2="488.75" stroke="#666" stroke-width="0.8"/>
<line x1="328" y1="488.75" x2="325" y2="488.75" stroke="#666" stroke-width="0.8"/>
<text x="31.50" y="491.75" font-family="Liberation Sans, sans-serif" font-size="9.3" fill="#1a1a1a" stroke="#1a1a1a" stroke-width="0.42" text-anchor="end" textLength="9.51" lengthAdjust="spacingAndGlyphs">50</text>
<text x="184.5" y="561" font-family="Liberation Serif, serif" font-size="10.8" font-weight="normal" fill="#111" text-anchor="middle" textLength="54.5" lengthAdjust="spacingAndGlyphs" stroke="#111" stroke-width="0.32">Doppler cell</text>
<text transform="translate(10.3,426.1) rotate(-90)" font-family="Liberation Serif, serif" font-size="10.8" font-weight="normal" fill="#111" text-anchor="middle" textLength="46.5" lengthAdjust="spacingAndGlyphs" stroke="#111" stroke-width="0.32">Range cell</text>
<text x="0.6" y="293.9" font-family="Liberation Sans, sans-serif" font-size="18.2" fill="#111" stroke="#111" stroke-width="0.45">(c)</text>
<line x1="120.75" y1="342" x2="174.93" y2="374.89" stroke="#a3a3a3" stroke-width="1.5"/>
<polygon points="182.2,379.3 173.22,377.71 176.65,372.07" fill="#a3a3a3"/>
<line x1="245" y1="393.5" x2="178.29" y2="396.87" stroke="#a3a3a3" stroke-width="1.5"/>
<polygon points="169.8,397.3 178.12,393.58 178.46,400.17" fill="#a3a3a3"/>
<line x1="245" y1="393.5" x2="209.70" y2="417.87" stroke="#a3a3a3" stroke-width="1.5"/>
<polygon points="202.7,422.7 207.82,415.16 211.57,420.59" fill="#a3a3a3"/>
<line x1="105" y1="448.5" x2="156.56" y2="435.39" stroke="#a3a3a3" stroke-width="1.5"/>
<polygon points="164.8,433.3 157.37,438.59 155.75,432.20" fill="#a3a3a3"/>
<text x="106" y="340" font-family="Liberation Serif, serif" font-size="12" font-weight="normal" fill="#111" text-anchor="middle" textLength="17" lengthAdjust="spacingAndGlyphs" stroke="#111" stroke-width="0.55">Tail</text>
<text x="262" y="396.4" font-family="Liberation Serif, serif" font-size="12" font-weight="normal" fill="#111" text-anchor="middle" textLength="29" lengthAdjust="spacingAndGlyphs" stroke="#111" stroke-width="0.55">Wings</text>
<text x="86.5" y="443.2" font-family="Liberation Serif, serif" font-size="12" font-weight="normal" fill="#111" text-anchor="middle" textLength="18" lengthAdjust="spacingAndGlyphs" stroke="#111" stroke-width="0.55">Bolt</text>
<text x="86.6" y="455.8" font-family="Liberation Serif, serif" font-size="12" font-weight="normal" fill="#111" text-anchor="middle" textLength="20.7" lengthAdjust="spacingAndGlyphs" stroke="#111" stroke-width="0.55">head</text>
<path d="M403.24,534.25 L403.58,534.25 L403.92,534.25 L404.27,534.25 L404.61,534.25 L404.95,534.25 L405.29,534.25 L405.63,534.25 L405.98,534.25 L406.32,533.11 L406.66,533.92 L407.00,532.16 L407.34,533.02 L407.69,533.27 L408.03,533.04 L408.37,532.87 L408.71,533.33 L409.05,533.18 L409.40,533.15 L409.74,533.16 L410.08,532.31 L410.42,532.47 L410.76,533.24 L411.10,531.50 L411.45,533.01 L411.79,533.00 L412.13,531.57 L412.47,531.91 L412.89,531.73 L413.01,530.06 L413.13,531.94 L413.50,531.97 L413.84,533.39 L414.18,531.43 L414.52,533.27 L414.87,530.75 L415.21,533.08 L415.55,532.39 L415.89,529.44 L416.23,533.15 L416.58,532.87 L416.92,530.82 L417.26,532.56 L417.60,532.79 L417.94,530.94 L418.29,533.05 L418.63,532.69 L418.97,530.98 L419.31,532.00 L419.73,530.75 L419.85,528.42 L419.97,531.05 L420.34,531.77 L420.68,531.63 L421.02,530.31 L421.36,532.66 L421.71,530.35 L422.05,532.48 L422.39,529.80 L422.73,529.69 L423.07,530.89 L423.42,527.81 L423.76,532.17 L424.10,532.07 L424.32,527.82 L424.44,523.53 L424.56,528.36 L424.78,532.32 L425.12,532.72 L425.47,530.73 L425.81,530.46 L426.15,529.16 L426.49,532.86 L426.83,530.00 L427.18,531.32 L427.52,532.31 L427.86,528.95 L428.20,529.93 L428.54,529.99 L428.89,532.73 L429.23,529.58 L429.50,529.36 L429.62,526.10 L429.74,529.76 L429.91,530.50 L430.25,531.23 L430.60,532.37 L430.94,529.14 L431.28,529.09 L431.62,528.76 L431.96,530.91 L432.31,528.10 L432.65,530.51 L432.99,528.17 L433.33,529.35 L433.67,529.53 L434.02,532.15 L434.39,528.66 L434.50,524.93 L434.62,529.12 L435.04,528.52 L435.38,530.08 L435.73,532.03 L436.07,532.31 L436.41,529.74 L436.75,528.46 L437.09,528.90 L437.44,528.54 L437.78,528.43 L438.12,531.38 L438.46,528.44 L438.80,527.00 L439.14,528.31 L439.49,529.70 L439.76,521.81 L439.88,513.51 L439.99,522.84 L440.17,529.91 L440.51,526.06 L440.85,526.99 L441.20,527.74 L441.54,526.52 L441.88,530.44 L442.22,529.51 L442.40,523.35 L442.52,516.08 L442.63,524.25 L442.91,526.64 L443.25,528.87 L443.59,519.83 L443.93,528.29 L444.27,525.48 L444.62,521.24 L444.96,530.01 L445.30,527.71 L445.64,527.66 L445.98,526.37 L446.33,527.18 L446.67,528.52 L447.01,528.61 L447.35,530.68 L447.69,529.45 L448.04,528.14 L448.38,526.37 L448.72,526.06 L449.06,531.25 L449.40,521.82 L449.75,527.15 L450.09,529.00 L450.43,525.13 L450.77,524.57 L451.00,525.86 L451.11,520.27 L451.23,526.56 L451.45,526.18 L451.80,526.76 L452.14,530.09 L452.48,523.99 L452.82,527.46 L453.16,529.16 L453.51,524.81 L453.85,531.02 L454.19,527.19 L454.53,518.60 L454.87,531.12 L455.22,530.20 L455.56,523.36 L455.90,527.28 L456.24,524.51 L456.56,520.69 L456.68,511.65 L456.80,521.82 L456.93,520.90 L457.27,527.04 L457.61,525.26 L457.95,526.99 L458.29,526.63 L458.64,528.15 L458.98,523.55 L459.32,523.94 L459.66,526.79 L460.00,529.64 L460.35,526.90 L460.69,531.15 L461.03,526.71 L461.37,524.07 L461.71,526.86 L462.06,530.74 L462.40,527.50 L462.82,518.87 L462.93,508.62 L463.05,520.15 L463.42,523.63 L463.77,526.78 L464.11,529.44 L464.45,512.28 L464.79,531.01 L465.13,529.03 L465.47,528.09 L465.82,515.47 L466.16,529.98 L466.50,528.70 L466.84,525.93 L467.18,527.42 L467.53,523.09 L467.87,524.81 L468.21,525.78 L468.55,524.92 L468.89,528.71 L469.24,522.82 L469.58,527.81 L469.92,521.57 L470.26,520.73 L470.60,529.60 L470.95,523.44 L471.29,529.95 L471.63,526.53 L472.00,524.04 L472.12,517.24 L472.24,524.90 L472.66,523.67 L473.00,513.22 L473.34,522.78 L473.68,523.51 L474.02,529.54 L474.37,524.87 L474.71,521.90 L475.05,528.58 L475.39,519.95 L475.73,515.42 L476.08,525.66 L476.42,527.13 L476.76,525.00 L477.10,513.29 L477.44,521.24 L477.79,525.58 L478.13,526.10 L478.47,528.79 L478.81,530.48 L479.15,521.47 L479.49,520.75 L479.84,525.95 L480.18,524.77 L480.52,521.24 L480.86,519.95 L481.28,510.48 L481.40,494.64 L481.52,512.46 L481.89,520.16 L482.23,521.44 L482.57,525.69 L482.91,529.65 L483.26,519.05 L483.60,522.80 L483.94,527.65 L484.21,518.87 L484.33,508.62 L484.45,520.15 L484.62,522.42 L484.97,523.92 L485.31,518.18 L485.65,521.78 L485.99,507.95 L486.33,521.23 L486.68,522.05 L487.02,521.38 L487.36,519.01 L487.63,502.80 L487.75,481.82 L487.87,505.42 L488.04,523.15 L488.39,522.23 L488.73,529.29 L489.07,504.45 L489.41,528.19 L489.75,528.05 L490.10,505.78 L490.44,524.78 L490.78,522.46 L491.12,526.46 L491.46,522.86 L491.81,520.79 L492.15,529.94 L492.49,516.00 L492.83,524.96 L493.20,514.68 L493.32,501.63 L493.44,516.31 L493.86,524.34 L494.20,517.06 L494.54,523.03 L494.88,520.31 L495.22,516.82 L495.57,510.30 L495.91,523.80 L496.25,529.25 L496.59,528.25 L496.93,520.80 L497.28,526.32 L497.62,524.13 L497.96,522.57 L498.28,524.46 L498.40,517.94 L498.52,525.28 L498.99,518.93 L499.33,524.82 L499.67,520.23 L500.01,521.50 L500.35,519.18 L500.70,526.27 L501.04,516.79 L501.38,523.92 L501.72,523.68 L502.06,528.27 L502.41,515.40 L502.58,506.29 L502.70,487.65 L502.82,508.62 L503.09,524.31 L503.43,526.63 L503.77,518.85 L504.12,512.45 L504.46,520.53 L504.80,526.50 L505.14,525.82 L505.48,524.17 L505.82,514.98 L506.17,521.45 L506.51,515.88 L506.85,506.21 L507.19,516.83 L507.53,522.26 L507.88,525.02 L508.25,473.02 L508.37,432.20 L508.48,478.12 L508.90,518.49 L509.24,517.72 L509.59,518.39 L509.93,527.64 L510.27,520.70 L510.61,514.97 L510.95,522.65 L511.30,524.67 L511.64,523.18 L511.98,515.47 L512.32,523.71 L512.66,523.66 L513.01,523.25 L513.35,520.45 L513.69,520.78 L513.91,502.10 L514.03,480.66 L514.15,504.78 L514.37,515.33 L514.72,528.89 L515.06,520.58 L515.40,513.82 L515.74,504.41 L516.08,514.78 L516.43,517.35 L516.77,527.80 L517.11,526.83 L517.45,518.64 L517.79,525.55 L518.14,520.63 L518.48,522.67 L518.82,513.26 L519.16,520.99 L519.58,516.50 L519.70,504.66 L519.82,517.97 L520.19,515.40 L520.53,514.90 L520.87,515.18 L521.21,513.07 L521.55,513.75 L521.90,506.90 L522.24,491.36 L522.58,502.18 L522.92,522.37 L523.29,489.79 L523.41,460.16 L523.53,493.50 L523.95,523.61 L524.29,505.12 L524.63,515.05 L524.97,500.14 L525.32,521.81 L525.66,520.52 L526.00,511.53 L526.34,521.74 L526.71,514.68 L526.83,501.63 L526.95,516.31 L527.37,505.80 L527.71,519.76 L528.05,503.26 L528.39,512.47 L528.74,514.07 L529.08,525.00 L529.42,505.92 L529.76,512.83 L530.13,394.45 L530.25,301.25 L530.37,406.10 L530.79,525.96 L531.13,516.82 L531.47,508.20 L531.81,511.17 L532.16,519.74 L532.38,517.47 L532.50,506.29 L532.61,518.87 L532.84,501.33 L533.18,486.43 L533.52,526.30 L533.86,505.17 L534.21,524.30 L534.55,492.11 L534.89,514.71 L535.21,489.79 L535.33,460.16 L535.45,493.50 L535.92,516.09 L536.26,524.19 L536.60,521.30 L536.94,485.43 L537.28,518.81 L537.63,524.62 L537.97,515.04 L538.31,517.70 L538.53,514.68 L538.65,501.63 L538.77,516.31 L538.99,515.27 L539.34,515.21 L539.68,528.81 L540.02,517.28 L540.36,519.73 L540.70,528.88 L541.05,515.94 L541.39,518.99 L541.73,522.95 L542.07,524.24 L542.41,522.74 L542.76,524.97 L543.10,517.31 L543.44,513.91 L543.78,517.52 L544.12,512.82 L544.47,527.68 L544.59,502.10 L544.71,480.66 L544.83,504.78 L545.15,515.89 L545.49,527.80 L545.83,517.94 L546.18,528.11 L546.52,522.54 L546.86,519.11 L547.20,516.43 L547.54,524.13 L547.88,529.08 L548.23,518.45 L548.57,517.10 L548.91,512.94 L549.25,524.10 L549.59,527.76 L549.94,521.59 L550.26,473.58 L550.38,433.13 L550.49,478.63 L550.96,515.70 L551.30,524.10 L551.65,527.32 L551.99,514.59 L552.33,518.73 L552.67,526.55 L553.01,520.13 L553.36,528.29 L553.70,520.97 L554.04,524.67 L554.38,524.23 L554.72,527.76 L555.07,527.61 L555.41,521.64 L555.75,521.43 L555.93,510.48 L556.04,494.64 L556.16,512.46 L556.43,517.76 L556.78,527.89 L557.12,525.51 L557.46,526.22 L557.80,517.76 L558.14,521.23 L558.49,527.16 L558.83,516.35 L559.25,524.46 L559.36,517.94 L559.48,525.28 L559.85,521.42 L560.20,529.57 L560.54,515.81 L560.88,511.89 L561.22,526.16 L561.56,525.23 L561.90,529.34 L562.25,527.88 L562.59,521.62 L562.93,524.25 L563.27,520.47 L563.61,519.66 L563.96,516.40 L564.30,518.35 L564.64,524.10 L564.98,517.77 L565.32,522.94 L565.60,514.68 L565.72,501.63 L565.83,516.31 L566.01,529.30 L566.35,518.05 L566.69,522.12 L567.03,526.03 L567.38,521.09 L567.72,523.48 L568.06,529.43 L568.40,523.24 L568.74,526.15 L569.09,510.89 L569.43,517.65 L569.77,519.00 L570.11,519.84 L570.45,520.64 L570.80,504.83 L571.17,502.80 L571.28,481.82 L571.40,505.42 L571.82,526.47 L572.16,529.48 L572.51,520.05 L572.85,525.84 L573.19,514.41 L573.53,526.50 L573.87,518.77 L574.21,524.52 L574.56,526.73 L574.90,519.39 L575.24,520.16 L575.58,510.01 L575.92,518.35 L576.27,522.80 L576.61,518.11 L576.95,521.76 L577.29,519.72 L577.61,510.76 L577.73,495.11 L577.85,512.72 L578.32,529.58 L578.66,526.91 L579.00,528.24 L579.34,527.81 L579.69,521.37 L580.03,522.91 L580.37,523.78 L580.71,527.15 L581.05,522.98 L581.40,507.96 L581.52,524.46 L581.64,517.94 L581.76,525.28 L582.08,515.34 L582.42,527.47 L582.76,517.27 L583.11,522.24 L583.45,527.61 L583.79,528.67 L584.13,512.82 L584.47,522.49 L584.82,520.57 L585.16,528.83 L585.50,523.78 L585.84,523.68 L586.18,525.25 L586.41,524.46 L586.53,517.94 L586.64,525.28 L586.87,525.28 L587.21,529.02 L587.55,529.14 L587.89,528.41 L588.23,522.77 L588.58,522.63 L588.92,525.83 L589.26,524.92 L589.60,530.61 L589.94,523.61 L590.29,522.03 L590.51,525.16 L590.63,519.11 L590.75,525.92 L590.97,526.60 L591.31,528.38 L591.65,530.33 L592.00,525.35 L592.34,523.16 L592.56,525.86 L592.68,520.27 L592.80,526.56 L593.02,530.70 L593.36,525.00 L593.71,528.54 L594.05,530.29 L594.39,529.50 L594.73,529.64 L595.07,523.18 L595.42,530.63 L595.79,518.59 L595.90,508.15 L596.02,519.90 L596.44,524.05 L596.78,529.91 L597.13,521.21 L597.47,517.98 L597.81,528.55 L598.15,518.03 L598.49,524.33 L598.84,529.26 L599.18,526.35 L599.52,527.21 L599.86,528.12 L600.20,522.62 L600.55,531.08 L600.89,521.51 L601.23,525.33 L601.57,526.29 L601.84,521.25 L601.96,512.58 L602.08,522.33 L602.25,524.17 L602.60,524.76 L602.94,528.54 L603.28,524.46 L603.62,529.74 L603.96,528.97 L604.31,523.23 L604.65,524.38 L604.99,520.56 L605.33,528.63 L605.67,531.50 L606.02,529.52 L606.36,524.16 L606.70,529.52 L607.04,530.47 L607.38,528.85 L607.71,527.68 L607.82,523.30 L607.94,528.23 L608.41,519.25 L608.75,529.24 L609.09,523.58 L609.44,528.38 L609.78,523.98 L610.12,528.61 L610.46,530.83 L610.80,529.91 L611.15,524.80 L611.49,529.82 L611.83,528.92 L612.17,525.57 L612.51,529.82 L612.86,530.15 L612.98,525.86 L613.10,520.27 L613.22,526.56 L613.54,526.21 L613.88,529.89 L614.22,525.53 L614.57,527.20 L614.91,525.40 L615.25,530.44 L615.59,531.46 L615.93,525.84 L616.27,529.89 L616.60,523.90 L616.71,517.01 L616.83,524.77 L617.30,527.47 L617.64,524.15 L617.98,527.61 L618.33,524.19 L618.67,526.32 L619.01,531.89 L619.35,528.54 L619.63,522.37 L619.74,514.45 L619.86,523.36 L620.04,532.13 L620.38,526.78 L620.72,530.70 L621.06,531.19 L621.40,528.62 L621.75,530.18 L622.09,526.77 L622.43,528.69 L622.77,530.00 L623.11,530.82 L623.46,527.38 L623.73,529.36 L623.85,526.10 L623.96,529.76 L624.14,529.60 L624.48,530.46 L624.82,531.67 L625.17,531.26 L625.51,527.19 L625.85,530.42 L626.19,529.92 L626.53,529.67 L626.88,529.65 L627.22,527.57 L627.56,530.84 L627.83,530.06 L627.95,527.26 L628.07,530.41 L628.24,529.15 L628.59,527.85 L628.93,531.90 L629.27,530.30 L629.61,530.93 L629.95,529.15 L630.29,531.63 L630.64,527.94 L630.98,531.76 L631.32,532.33 L631.74,530.06 L631.86,527.26 L631.98,530.41 L632.35,532.13 L632.69,527.53 L633.03,530.68 L633.37,531.22 L633.71,531.85 L634.06,531.57 L634.40,529.82 L634.67,527.82 L634.79,523.53 L634.91,528.36 L635.08,531.29 L635.42,530.53 L635.77,527.86 L636.11,530.45 L636.45,529.30 L636.79,529.53 L637.13,532.59 L637.48,531.57 L637.82,531.69 L638.16,526.18 L638.50,531.37 L638.84,530.66 L639.19,532.78 L639.56,531.17 L639.67,529.12 L639.79,531.43 L640.21,532.24 L640.55,530.60 L640.90,532.05 L641.24,530.96 L641.58,532.14 L641.92,531.72 L642.26,532.49 L642.60,530.72 L642.95,530.80 L643.29,533.34 L643.63,533.03 L643.97,532.72 L644.31,532.22 L644.66,532.60 L645.00,531.32 L645.42,532.57 L645.54,531.45 L645.65,532.71 L646.02,533.08 L646.37,532.49 L646.71,531.85 L647.05,533.47 L647.39,532.29 L647.73,533.09 L648.08,532.01 L648.42,532.85 L648.76,532.33 L649.10,533.24 L649.44,533.13 L649.79,533.25 L650.13,533.75 L650.47,531.32 L650.81,532.67 L651.15,532.84 L651.50,532.82 L651.84,532.94 L652.18,533.77 L652.52,533.47 L652.86,533.68 L653.21,533.93 L653.55,533.77 L653.89,533.70 L654.23,533.42 L654.57,534.25 L654.92,534.25 L655.26,534.25" fill="none" stroke="#333" stroke-width="0.7" stroke-linejoin="round"/>
<line x1="383.9" y1="301.4" x2="678.0" y2="301.4" stroke="#9a9a9a" stroke-width="1.1"/>
<line x1="383.9" y1="534.5" x2="678.0" y2="534.5" stroke="#a0a0a0" stroke-width="1.4"/>
<line x1="384.5" y1="301.4" x2="384.5" y2="534.5" stroke="#bbb" stroke-width="1.4"/>
<line x1="677.4" y1="301.4" x2="677.4" y2="534.5" stroke="#aaa" stroke-width="1.2"/>
<line x1="383.70" y1="534.5" x2="383.70" y2="531.5" stroke="#666" stroke-width="0.8"/>
<line x1="383.70" y1="301.4" x2="383.70" y2="304.4" stroke="#666" stroke-width="0.8"/>
<text x="383.00" y="544.70" font-family="Liberation Sans, sans-serif" font-size="9.3" fill="#1a1a1a" stroke="#1a1a1a" stroke-width="0.42" text-anchor="middle" textLength="14.74" lengthAdjust="spacingAndGlyphs">-1.5</text>
<line x1="432.55" y1="534.5" x2="432.55" y2="531.5" stroke="#666" stroke-width="0.8"/>
<line x1="432.55" y1="301.4" x2="432.55" y2="304.4" stroke="#666" stroke-width="0.8"/>
<text x="431.85" y="544.70" font-family="Liberation Sans, sans-serif" font-size="9.3" fill="#1a1a1a" stroke="#1a1a1a" stroke-width="0.42" text-anchor="middle" textLength="7.61" lengthAdjust="spacingAndGlyphs">-1</text>
<line x1="481.40" y1="534.5" x2="481.40" y2="531.5" stroke="#666" stroke-width="0.8"/>
<line x1="481.40" y1="301.4" x2="481.40" y2="304.4" stroke="#666" stroke-width="0.8"/>
<text x="480.70" y="544.70" font-family="Liberation Sans, sans-serif" font-size="9.3" fill="#1a1a1a" stroke="#1a1a1a" stroke-width="0.42" text-anchor="middle" textLength="14.74" lengthAdjust="spacingAndGlyphs">-0.5</text>
<line x1="530.25" y1="534.5" x2="530.25" y2="531.5" stroke="#666" stroke-width="0.8"/>
<line x1="530.25" y1="301.4" x2="530.25" y2="304.4" stroke="#666" stroke-width="0.8"/>
<text x="529.55" y="544.70" font-family="Liberation Sans, sans-serif" font-size="9.3" fill="#1a1a1a" stroke="#1a1a1a" stroke-width="0.42" text-anchor="middle" textLength="4.76" lengthAdjust="spacingAndGlyphs">0</text>
<line x1="579.10" y1="534.5" x2="579.10" y2="531.5" stroke="#666" stroke-width="0.8"/>
<line x1="579.10" y1="301.4" x2="579.10" y2="304.4" stroke="#666" stroke-width="0.8"/>
<text x="578.40" y="544.70" font-family="Liberation Sans, sans-serif" font-size="9.3" fill="#1a1a1a" stroke="#1a1a1a" stroke-width="0.42" text-anchor="middle" textLength="11.89" lengthAdjust="spacingAndGlyphs">0.5</text>
<line x1="627.95" y1="534.5" x2="627.95" y2="531.5" stroke="#666" stroke-width="0.8"/>
<line x1="627.95" y1="301.4" x2="627.95" y2="304.4" stroke="#666" stroke-width="0.8"/>
<text x="627.25" y="544.70" font-family="Liberation Sans, sans-serif" font-size="9.3" fill="#1a1a1a" stroke="#1a1a1a" stroke-width="0.42" text-anchor="middle" textLength="4.76" lengthAdjust="spacingAndGlyphs">1</text>
<line x1="676.80" y1="534.5" x2="676.80" y2="531.5" stroke="#666" stroke-width="0.8"/>
<line x1="676.80" y1="301.4" x2="676.80" y2="304.4" stroke="#666" stroke-width="0.8"/>
<text x="676.10" y="544.70" font-family="Liberation Sans, sans-serif" font-size="9.3" fill="#1a1a1a" stroke="#1a1a1a" stroke-width="0.42" text-anchor="middle" textLength="11.89" lengthAdjust="spacingAndGlyphs">1.5</text>
<line x1="384.5" y1="534.25" x2="387.5" y2="534.25" stroke="#666" stroke-width="0.8"/>
<line x1="677.4" y1="534.25" x2="674.4" y2="534.25" stroke="#666" stroke-width="0.8"/>
<text x="381.50" y="537.25" font-family="Liberation Sans, sans-serif" font-size="9.3" fill="#1a1a1a" stroke="#1a1a1a" stroke-width="0.42" text-anchor="end" textLength="4.76" lengthAdjust="spacingAndGlyphs">0</text>
<line x1="384.5" y1="510.95" x2="387.5" y2="510.95" stroke="#666" stroke-width="0.8"/>
<line x1="677.4" y1="510.95" x2="674.4" y2="510.95" stroke="#666" stroke-width="0.8"/>
<text x="381.50" y="513.95" font-family="Liberation Sans, sans-serif" font-size="9.3" fill="#1a1a1a" stroke="#1a1a1a" stroke-width="0.42" text-anchor="end" textLength="11.89" lengthAdjust="spacingAndGlyphs">0.1</text>
<line x1="384.5" y1="487.65" x2="387.5" y2="487.65" stroke="#666" stroke-width="0.8"/>
<line x1="677.4" y1="487.65" x2="674.4" y2="487.65" stroke="#666" stroke-width="0.8"/>
<text x="381.50" y="490.65" font-family="Liberation Sans, sans-serif" font-size="9.3" fill="#1a1a1a" stroke="#1a1a1a" stroke-width="0.42" text-anchor="end" textLength="11.89" lengthAdjust="spacingAndGlyphs">0.2</text>
<line x1="384.5" y1="464.35" x2="387.5" y2="464.35" stroke="#666" stroke-width="0.8"/>
<line x1="677.4" y1="464.35" x2="674.4" y2="464.35" stroke="#666" stroke-width="0.8"/>
<text x="381.50" y="467.35" font-family="Liberation Sans, sans-serif" font-size="9.3" fill="#1a1a1a" stroke="#1a1a1a" stroke-width="0.42" text-anchor="end" textLength="11.89" lengthAdjust="spacingAndGlyphs">0.3</text>
<line x1="384.5" y1="441.05" x2="387.5" y2="441.05" stroke="#666" stroke-width="0.8"/>
<line x1="677.4" y1="441.05" x2="674.4" y2="441.05" stroke="#666" stroke-width="0.8"/>
<text x="381.50" y="444.05" font-family="Liberation Sans, sans-serif" font-size="9.3" fill="#1a1a1a" stroke="#1a1a1a" stroke-width="0.42" text-anchor="end" textLength="11.89" lengthAdjust="spacingAndGlyphs">0.4</text>
<line x1="384.5" y1="417.75" x2="387.5" y2="417.75" stroke="#666" stroke-width="0.8"/>
<line x1="677.4" y1="417.75" x2="674.4" y2="417.75" stroke="#666" stroke-width="0.8"/>
<text x="381.50" y="420.75" font-family="Liberation Sans, sans-serif" font-size="9.3" fill="#1a1a1a" stroke="#1a1a1a" stroke-width="0.42" text-anchor="end" textLength="11.89" lengthAdjust="spacingAndGlyphs">0.5</text>
<line x1="384.5" y1="394.45" x2="387.5" y2="394.45" stroke="#666" stroke-width="0.8"/>
<line x1="677.4" y1="394.45" x2="674.4" y2="394.45" stroke="#666" stroke-width="0.8"/>
<text x="381.50" y="397.45" font-family="Liberation Sans, sans-serif" font-size="9.3" fill="#1a1a1a" stroke="#1a1a1a" stroke-width="0.42" text-anchor="end" textLength="11.89" lengthAdjust="spacingAndGlyphs">0.6</text>
<line x1="384.5" y1="371.15" x2="387.5" y2="371.15" stroke="#666" stroke-width="0.8"/>
<line x1="677.4" y1="371.15" x2="674.4" y2="371.15" stroke="#666" stroke-width="0.8"/>
<text x="381.50" y="374.15" font-family="Liberation Sans, sans-serif" font-size="9.3" fill="#1a1a1a" stroke="#1a1a1a" stroke-width="0.42" text-anchor="end" textLength="11.89" lengthAdjust="spacingAndGlyphs">0.7</text>
<line x1="384.5" y1="347.85" x2="387.5" y2="347.85" stroke="#666" stroke-width="0.8"/>
<line x1="677.4" y1="347.85" x2="674.4" y2="347.85" stroke="#666" stroke-width="0.8"/>
<text x="381.50" y="350.85" font-family="Liberation Sans, sans-serif" font-size="9.3" fill="#1a1a1a" stroke="#1a1a1a" stroke-width="0.42" text-anchor="end" textLength="11.89" lengthAdjust="spacingAndGlyphs">0.8</text>
<line x1="384.5" y1="324.55" x2="387.5" y2="324.55" stroke="#666" stroke-width="0.8"/>
<line x1="677.4" y1="324.55" x2="674.4" y2="324.55" stroke="#666" stroke-width="0.8"/>
<text x="381.50" y="327.55" font-family="Liberation Sans, sans-serif" font-size="9.3" fill="#1a1a1a" stroke="#1a1a1a" stroke-width="0.42" text-anchor="end" textLength="11.89" lengthAdjust="spacingAndGlyphs">0.9</text>
<line x1="384.5" y1="301.25" x2="387.5" y2="301.25" stroke="#666" stroke-width="0.8"/>
<line x1="677.4" y1="301.25" x2="674.4" y2="301.25" stroke="#666" stroke-width="0.8"/>
<text x="381.50" y="304.25" font-family="Liberation Sans, sans-serif" font-size="9.3" fill="#1a1a1a" stroke="#1a1a1a" stroke-width="0.42" text-anchor="end" textLength="4.76" lengthAdjust="spacingAndGlyphs">1</text>
<text x="531" y="557.6" font-family="Liberation Serif, serif" font-size="10.8" font-weight="normal" fill="#111" text-anchor="middle" textLength="63.5" lengthAdjust="spacingAndGlyphs" stroke="#111" stroke-width="0.32">Dwell time (s)</text>
<text transform="translate(361.5,423.7) rotate(-90)" font-family="Liberation Serif, serif" font-size="10.8" font-weight="normal" fill="#111" text-anchor="middle" textLength="126" lengthAdjust="spacingAndGlyphs" stroke="#111" stroke-width="0.32">Normalized auto-correlation</text>
<text x="349.3" y="290.4" font-family="Liberation Sans, sans-serif" font-size="18.2" fill="#111" stroke="#111" stroke-width="0.45">(d)</text>
</svg>
</body></html>
